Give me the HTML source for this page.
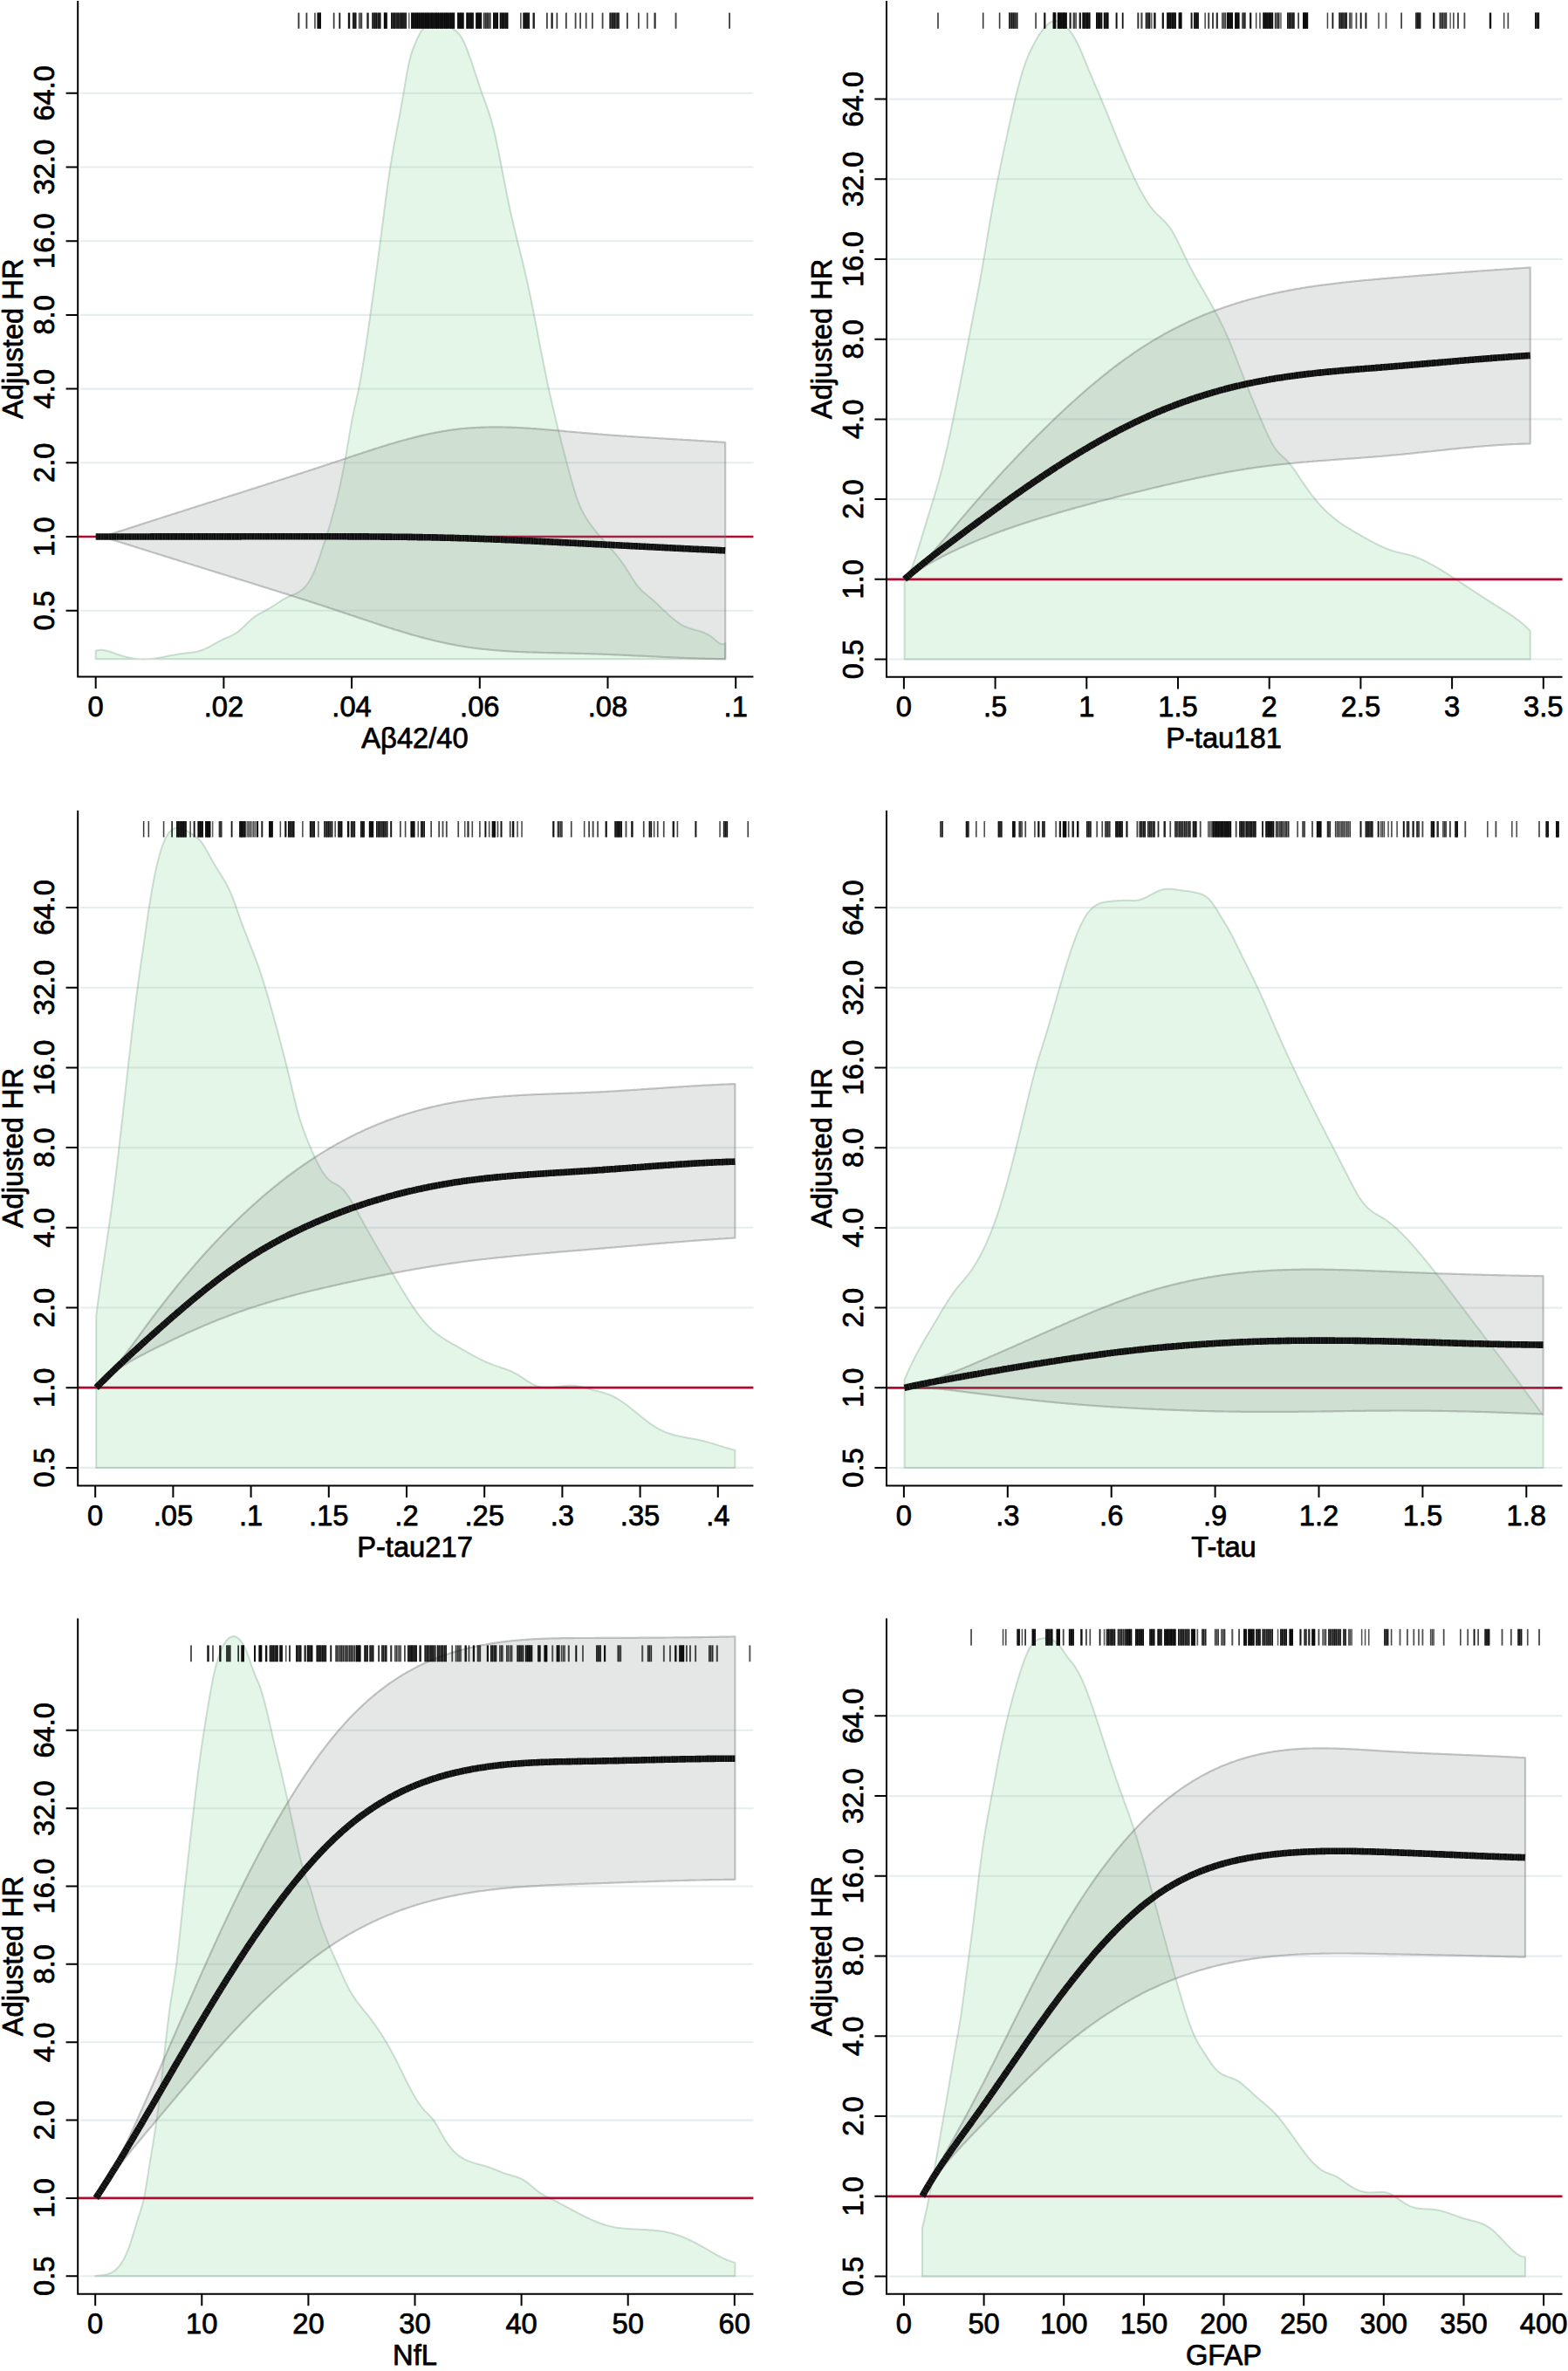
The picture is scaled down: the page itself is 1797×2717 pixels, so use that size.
<!DOCTYPE html>
<html lang="en">
<head>
<meta charset="utf-8">
<title>Adjusted HR spline curves</title>
<style>
html,body{margin:0;padding:0;background:#fff;}
body{width:1797px;height:2717px;overflow:hidden;}
svg{display:block;}
</style>
</head>
<body>
<svg width="1797" height="2717" viewBox="0 0 1797 2717">
<rect width="1797" height="2717" fill="#fff"/>
<g id="panel1">
<path d="M91.7 699.7H863.4M91.7 530.3H863.4M91.7 445.6H863.4M91.7 360.9H863.4M91.7 276.2H863.4M91.7 191.5H863.4M91.7 106.8H863.4" stroke="#e6edef" stroke-width="2.1" fill="none"/>
<path d="M109.7 755.2 L109.7 745.7 L111.2 745.3 L112.7 745 L114.2 744.8 L115.7 744.8 L117.2 744.8 L118.7 745 L120.2 745.2 L121.7 745.6 L123.2 745.9 L124.7 746.4 L126.2 746.8 L127.7 747.3 L129.2 747.9 L130.7 748.4 L132.2 749 L133.7 749.5 L135.2 750 L136.7 750.5 L138.2 751 L139.7 751.5 L141.2 751.9 L142.7 752.3 L144.2 752.7 L145.7 753.1 L147.2 753.4 L148.7 753.7 L150.2 754 L151.7 754.3 L153.2 754.5 L154.7 754.7 L156.2 754.9 L157.7 755 L159.2 755.2 L160.7 755.3 L162.2 755.3 L163.7 755.4 L165.2 755.4 L166.7 755.4 L168.2 755.3 L169.7 755.2 L171.2 755.1 L172.7 755 L174.2 754.8 L175.7 754.7 L177.2 754.5 L178.7 754.3 L180.2 754 L181.7 753.8 L183.2 753.5 L184.7 753.3 L186.2 753 L187.7 752.7 L189.2 752.4 L190.7 752.1 L192.2 751.9 L193.7 751.6 L195.2 751.3 L196.7 751 L198.2 750.7 L199.7 750.4 L201.2 750.1 L202.7 749.9 L204.2 749.6 L205.7 749.4 L207.2 749.1 L208.7 748.9 L210.2 748.7 L211.7 748.6 L213.2 748.4 L214.7 748.2 L216.2 748 L217.7 747.9 L219.2 747.7 L220.7 747.5 L222.2 747.2 L223.7 747 L225.2 746.7 L226.7 746.4 L228.2 746 L229.7 745.5 L231.2 745.1 L232.7 744.5 L234.2 743.9 L235.7 743.2 L237.2 742.5 L238.7 741.8 L240.2 741 L241.7 740.2 L243.2 739.3 L244.7 738.5 L246.2 737.6 L247.7 736.8 L249.2 735.9 L250.7 735.1 L252.2 734.3 L253.7 733.6 L255.2 732.8 L256.7 732.1 L258.2 731.5 L259.7 730.9 L261.2 730.2 L262.7 729.6 L264.2 728.9 L265.7 728.2 L267.2 727.4 L268.7 726.6 L270.2 725.7 L271.7 724.7 L273.2 723.6 L274.7 722.3 L276.2 721 L277.7 719.6 L279.2 718.2 L280.7 716.7 L282.2 715.2 L283.7 713.8 L285.2 712.3 L286.7 710.9 L288.2 709.6 L289.7 708.3 L291.2 707.2 L292.7 706.1 L294.2 705.2 L295.7 704.2 L297.2 703.4 L298.7 702.6 L300.2 701.8 L301.7 701 L303.2 700.2 L304.7 699.4 L306.2 698.6 L307.7 697.7 L309.2 696.8 L310.7 695.9 L312.2 694.9 L313.7 694 L315.2 693 L316.7 692 L318.2 691 L319.7 690 L321.2 689.1 L322.7 688.1 L324.2 687.2 L325.7 686.4 L327.2 685.5 L328.7 684.7 L330.2 684 L331.7 683.3 L333.2 682.7 L334.7 682.1 L336.2 681.5 L337.7 680.8 L339.2 680.1 L340.7 679.3 L342.2 678.5 L343.7 677.5 L345.2 676.5 L346.7 675.3 L348.2 673.9 L349.7 672.3 L351.2 670.5 L352.7 668.5 L354.2 666.3 L355.7 663.8 L357.2 661 L358.7 657.9 L360.2 654.5 L361.7 650.8 L363.2 646.9 L364.7 642.8 L366.2 638.5 L367.7 634 L369.2 629.5 L370.7 624.9 L372.2 620.3 L373.7 615.6 L375.2 610.9 L376.7 606 L378.2 601 L379.7 595.8 L381.2 590.5 L382.7 585 L384.2 579.3 L385.7 573.4 L387.2 567.3 L388.7 560.8 L390.2 554.1 L391.7 547 L393.2 539.5 L394.7 531.6 L396.2 523.2 L397.7 514.3 L399.2 505.3 L400.7 496.3 L402.2 487.8 L403.7 479.8 L405.2 472.5 L406.7 465.6 L408.2 458.8 L409.7 452 L411.2 444.8 L412.7 437 L414.2 428.7 L415.7 419.7 L417.2 410.3 L418.7 400.5 L420.2 390.4 L421.7 380.1 L423.2 369.5 L424.7 358.9 L426.2 348.1 L427.7 337.3 L429.2 326.4 L430.7 315.4 L432.2 304.3 L433.7 293.1 L435.2 281.6 L436.7 270 L438.2 258.3 L439.7 246.6 L441.2 235 L442.7 223.6 L444.2 212.5 L445.7 202 L447.2 192 L448.7 182.6 L450.2 173.9 L451.7 165.6 L453.2 157.5 L454.7 149.6 L456.2 141.7 L457.7 133.7 L459.2 125.4 L460.7 116.9 L462.2 108.2 L463.7 99.3 L465.2 90.4 L466.7 81.9 L468.2 74.3 L469.7 67.8 L471.2 62.3 L472.7 57.6 L474.2 53.6 L475.7 49.9 L477.2 46.5 L478.7 43.2 L480.2 40.2 L481.7 37.5 L483.2 35.2 L484.7 33.4 L486.2 31.9 L487.7 30.8 L489.2 30 L490.7 29.3 L492.2 28.8 L493.7 28.3 L495.2 27.9 L496.7 27.6 L498.2 27.4 L499.7 27.2 L501.2 27.1 L502.7 27 L504.2 27.1 L505.7 27.3 L507.2 27.6 L508.7 27.9 L510.2 28.4 L511.7 29 L513.2 29.7 L514.7 30.5 L516.2 31.4 L517.7 32.3 L519.2 33.2 L520.7 34.2 L522.2 35.2 L523.7 36.5 L525.2 38 L526.7 39.7 L528.2 41.9 L529.7 44.4 L531.2 47.3 L532.7 50.6 L534.2 54.1 L535.7 57.9 L537.2 61.8 L538.7 66 L540.2 70.4 L541.7 74.8 L543.2 79.4 L544.7 84 L546.2 88.6 L547.7 93.1 L549.2 97.7 L550.7 102.1 L552.2 106.4 L553.7 110.6 L555.2 114.6 L556.7 118.7 L558.2 122.8 L559.7 127.1 L561.2 131.7 L562.7 136.6 L564.2 142 L565.7 147.9 L567.2 154.3 L568.7 161 L570.2 168.2 L571.7 175.5 L573.2 183.1 L574.7 190.8 L576.2 198.6 L577.7 206.4 L579.2 214.1 L580.7 221.7 L582.2 229.2 L583.7 236.4 L585.2 243.3 L586.7 249.9 L588.2 256.4 L589.7 262.7 L591.2 268.8 L592.7 274.9 L594.2 280.9 L595.7 286.9 L597.2 293 L598.7 299.1 L600.2 305.3 L601.7 311.6 L603.2 318.2 L604.7 324.9 L606.2 331.9 L607.7 339.1 L609.2 346.5 L610.7 354 L612.2 361.6 L613.7 369.3 L615.2 377.1 L616.7 384.8 L618.2 392.6 L619.7 400.4 L621.2 408 L622.7 415.6 L624.2 423 L625.7 430.4 L627.2 437.6 L628.7 444.6 L630.2 451.5 L631.7 458.2 L633.2 464.8 L634.7 471.3 L636.2 477.6 L637.7 483.9 L639.2 490 L640.7 496 L642.2 502 L643.7 507.9 L645.2 513.7 L646.7 519.4 L648.2 525.2 L649.7 530.8 L651.2 536.5 L652.7 542.1 L654.2 547.7 L655.7 553.1 L657.2 558.3 L658.7 563.3 L660.2 568.1 L661.7 572.5 L663.2 576.5 L664.7 580.1 L666.2 583.5 L667.7 586.5 L669.2 589.3 L670.7 591.8 L672.2 594.2 L673.7 596.5 L675.2 598.7 L676.7 600.8 L678.2 602.9 L679.7 604.9 L681.2 606.8 L682.7 608.7 L684.2 610.5 L685.7 612.3 L687.2 614.1 L688.7 615.8 L690.2 617.5 L691.7 619.2 L693.2 620.9 L694.7 622.5 L696.2 624.2 L697.7 625.9 L699.2 627.6 L700.7 629.3 L702.2 631 L703.7 632.8 L705.2 634.6 L706.7 636.4 L708.2 638.3 L709.7 640.2 L711.2 642.2 L712.7 644.2 L714.2 646.4 L715.7 648.5 L717.2 650.8 L718.7 653.1 L720.2 655.5 L721.7 657.9 L723.2 660.3 L724.7 662.7 L726.2 665 L727.7 667.3 L729.2 669.4 L730.7 671.4 L732.2 673.3 L733.7 674.9 L735.2 676.5 L736.7 677.9 L738.2 679.3 L739.7 680.6 L741.2 681.8 L742.7 683 L744.2 684.2 L745.7 685.4 L747.2 686.7 L748.7 688 L750.2 689.4 L751.7 690.7 L753.2 692.1 L754.7 693.5 L756.2 695 L757.7 696.4 L759.2 697.8 L760.7 699.3 L762.2 700.7 L763.7 702.1 L765.2 703.5 L766.7 704.8 L768.2 706.2 L769.7 707.5 L771.2 708.8 L772.7 710 L774.2 711.2 L775.7 712.3 L777.2 713.4 L778.7 714.4 L780.2 715.4 L781.7 716.3 L783.2 717.1 L784.7 717.8 L786.2 718.4 L787.7 719 L789.2 719.6 L790.7 720.1 L792.2 720.5 L793.7 721 L795.2 721.4 L796.7 721.8 L798.2 722.2 L799.7 722.6 L801.2 723 L802.7 723.5 L804.2 724 L805.7 724.5 L807.2 725.1 L808.7 725.8 L810.2 726.5 L811.7 727.3 L813.2 728.2 L814.7 729.2 L816.2 730.3 L817.7 731.5 L819.2 732.9 L820.7 734.2 L822.2 735.5 L823.7 736.6 L825.2 737.5 L826.7 738.1 L828.2 738.2 L829.7 738 L831.2 737.1 L831.2 755.2Z" fill="rgba(120,210,135,0.2)" stroke="rgba(95,145,110,0.28)" stroke-width="2" stroke-linejoin="round"/>
<path d="M89.2 615H863.4" stroke="#b00a30" stroke-width="2.7" fill="none"/>
<path d="M117.4 615 L119.4 614.4 L121.4 613.7 L123.4 613.1 L125.4 612.5 L127.4 611.8 L129.4 611.2 L131.4 610.6 L133.4 609.9 L135.4 609.3 L137.4 608.6 L139.4 608 L141.4 607.4 L143.4 606.7 L145.4 606.1 L147.4 605.4 L149.4 604.8 L151.4 604.1 L153.4 603.5 L155.4 602.9 L157.4 602.2 L159.4 601.6 L161.4 600.9 L163.4 600.3 L165.4 599.6 L167.4 599 L169.4 598.3 L171.4 597.7 L173.4 597 L175.4 596.4 L177.4 595.8 L179.4 595.1 L181.4 594.5 L183.4 593.8 L185.4 593.2 L187.4 592.5 L189.4 591.9 L191.4 591.3 L193.4 590.6 L195.4 590 L197.4 589.3 L199.4 588.7 L201.4 588.1 L203.4 587.4 L205.4 586.8 L207.4 586.2 L209.4 585.5 L211.4 584.9 L213.4 584.2 L215.4 583.6 L217.4 583 L219.4 582.3 L221.4 581.7 L223.4 581.1 L225.4 580.4 L227.4 579.8 L229.4 579.2 L231.4 578.5 L233.4 577.9 L235.4 577.3 L237.4 576.6 L239.4 576 L241.4 575.4 L243.4 574.7 L245.4 574.1 L247.4 573.5 L249.4 572.8 L251.4 572.2 L253.4 571.6 L255.4 570.9 L257.4 570.3 L259.4 569.7 L261.4 569 L263.4 568.4 L265.4 567.8 L267.4 567.1 L269.4 566.5 L271.4 565.9 L273.4 565.2 L275.4 564.6 L277.4 564 L279.4 563.3 L281.4 562.7 L283.4 562 L285.4 561.4 L287.4 560.8 L289.4 560.1 L291.4 559.5 L293.4 558.9 L295.4 558.2 L297.3 557.6 L299.3 557 L301.3 556.3 L303.3 555.7 L305.3 555 L307.3 554.4 L309.3 553.8 L311.3 553.1 L313.3 552.5 L315.3 551.8 L317.3 551.2 L319.3 550.5 L321.3 549.9 L323.3 549.3 L325.3 548.6 L327.3 548 L329.3 547.3 L331.3 546.7 L333.3 546 L335.3 545.4 L337.3 544.7 L339.3 544.1 L341.3 543.4 L343.3 542.8 L345.3 542.1 L347.3 541.5 L349.3 540.8 L351.3 540.2 L353.3 539.5 L355.3 538.9 L357.3 538.2 L359.3 537.6 L361.3 536.9 L363.3 536.3 L365.3 535.6 L367.3 535 L369.3 534.3 L371.3 533.6 L373.3 533 L375.3 532.3 L377.3 531.7 L379.3 531 L381.3 530.3 L383.3 529.7 L385.3 529 L387.3 528.3 L389.3 527.7 L391.3 527 L393.3 526.3 L395.3 525.7 L397.3 525 L399.3 524.3 L401.3 523.6 L403.3 523 L405.3 522.3 L407.3 521.6 L409.3 521 L411.3 520.3 L413.3 519.7 L415.3 519 L417.3 518.3 L419.3 517.7 L421.3 517 L423.3 516.4 L425.3 515.7 L427.3 515.1 L429.3 514.4 L431.3 513.8 L433.3 513.2 L435.3 512.5 L437.3 511.9 L439.3 511.3 L441.3 510.7 L443.3 510.1 L445.3 509.4 L447.3 508.8 L449.3 508.2 L451.3 507.7 L453.3 507.1 L455.3 506.5 L457.3 505.9 L459.3 505.3 L461.3 504.8 L463.3 504.2 L465.3 503.7 L467.3 503.1 L469.3 502.6 L471.3 502.1 L473.3 501.6 L475.3 501.1 L477.3 500.6 L479.3 500.1 L481.3 499.6 L483.3 499.1 L485.3 498.6 L487.3 498.2 L489.3 497.7 L491.3 497.3 L493.3 496.9 L495.3 496.5 L497.3 496.1 L499.3 495.7 L501.3 495.3 L503.3 494.9 L505.3 494.6 L507.3 494.2 L509.3 493.9 L511.3 493.6 L513.3 493.2 L515.3 492.9 L517.3 492.7 L519.3 492.4 L521.3 492.1 L523.3 491.9 L525.3 491.6 L527.3 491.4 L529.3 491.2 L531.3 491 L533.3 490.8 L535.3 490.6 L537.3 490.5 L539.3 490.3 L541.3 490.2 L543.3 490.1 L545.3 490 L547.3 489.9 L549.3 489.8 L551.3 489.7 L553.3 489.6 L555.3 489.6 L557.3 489.5 L559.3 489.5 L561.3 489.4 L563.3 489.4 L565.3 489.4 L567.3 489.4 L569.3 489.4 L571.3 489.4 L573.3 489.4 L575.3 489.4 L577.3 489.5 L579.3 489.5 L581.3 489.6 L583.3 489.6 L585.3 489.7 L587.3 489.8 L589.3 489.9 L591.3 489.9 L593.3 490 L595.3 490.1 L597.3 490.2 L599.3 490.3 L601.3 490.5 L603.3 490.6 L605.3 490.7 L607.3 490.8 L609.3 491 L611.3 491.1 L613.3 491.2 L615.3 491.4 L617.3 491.5 L619.3 491.7 L621.3 491.8 L623.3 492 L625.3 492.2 L627.3 492.3 L629.3 492.5 L631.3 492.7 L633.3 492.8 L635.3 493 L637.3 493.2 L639.3 493.4 L641.3 493.6 L643.3 493.7 L645.3 493.9 L647.3 494.1 L649.3 494.3 L651.3 494.5 L653.2 494.6 L655.2 494.8 L657.2 495 L659.2 495.2 L661.2 495.4 L663.2 495.5 L665.2 495.7 L667.2 495.9 L669.2 496.1 L671.2 496.2 L673.2 496.4 L675.2 496.6 L677.2 496.7 L679.2 496.9 L681.2 497.1 L683.2 497.2 L685.2 497.4 L687.2 497.5 L689.2 497.7 L691.2 497.9 L693.2 498 L695.2 498.2 L697.2 498.3 L699.2 498.5 L701.2 498.6 L703.2 498.8 L705.2 498.9 L707.2 499 L709.2 499.2 L711.2 499.3 L713.2 499.5 L715.2 499.6 L717.2 499.7 L719.2 499.9 L721.2 500 L723.2 500.1 L725.2 500.3 L727.2 500.4 L729.2 500.5 L731.2 500.7 L733.2 500.8 L735.2 500.9 L737.2 501 L739.2 501.2 L741.2 501.3 L743.2 501.4 L745.2 501.5 L747.2 501.7 L749.2 501.8 L751.2 501.9 L753.2 502 L755.2 502.2 L757.2 502.3 L759.2 502.4 L761.2 502.5 L763.2 502.7 L765.2 502.8 L767.2 502.9 L769.2 503 L771.2 503.1 L773.2 503.3 L775.2 503.4 L777.2 503.5 L779.2 503.6 L781.2 503.7 L783.2 503.9 L785.2 504 L787.2 504.1 L789.2 504.2 L791.2 504.3 L793.2 504.5 L795.2 504.6 L797.2 504.7 L799.2 504.8 L801.2 505 L803.2 505.1 L805.2 505.2 L807.2 505.3 L809.2 505.5 L811.2 505.6 L813.2 505.7 L815.2 505.8 L817.2 506 L819.2 506.1 L821.2 506.2 L823.2 506.4 L825.2 506.5 L827.2 506.6 L829.2 506.8 L831.2 506.9 L831.2 755.2 L829.2 755.2 L827.2 755.1 L825.2 755.1 L823.2 755.1 L821.2 755.1 L819.2 755 L817.2 755 L815.2 754.9 L813.2 754.9 L811.2 754.8 L809.2 754.8 L807.2 754.7 L805.2 754.7 L803.2 754.6 L801.2 754.6 L799.2 754.5 L797.2 754.4 L795.2 754.4 L793.2 754.3 L791.2 754.2 L789.2 754.1 L787.2 754.1 L785.2 754 L783.2 753.9 L781.2 753.8 L779.2 753.8 L777.2 753.7 L775.2 753.6 L773.2 753.5 L771.2 753.4 L769.2 753.3 L767.2 753.2 L765.2 753.2 L763.2 753.1 L761.2 753 L759.2 752.9 L757.2 752.8 L755.2 752.7 L753.2 752.6 L751.2 752.5 L749.2 752.4 L747.2 752.3 L745.2 752.2 L743.2 752.1 L741.2 752 L739.2 751.9 L737.2 751.8 L735.2 751.7 L733.2 751.6 L731.2 751.6 L729.2 751.5 L727.2 751.4 L725.2 751.3 L723.2 751.2 L721.2 751.1 L719.2 751 L717.2 750.9 L715.2 750.8 L713.2 750.7 L711.2 750.6 L709.2 750.5 L707.2 750.4 L705.2 750.4 L703.2 750.3 L701.2 750.2 L699.2 750.1 L697.2 750 L695.2 749.9 L693.2 749.9 L691.2 749.8 L689.2 749.7 L687.2 749.6 L685.2 749.5 L683.2 749.5 L681.2 749.4 L679.2 749.3 L677.2 749.3 L675.2 749.2 L673.2 749.1 L671.2 749.1 L669.2 749 L667.2 749 L665.2 748.9 L663.2 748.9 L661.2 748.8 L659.2 748.8 L657.2 748.7 L655.2 748.7 L653.2 748.6 L651.3 748.6 L649.3 748.5 L647.3 748.5 L645.3 748.5 L643.3 748.4 L641.3 748.4 L639.3 748.3 L637.3 748.3 L635.3 748.2 L633.3 748.2 L631.3 748.2 L629.3 748.1 L627.3 748.1 L625.3 748 L623.3 748 L621.3 747.9 L619.3 747.8 L617.3 747.8 L615.3 747.7 L613.3 747.7 L611.3 747.6 L609.3 747.5 L607.3 747.5 L605.3 747.4 L603.3 747.3 L601.3 747.2 L599.3 747.2 L597.3 747.1 L595.3 747 L593.3 746.9 L591.3 746.8 L589.3 746.7 L587.3 746.6 L585.3 746.4 L583.3 746.3 L581.3 746.2 L579.3 746.1 L577.3 745.9 L575.3 745.8 L573.3 745.6 L571.3 745.5 L569.3 745.3 L567.3 745.2 L565.3 745 L563.3 744.8 L561.3 744.6 L559.3 744.4 L557.3 744.2 L555.3 744 L553.3 743.8 L551.3 743.6 L549.3 743.3 L547.3 743.1 L545.3 742.8 L543.3 742.6 L541.3 742.3 L539.3 742 L537.3 741.8 L535.3 741.5 L533.3 741.2 L531.3 740.8 L529.3 740.5 L527.3 740.2 L525.3 739.8 L523.3 739.5 L521.3 739.1 L519.3 738.7 L517.3 738.4 L515.3 738 L513.3 737.6 L511.3 737.1 L509.3 736.7 L507.3 736.3 L505.3 735.8 L503.3 735.4 L501.3 734.9 L499.3 734.5 L497.3 734 L495.3 733.5 L493.3 733 L491.3 732.5 L489.3 732 L487.3 731.5 L485.3 730.9 L483.3 730.4 L481.3 729.9 L479.3 729.3 L477.3 728.8 L475.3 728.2 L473.3 727.7 L471.3 727.1 L469.3 726.5 L467.3 725.9 L465.3 725.3 L463.3 724.7 L461.3 724.1 L459.3 723.5 L457.3 722.9 L455.3 722.3 L453.3 721.7 L451.3 721.1 L449.3 720.4 L447.3 719.8 L445.3 719.2 L443.3 718.5 L441.3 717.9 L439.3 717.2 L437.3 716.6 L435.3 715.9 L433.3 715.3 L431.3 714.6 L429.3 714 L427.3 713.3 L425.3 712.6 L423.3 712 L421.3 711.3 L419.3 710.6 L417.3 710 L415.3 709.3 L413.3 708.6 L411.3 708 L409.3 707.3 L407.3 706.6 L405.3 705.9 L403.3 705.3 L401.3 704.6 L399.3 703.9 L397.3 703.2 L395.3 702.6 L393.3 701.9 L391.3 701.2 L389.3 700.6 L387.3 699.9 L385.3 699.2 L383.3 698.6 L381.3 697.9 L379.3 697.2 L377.3 696.6 L375.3 695.9 L373.3 695.3 L371.3 694.6 L369.3 694 L367.3 693.3 L365.3 692.7 L363.3 692 L361.3 691.4 L359.3 690.7 L357.3 690.1 L355.3 689.4 L353.3 688.8 L351.3 688.1 L349.3 687.5 L347.3 686.9 L345.3 686.2 L343.3 685.6 L341.3 685 L339.3 684.3 L337.3 683.7 L335.3 683 L333.3 682.4 L331.3 681.8 L329.3 681.1 L327.3 680.5 L325.3 679.9 L323.3 679.3 L321.3 678.6 L319.3 678 L317.3 677.4 L315.3 676.7 L313.3 676.1 L311.3 675.5 L309.3 674.9 L307.3 674.2 L305.3 673.6 L303.3 673 L301.3 672.4 L299.3 671.8 L297.3 671.1 L295.4 670.5 L293.4 669.9 L291.4 669.3 L289.4 668.6 L287.4 668 L285.4 667.4 L283.4 666.8 L281.4 666.2 L279.4 665.5 L277.4 664.9 L275.4 664.3 L273.4 663.7 L271.4 663.1 L269.4 662.4 L267.4 661.8 L265.4 661.2 L263.4 660.6 L261.4 660 L259.4 659.3 L257.4 658.7 L255.4 658.1 L253.4 657.5 L251.4 656.9 L249.4 656.2 L247.4 655.6 L245.4 655 L243.4 654.4 L241.4 653.8 L239.4 653.1 L237.4 652.5 L235.4 651.9 L233.4 651.3 L231.4 650.6 L229.4 650 L227.4 649.4 L225.4 648.8 L223.4 648.2 L221.4 647.5 L219.4 646.9 L217.4 646.3 L215.4 645.7 L213.4 645 L211.4 644.4 L209.4 643.8 L207.4 643.2 L205.4 642.6 L203.4 641.9 L201.4 641.3 L199.4 640.7 L197.4 640.1 L195.4 639.4 L193.4 638.8 L191.4 638.2 L189.4 637.6 L187.4 636.9 L185.4 636.3 L183.4 635.7 L181.4 635.1 L179.4 634.4 L177.4 633.8 L175.4 633.2 L173.4 632.5 L171.4 631.9 L169.4 631.3 L167.4 630.7 L165.4 630 L163.4 629.4 L161.4 628.8 L159.4 628.2 L157.4 627.5 L155.4 626.9 L153.4 626.3 L151.4 625.6 L149.4 625 L147.4 624.4 L145.4 623.8 L143.4 623.1 L141.4 622.5 L139.4 621.9 L137.4 621.2 L135.4 620.6 L133.4 620 L131.4 619.4 L129.4 618.7 L127.4 618.1 L125.4 617.5 L123.4 616.9 L121.4 616.2 L119.4 615.6 L117.4 615Z" fill="rgba(125,135,130,0.2)" stroke="rgba(112,116,114,0.40)" stroke-width="2.2" stroke-linejoin="round"/>
<g fill="#0a0a0a"><rect x="341.4" y="14.6" width="1.9" height="18.2" fill-opacity="0.81"/><rect x="350.5" y="14.6" width="1.8" height="18.2" fill-opacity="0.81"/><rect x="360.2" y="14.6" width="1.5" height="18.2" fill-opacity="0.81"/><rect x="363.6" y="14.6" width="4.3" height="18.2" fill-opacity="0.84"/><rect x="363.6" y="14.6" width="1.4" height="18.2" fill-opacity="0.95"/><rect x="365.3" y="14.6" width="1.4" height="18.2" fill-opacity="0.95"/><rect x="366.5" y="14.6" width="1.4" height="18.2" fill-opacity="0.95"/><rect x="381.8" y="14.6" width="1.7" height="18.2" fill-opacity="0.81"/><rect x="388.4" y="14.6" width="1.8" height="18.2" fill-opacity="0.96"/><rect x="398.8" y="14.6" width="2.4" height="18.2" fill-opacity="0.96"/><rect x="404" y="14.6" width="4.4" height="18.2" fill-opacity="0.63"/><rect x="404" y="14.6" width="1.4" height="18.2" fill-opacity="0.88"/><rect x="405.5" y="14.6" width="1.4" height="18.2" fill-opacity="0.88"/><rect x="407" y="14.6" width="1.4" height="18.2" fill-opacity="0.88"/><rect x="410.9" y="14.6" width="4.3" height="18.2" fill-opacity="0.21"/><rect x="410.9" y="14.6" width="1.4" height="18.2" fill-opacity="0.68"/><rect x="412.6" y="14.6" width="1.4" height="18.2" fill-opacity="0.68"/><rect x="413.8" y="14.6" width="1.4" height="18.2" fill-opacity="0.68"/><rect x="420.3" y="14.6" width="2.4" height="18.2" fill-opacity="0.91"/><rect x="426.4" y="14.6" width="10" height="18.2" fill-opacity="0.73"/><rect x="426.4" y="14.6" width="1.4" height="18.2" fill-opacity="0.93"/><rect x="428.7" y="14.6" width="1.4" height="18.2" fill-opacity="0.93"/><rect x="430.6" y="14.6" width="1.4" height="18.2" fill-opacity="0.93"/><rect x="433.1" y="14.6" width="1.4" height="18.2" fill-opacity="0.93"/><rect x="435" y="14.6" width="1.4" height="18.2" fill-opacity="0.93"/><rect x="439.9" y="14.6" width="3.8" height="18.2" fill-opacity="0.84"/><rect x="439.9" y="14.6" width="1.4" height="18.2" fill-opacity="0.95"/><rect x="440.9" y="14.6" width="1.4" height="18.2" fill-opacity="0.95"/><rect x="442.3" y="14.6" width="1.4" height="18.2" fill-opacity="0.95"/><rect x="448" y="14.6" width="18" height="18.2" fill-opacity="0.73"/><rect x="448" y="14.6" width="1.4" height="18.2" fill-opacity="0.93"/><rect x="450.1" y="14.6" width="1.4" height="18.2" fill-opacity="0.93"/><rect x="451.9" y="14.6" width="1.4" height="18.2" fill-opacity="0.93"/><rect x="454.3" y="14.6" width="1.4" height="18.2" fill-opacity="0.93"/><rect x="456.2" y="14.6" width="1.4" height="18.2" fill-opacity="0.93"/><rect x="458.6" y="14.6" width="1.4" height="18.2" fill-opacity="0.93"/><rect x="460.4" y="14.6" width="1.4" height="18.2" fill-opacity="0.93"/><rect x="462.3" y="14.6" width="1.4" height="18.2" fill-opacity="0.93"/><rect x="464.6" y="14.6" width="1.4" height="18.2" fill-opacity="0.93"/><rect x="467.9" y="14.6" width="1.7" height="18.2" fill-opacity="0.56"/><rect x="471.2" y="14.6" width="49.9" height="18.2" fill-opacity="0.92"/><rect x="471.2" y="14.6" width="1.4" height="18.2" fill-opacity="0.95"/><rect x="473.3" y="14.6" width="1.4" height="18.2" fill-opacity="0.95"/><rect x="475.8" y="14.6" width="1.4" height="18.2" fill-opacity="0.95"/><rect x="477.8" y="14.6" width="1.4" height="18.2" fill-opacity="0.95"/><rect x="479.8" y="14.6" width="1.4" height="18.2" fill-opacity="0.95"/><rect x="482.3" y="14.6" width="1.4" height="18.2" fill-opacity="0.95"/><rect x="484.3" y="14.6" width="1.4" height="18.2" fill-opacity="0.95"/><rect x="486.9" y="14.6" width="1.4" height="18.2" fill-opacity="0.95"/><rect x="488.8" y="14.6" width="1.4" height="18.2" fill-opacity="0.95"/><rect x="490.8" y="14.6" width="1.4" height="18.2" fill-opacity="0.95"/><rect x="493.4" y="14.6" width="1.4" height="18.2" fill-opacity="0.95"/><rect x="495.3" y="14.6" width="1.4" height="18.2" fill-opacity="0.95"/><rect x="497.9" y="14.6" width="1.4" height="18.2" fill-opacity="0.95"/><rect x="499.9" y="14.6" width="1.4" height="18.2" fill-opacity="0.95"/><rect x="501.8" y="14.6" width="1.4" height="18.2" fill-opacity="0.95"/><rect x="504.4" y="14.6" width="1.4" height="18.2" fill-opacity="0.95"/><rect x="506.4" y="14.6" width="1.4" height="18.2" fill-opacity="0.95"/><rect x="508.9" y="14.6" width="1.4" height="18.2" fill-opacity="0.95"/><rect x="510.9" y="14.6" width="1.4" height="18.2" fill-opacity="0.95"/><rect x="512.8" y="14.6" width="1.4" height="18.2" fill-opacity="0.95"/><rect x="515.4" y="14.6" width="1.4" height="18.2" fill-opacity="0.95"/><rect x="517.4" y="14.6" width="1.4" height="18.2" fill-opacity="0.95"/><rect x="519.7" y="14.6" width="1.4" height="18.2" fill-opacity="0.95"/><rect x="524.2" y="14.6" width="7.3" height="18.2" fill-opacity="0.92"/><rect x="524.2" y="14.6" width="1.4" height="18.2" fill-opacity="0.95"/><rect x="526.3" y="14.6" width="1.4" height="18.2" fill-opacity="0.95"/><rect x="528" y="14.6" width="1.4" height="18.2" fill-opacity="0.95"/><rect x="530.1" y="14.6" width="1.4" height="18.2" fill-opacity="0.95"/><rect x="534.4" y="14.6" width="8.3" height="18.2" fill-opacity="0.84"/><rect x="534.4" y="14.6" width="1.4" height="18.2" fill-opacity="0.95"/><rect x="535.9" y="14.6" width="1.4" height="18.2" fill-opacity="0.95"/><rect x="538" y="14.6" width="1.4" height="18.2" fill-opacity="0.95"/><rect x="539.5" y="14.6" width="1.4" height="18.2" fill-opacity="0.95"/><rect x="541.3" y="14.6" width="1.4" height="18.2" fill-opacity="0.95"/><rect x="545.3" y="14.6" width="6.8" height="18.2" fill-opacity="0.92"/><rect x="545.3" y="14.6" width="1.4" height="18.2" fill-opacity="0.95"/><rect x="547.1" y="14.6" width="1.4" height="18.2" fill-opacity="0.95"/><rect x="548.7" y="14.6" width="1.4" height="18.2" fill-opacity="0.95"/><rect x="550.7" y="14.6" width="1.4" height="18.2" fill-opacity="0.95"/><rect x="553.9" y="14.6" width="8.6" height="18.2" fill-opacity="0.42"/><rect x="553.9" y="14.6" width="1.4" height="18.2" fill-opacity="0.78"/><rect x="555.9" y="14.6" width="1.4" height="18.2" fill-opacity="0.78"/><rect x="557.5" y="14.6" width="1.4" height="18.2" fill-opacity="0.78"/><rect x="559.1" y="14.6" width="1.4" height="18.2" fill-opacity="0.78"/><rect x="561.1" y="14.6" width="1.4" height="18.2" fill-opacity="0.78"/><rect x="565" y="14.6" width="6" height="18.2" fill-opacity="0.84"/><rect x="565" y="14.6" width="1.4" height="18.2" fill-opacity="0.95"/><rect x="566.4" y="14.6" width="1.4" height="18.2" fill-opacity="0.95"/><rect x="568.3" y="14.6" width="1.4" height="18.2" fill-opacity="0.95"/><rect x="569.6" y="14.6" width="1.4" height="18.2" fill-opacity="0.95"/><rect x="572.8" y="14.6" width="9.5" height="18.2" fill-opacity="0.84"/><rect x="572.8" y="14.6" width="1.4" height="18.2" fill-opacity="0.95"/><rect x="574.9" y="14.6" width="1.4" height="18.2" fill-opacity="0.95"/><rect x="576.7" y="14.6" width="1.4" height="18.2" fill-opacity="0.95"/><rect x="579.1" y="14.6" width="1.4" height="18.2" fill-opacity="0.95"/><rect x="580.9" y="14.6" width="1.4" height="18.2" fill-opacity="0.95"/><rect x="596.1" y="14.6" width="1.5" height="18.2" fill-opacity="0.76"/><rect x="599.5" y="14.6" width="7.4" height="18.2" fill-opacity="0.84"/><rect x="599.5" y="14.6" width="1.4" height="18.2" fill-opacity="0.95"/><rect x="601.5" y="14.6" width="1.4" height="18.2" fill-opacity="0.95"/><rect x="603.3" y="14.6" width="1.4" height="18.2" fill-opacity="0.95"/><rect x="605.5" y="14.6" width="1.4" height="18.2" fill-opacity="0.95"/><rect x="610.5" y="14.6" width="2.4" height="18.2" fill-opacity="0.91"/><rect x="626" y="14.6" width="1.8" height="18.2" fill-opacity="0.76"/><rect x="631.5" y="14.6" width="2.2" height="18.2" fill-opacity="0.96"/><rect x="637.5" y="14.6" width="1.7" height="18.2" fill-opacity="0.81"/><rect x="647.9" y="14.6" width="1.9" height="18.2" fill-opacity="0.76"/><rect x="658.7" y="14.6" width="1.8" height="18.2" fill-opacity="0.76"/><rect x="664.2" y="14.6" width="1.8" height="18.2" fill-opacity="0.76"/><rect x="670.8" y="14.6" width="1.8" height="18.2" fill-opacity="0.76"/><rect x="678" y="14.6" width="1.8" height="18.2" fill-opacity="0.76"/><rect x="689.7" y="14.6" width="1.8" height="18.2" fill-opacity="0.76"/><rect x="698.5" y="14.6" width="11.2" height="18.2" fill-opacity="0.63"/><rect x="698.5" y="14.6" width="1.4" height="18.2" fill-opacity="0.88"/><rect x="700.7" y="14.6" width="1.4" height="18.2" fill-opacity="0.88"/><rect x="702.4" y="14.6" width="1.4" height="18.2" fill-opacity="0.88"/><rect x="704.1" y="14.6" width="1.4" height="18.2" fill-opacity="0.88"/><rect x="706.5" y="14.6" width="1.4" height="18.2" fill-opacity="0.88"/><rect x="708.3" y="14.6" width="1.4" height="18.2" fill-opacity="0.88"/><rect x="718" y="14.6" width="1.9" height="18.2" fill-opacity="0.76"/><rect x="731" y="14.6" width="1.7" height="18.2" fill-opacity="0.76"/><rect x="741.1" y="14.6" width="1.6" height="18.2" fill-opacity="0.76"/><rect x="749.5" y="14.6" width="2.2" height="18.2" fill-opacity="0.86"/><rect x="773.6" y="14.6" width="1.9" height="18.2" fill-opacity="0.76"/><rect x="835.1" y="14.6" width="1.9" height="18.2" fill-opacity="0.76"/></g>
<path d="M109.7 615 L111.7 615 L113.7 615 L115.7 615 L117.7 615 L119.7 615 L121.7 615 L123.7 615 L125.7 615 L127.7 615 L129.7 615 L131.7 615 L133.7 615 L135.7 615 L137.7 615 L139.7 615 L141.7 615 L143.7 615 L145.7 615 L147.7 615 L149.7 615 L151.7 615 L153.7 615 L155.7 615 L157.7 615 L159.7 615 L161.7 615 L163.7 615 L165.7 615 L167.7 615 L169.7 615 L171.7 615 L173.7 614.9 L175.7 614.9 L177.7 614.9 L179.7 614.9 L181.7 614.9 L183.6 614.9 L185.6 614.9 L187.6 614.9 L189.6 614.9 L191.6 614.9 L193.6 614.9 L195.6 614.9 L197.6 614.9 L199.6 614.9 L201.6 614.9 L203.6 614.9 L205.6 614.9 L207.6 614.9 L209.6 614.9 L211.6 614.9 L213.6 614.9 L215.6 614.9 L217.6 614.9 L219.6 614.9 L221.6 614.9 L223.6 614.9 L225.6 614.9 L227.6 614.9 L229.6 614.9 L231.6 614.9 L233.6 614.9 L235.6 614.9 L237.6 614.9 L239.6 614.9 L241.6 614.9 L243.6 614.9 L245.6 614.9 L247.6 614.9 L249.6 614.9 L251.6 614.9 L253.6 614.9 L255.6 614.9 L257.6 614.9 L259.6 614.9 L261.6 614.9 L263.6 614.9 L265.6 614.9 L267.6 614.9 L269.6 614.9 L271.6 614.9 L273.6 614.9 L275.6 614.9 L277.6 614.8 L279.6 614.8 L281.6 614.8 L283.6 614.8 L285.6 614.8 L287.6 614.8 L289.6 614.8 L291.6 614.8 L293.6 614.8 L295.6 614.8 L297.6 614.8 L299.6 614.8 L301.6 614.8 L303.6 614.8 L305.6 614.8 L307.6 614.8 L309.6 614.8 L311.6 614.8 L313.6 614.8 L315.6 614.8 L317.6 614.8 L319.6 614.8 L321.6 614.8 L323.6 614.8 L325.6 614.8 L327.5 614.8 L329.5 614.8 L331.5 614.8 L333.5 614.8 L335.5 614.8 L337.5 614.8 L339.5 614.8 L341.5 614.8 L343.5 614.8 L345.5 614.8 L347.5 614.8 L349.5 614.8 L351.5 614.8 L353.5 614.8 L355.5 614.8 L357.5 614.8 L359.5 614.8 L361.5 614.8 L363.5 614.8 L365.5 614.8 L367.5 614.8 L369.5 614.8 L371.5 614.8 L373.5 614.8 L375.5 614.8 L377.5 614.8 L379.5 614.8 L381.5 614.8 L383.5 614.8 L385.5 614.8 L387.5 614.8 L389.5 614.8 L391.5 614.8 L393.5 614.8 L395.5 614.8 L397.5 614.8 L399.5 614.9 L401.5 614.9 L403.5 614.9 L405.5 614.9 L407.5 614.9 L409.5 614.9 L411.5 614.9 L413.5 614.9 L415.5 614.9 L417.5 614.9 L419.5 614.9 L421.5 614.9 L423.5 615 L425.5 615 L427.5 615 L429.5 615 L431.5 615 L433.5 615 L435.5 615 L437.5 615.1 L439.5 615.1 L441.5 615.1 L443.5 615.1 L445.5 615.1 L447.5 615.1 L449.5 615.2 L451.5 615.2 L453.5 615.2 L455.5 615.2 L457.5 615.2 L459.5 615.3 L461.5 615.3 L463.5 615.3 L465.5 615.3 L467.5 615.4 L469.5 615.4 L471.4 615.4 L473.4 615.5 L475.4 615.5 L477.4 615.5 L479.4 615.6 L481.4 615.6 L483.4 615.6 L485.4 615.7 L487.4 615.7 L489.4 615.7 L491.4 615.8 L493.4 615.8 L495.4 615.9 L497.4 615.9 L499.4 615.9 L501.4 616 L503.4 616 L505.4 616.1 L507.4 616.1 L509.4 616.2 L511.4 616.2 L513.4 616.3 L515.4 616.3 L517.4 616.4 L519.4 616.4 L521.4 616.5 L523.4 616.5 L525.4 616.6 L527.4 616.7 L529.4 616.7 L531.4 616.8 L533.4 616.8 L535.4 616.9 L537.4 617 L539.4 617 L541.4 617.1 L543.4 617.2 L545.4 617.3 L547.4 617.3 L549.4 617.4 L551.4 617.5 L553.4 617.5 L555.4 617.6 L557.4 617.7 L559.4 617.8 L561.4 617.8 L563.4 617.9 L565.4 618 L567.4 618.1 L569.4 618.2 L571.4 618.2 L573.4 618.3 L575.4 618.4 L577.4 618.5 L579.4 618.6 L581.4 618.7 L583.4 618.8 L585.4 618.8 L587.4 618.9 L589.4 619 L591.4 619.1 L593.4 619.2 L595.4 619.3 L597.4 619.4 L599.4 619.5 L601.4 619.6 L603.4 619.7 L605.4 619.8 L607.4 619.8 L609.4 619.9 L611.4 620 L613.4 620.1 L615.3 620.2 L617.3 620.3 L619.3 620.4 L621.3 620.5 L623.3 620.6 L625.3 620.7 L627.3 620.8 L629.3 620.9 L631.3 621 L633.3 621.1 L635.3 621.2 L637.3 621.3 L639.3 621.4 L641.3 621.5 L643.3 621.6 L645.3 621.7 L647.3 621.8 L649.3 621.9 L651.3 622 L653.3 622.1 L655.3 622.2 L657.3 622.3 L659.3 622.4 L661.3 622.5 L663.3 622.6 L665.3 622.7 L667.3 622.8 L669.3 622.9 L671.3 623 L673.3 623.1 L675.3 623.2 L677.3 623.3 L679.3 623.4 L681.3 623.5 L683.3 623.6 L685.3 623.7 L687.3 623.8 L689.3 623.9 L691.3 624 L693.3 624.1 L695.3 624.2 L697.3 624.3 L699.3 624.4 L701.3 624.5 L703.3 624.6 L705.3 624.7 L707.3 624.8 L709.3 624.9 L711.3 625 L713.3 625.1 L715.3 625.2 L717.3 625.3 L719.3 625.4 L721.3 625.5 L723.3 625.6 L725.3 625.7 L727.3 625.8 L729.3 625.9 L731.3 626 L733.3 626.1 L735.3 626.2 L737.3 626.3 L739.3 626.4 L741.3 626.5 L743.3 626.6 L745.3 626.7 L747.3 626.8 L749.3 626.9 L751.3 627 L753.3 627.1 L755.3 627.2 L757.3 627.3 L759.2 627.4 L761.2 627.5 L763.2 627.6 L765.2 627.7 L767.2 627.8 L769.2 627.9 L771.2 628 L773.2 628.1 L775.2 628.2 L777.2 628.3 L779.2 628.4 L781.2 628.5 L783.2 628.6 L785.2 628.7 L787.2 628.8 L789.2 628.9 L791.2 629 L793.2 629.1 L795.2 629.2 L797.2 629.3 L799.2 629.4 L801.2 629.5 L803.2 629.5 L805.2 629.6 L807.2 629.7 L809.2 629.8 L811.2 629.9 L813.2 630 L815.2 630.1 L817.2 630.2 L819.2 630.3 L821.2 630.4 L823.2 630.5 L825.2 630.6 L827.2 630.7 L829.2 630.8 L831.2 630.9" fill="none" stroke="#0d0d0d" stroke-width="7.6" stroke-linejoin="round"/>
<path d="M109.7 615 L111.7 615 L113.7 615 L115.7 615 L117.7 615 L119.7 615 L121.7 615 L123.7 615 L125.7 615 L127.7 615 L129.7 615 L131.7 615 L133.7 615 L135.7 615 L137.7 615 L139.7 615 L141.7 615 L143.7 615 L145.7 615 L147.7 615 L149.7 615 L151.7 615 L153.7 615 L155.7 615 L157.7 615 L159.7 615 L161.7 615 L163.7 615 L165.7 615 L167.7 615 L169.7 615 L171.7 615 L173.7 614.9 L175.7 614.9 L177.7 614.9 L179.7 614.9 L181.7 614.9 L183.6 614.9 L185.6 614.9 L187.6 614.9 L189.6 614.9 L191.6 614.9 L193.6 614.9 L195.6 614.9 L197.6 614.9 L199.6 614.9 L201.6 614.9 L203.6 614.9 L205.6 614.9 L207.6 614.9 L209.6 614.9 L211.6 614.9 L213.6 614.9 L215.6 614.9 L217.6 614.9 L219.6 614.9 L221.6 614.9 L223.6 614.9 L225.6 614.9 L227.6 614.9 L229.6 614.9 L231.6 614.9 L233.6 614.9 L235.6 614.9 L237.6 614.9 L239.6 614.9 L241.6 614.9 L243.6 614.9 L245.6 614.9 L247.6 614.9 L249.6 614.9 L251.6 614.9 L253.6 614.9 L255.6 614.9 L257.6 614.9 L259.6 614.9 L261.6 614.9 L263.6 614.9 L265.6 614.9 L267.6 614.9 L269.6 614.9 L271.6 614.9 L273.6 614.9 L275.6 614.9 L277.6 614.8 L279.6 614.8 L281.6 614.8 L283.6 614.8 L285.6 614.8 L287.6 614.8 L289.6 614.8 L291.6 614.8 L293.6 614.8 L295.6 614.8 L297.6 614.8 L299.6 614.8 L301.6 614.8 L303.6 614.8 L305.6 614.8 L307.6 614.8 L309.6 614.8 L311.6 614.8 L313.6 614.8 L315.6 614.8 L317.6 614.8 L319.6 614.8 L321.6 614.8 L323.6 614.8 L325.6 614.8 L327.5 614.8 L329.5 614.8 L331.5 614.8 L333.5 614.8 L335.5 614.8 L337.5 614.8 L339.5 614.8 L341.5 614.8 L343.5 614.8 L345.5 614.8 L347.5 614.8 L349.5 614.8 L351.5 614.8 L353.5 614.8 L355.5 614.8 L357.5 614.8 L359.5 614.8 L361.5 614.8 L363.5 614.8 L365.5 614.8 L367.5 614.8 L369.5 614.8 L371.5 614.8 L373.5 614.8 L375.5 614.8 L377.5 614.8 L379.5 614.8 L381.5 614.8 L383.5 614.8 L385.5 614.8 L387.5 614.8 L389.5 614.8 L391.5 614.8 L393.5 614.8 L395.5 614.8 L397.5 614.8 L399.5 614.9 L401.5 614.9 L403.5 614.9 L405.5 614.9 L407.5 614.9 L409.5 614.9 L411.5 614.9 L413.5 614.9 L415.5 614.9 L417.5 614.9 L419.5 614.9 L421.5 614.9 L423.5 615 L425.5 615 L427.5 615 L429.5 615 L431.5 615 L433.5 615 L435.5 615 L437.5 615.1 L439.5 615.1 L441.5 615.1 L443.5 615.1 L445.5 615.1 L447.5 615.1 L449.5 615.2 L451.5 615.2 L453.5 615.2 L455.5 615.2 L457.5 615.2 L459.5 615.3 L461.5 615.3 L463.5 615.3 L465.5 615.3 L467.5 615.4 L469.5 615.4 L471.4 615.4 L473.4 615.5 L475.4 615.5 L477.4 615.5 L479.4 615.6 L481.4 615.6 L483.4 615.6 L485.4 615.7 L487.4 615.7 L489.4 615.7 L491.4 615.8 L493.4 615.8 L495.4 615.9 L497.4 615.9 L499.4 615.9 L501.4 616 L503.4 616 L505.4 616.1 L507.4 616.1 L509.4 616.2 L511.4 616.2 L513.4 616.3 L515.4 616.3 L517.4 616.4 L519.4 616.4 L521.4 616.5 L523.4 616.5 L525.4 616.6 L527.4 616.7 L529.4 616.7 L531.4 616.8 L533.4 616.8 L535.4 616.9 L537.4 617 L539.4 617 L541.4 617.1 L543.4 617.2 L545.4 617.3 L547.4 617.3 L549.4 617.4 L551.4 617.5 L553.4 617.5 L555.4 617.6 L557.4 617.7 L559.4 617.8 L561.4 617.8 L563.4 617.9 L565.4 618 L567.4 618.1 L569.4 618.2 L571.4 618.2 L573.4 618.3 L575.4 618.4 L577.4 618.5 L579.4 618.6 L581.4 618.7 L583.4 618.8 L585.4 618.8 L587.4 618.9 L589.4 619 L591.4 619.1 L593.4 619.2 L595.4 619.3 L597.4 619.4 L599.4 619.5 L601.4 619.6 L603.4 619.7 L605.4 619.8 L607.4 619.8 L609.4 619.9 L611.4 620 L613.4 620.1 L615.3 620.2 L617.3 620.3 L619.3 620.4 L621.3 620.5 L623.3 620.6 L625.3 620.7 L627.3 620.8 L629.3 620.9 L631.3 621 L633.3 621.1 L635.3 621.2 L637.3 621.3 L639.3 621.4 L641.3 621.5 L643.3 621.6 L645.3 621.7 L647.3 621.8 L649.3 621.9 L651.3 622 L653.3 622.1 L655.3 622.2 L657.3 622.3 L659.3 622.4 L661.3 622.5 L663.3 622.6 L665.3 622.7 L667.3 622.8 L669.3 622.9 L671.3 623 L673.3 623.1 L675.3 623.2 L677.3 623.3 L679.3 623.4 L681.3 623.5 L683.3 623.6 L685.3 623.7 L687.3 623.8 L689.3 623.9 L691.3 624 L693.3 624.1 L695.3 624.2 L697.3 624.3 L699.3 624.4 L701.3 624.5 L703.3 624.6 L705.3 624.7 L707.3 624.8 L709.3 624.9 L711.3 625 L713.3 625.1 L715.3 625.2 L717.3 625.3 L719.3 625.4 L721.3 625.5 L723.3 625.6 L725.3 625.7 L727.3 625.8 L729.3 625.9 L731.3 626 L733.3 626.1 L735.3 626.2 L737.3 626.3 L739.3 626.4 L741.3 626.5 L743.3 626.6 L745.3 626.7 L747.3 626.8 L749.3 626.9 L751.3 627 L753.3 627.1 L755.3 627.2 L757.3 627.3 L759.2 627.4 L761.2 627.5 L763.2 627.6 L765.2 627.7 L767.2 627.8 L769.2 627.9 L771.2 628 L773.2 628.1 L775.2 628.2 L777.2 628.3 L779.2 628.4 L781.2 628.5 L783.2 628.6 L785.2 628.7 L787.2 628.8 L789.2 628.9 L791.2 629 L793.2 629.1 L795.2 629.2 L797.2 629.3 L799.2 629.4 L801.2 629.5 L803.2 629.5 L805.2 629.6 L807.2 629.7 L809.2 629.8 L811.2 629.9 L813.2 630 L815.2 630.1 L817.2 630.2 L819.2 630.3 L821.2 630.4 L823.2 630.5 L825.2 630.6 L827.2 630.7 L829.2 630.8 L831.2 630.9" fill="none" stroke="#fff" stroke-opacity="0.13" stroke-width="7.6" stroke-dasharray="0.8 1.7 0.5 2.6 1.1 2.1" stroke-linejoin="round"/>
<path d="M89.2 1V775.5H863.4M75.6 699.7H89.2M75.6 615H89.2M75.6 530.3H89.2M75.6 445.6H89.2M75.6 360.9H89.2M75.6 276.2H89.2M75.6 191.5H89.2M75.6 106.8H89.2M109.7 775.5V789.1M256.4 775.5V789.1M403.1 775.5V789.1M549.8 775.5V789.1M696.5 775.5V789.1M843.2 775.5V789.1" stroke="#000" stroke-width="2" fill="none" stroke-linecap="butt" stroke-linejoin="miter"/>
<g font-family='"Liberation Sans", Arial, Helvetica, sans-serif' font-size="32.7" text-anchor="middle" fill="#000" stroke="#000" stroke-width="0.75" stroke-linejoin="round"><text x="109.7" y="820.9">0</text><text x="256.4" y="820.9">.02</text><text x="403.1" y="820.9">.04</text><text x="549.8" y="820.9">.06</text><text x="696.5" y="820.9">.08</text><text x="843.2" y="820.9">.1</text><text x="475.5" y="856.8">Aβ42/40</text><text transform="translate(62 699.7) rotate(-90)">0.5</text><text transform="translate(62 615) rotate(-90)">1.0</text><text transform="translate(62 530.3) rotate(-90)">2.0</text><text transform="translate(62 445.6) rotate(-90)">4.0</text><text transform="translate(62 360.9) rotate(-90)">8.0</text><text transform="translate(62 276.2) rotate(-90)">16.0</text><text transform="translate(62 191.5) rotate(-90)">32.0</text><text transform="translate(62 106.8) rotate(-90)">64.0</text><text transform="translate(25.8 388.2) rotate(-90)">Adjusted HR</text></g>
</g>
<g id="panel2">
<path d="M1018.5 755.5H1790.5M1018.5 572.1H1790.5M1018.5 480.4H1790.5M1018.5 388.7H1790.5M1018.5 297H1790.5M1018.5 205.3H1790.5M1018.5 113.6H1790.5" stroke="#e6edef" stroke-width="2.1" fill="none"/>
<path d="M1036.6 755.5 L1036.6 667 L1038.1 664.9 L1039.6 662.5 L1041.1 659.6 L1042.6 656.4 L1044.1 652.8 L1045.6 649 L1047.1 644.9 L1048.6 640.5 L1050.1 636 L1051.6 631.3 L1053.1 626.5 L1054.6 621.6 L1056.1 616.6 L1057.6 611.6 L1059.1 606.6 L1060.6 601.6 L1062.1 596.7 L1063.6 591.8 L1065.1 587 L1066.6 582.2 L1068.1 577.3 L1069.6 572.4 L1071.1 567.5 L1072.6 562.4 L1074.1 557.3 L1075.6 552 L1077.1 546.5 L1078.6 540.9 L1080.1 535.1 L1081.6 529 L1083.1 522.8 L1084.6 516.3 L1086.1 509.7 L1087.6 502.9 L1089.1 495.9 L1090.6 488.8 L1092.1 481.6 L1093.6 474.2 L1095.1 466.7 L1096.6 459.2 L1098.1 451.5 L1099.6 443.8 L1101.1 436 L1102.6 428.2 L1104.1 420.4 L1105.6 412.5 L1107.1 404.6 L1108.6 396.7 L1110.1 388.9 L1111.6 381.1 L1113.1 373.3 L1114.6 365.6 L1116.1 357.9 L1117.6 350.2 L1119.1 342.5 L1120.6 334.7 L1122.1 326.8 L1123.6 318.7 L1125.1 310.3 L1126.6 301.7 L1128.1 292.8 L1129.6 283.8 L1131.1 274.6 L1132.6 265.5 L1134.1 256.6 L1135.6 247.8 L1137.1 239.3 L1138.6 231.1 L1140.1 223.1 L1141.6 215.3 L1143.1 207.6 L1144.6 200.2 L1146.1 192.8 L1147.6 185.6 L1149.1 178.4 L1150.6 171.3 L1152.1 164.3 L1153.6 157.4 L1155.1 150.4 L1156.6 143.6 L1158.1 136.8 L1159.6 130.1 L1161.1 123.5 L1162.6 117 L1164.1 110.8 L1165.6 104.7 L1167.1 98.8 L1168.6 93.2 L1170.1 87.8 L1171.6 82.7 L1173.1 78 L1174.6 73.6 L1176.1 69.5 L1177.6 65.7 L1179.1 62.1 L1180.6 58.8 L1182.1 55.7 L1183.6 52.8 L1185.1 49.9 L1186.6 47.2 L1188.1 44.6 L1189.6 42 L1191.1 39.6 L1192.6 37.4 L1194.1 35.3 L1195.6 33.3 L1197.1 31.5 L1198.6 29.8 L1200.1 28.4 L1201.6 27.1 L1203.1 26 L1204.6 25.1 L1206.1 24.5 L1207.6 24.1 L1209.1 23.9 L1210.6 23.9 L1212.1 24.2 L1213.6 24.7 L1215.1 25.4 L1216.6 26.4 L1218.1 27.4 L1219.6 28.7 L1221.1 30 L1222.6 31.5 L1224.1 33.1 L1225.6 34.8 L1227.1 36.7 L1228.6 38.8 L1230.1 41.1 L1231.6 43.5 L1233.1 46.2 L1234.6 49.1 L1236.1 52.3 L1237.6 55.6 L1239.1 59 L1240.6 62.5 L1242.1 66.2 L1243.6 69.8 L1245.1 73.5 L1246.6 77.2 L1248.1 80.8 L1249.6 84.4 L1251.1 87.9 L1252.6 91.5 L1254.1 95 L1255.6 98.5 L1257.1 102 L1258.6 105.5 L1260.1 109 L1261.6 112.6 L1263.1 116.2 L1264.6 119.8 L1266.1 123.4 L1267.6 127.1 L1269.1 130.8 L1270.6 134.5 L1272.1 138.2 L1273.6 141.9 L1275.1 145.6 L1276.6 149.3 L1278.1 153 L1279.6 156.7 L1281.1 160.4 L1282.6 164.1 L1284.1 167.7 L1285.6 171.3 L1287.1 174.9 L1288.6 178.5 L1290.1 182 L1291.6 185.5 L1293.1 188.9 L1294.6 192.3 L1296.1 195.6 L1297.6 198.9 L1299.1 202.1 L1300.6 205.3 L1302.1 208.4 L1303.6 211.4 L1305.1 214.3 L1306.6 217.2 L1308.1 220 L1309.6 222.6 L1311.1 225.2 L1312.6 227.8 L1314.1 230.2 L1315.6 232.5 L1317.1 234.7 L1318.6 236.8 L1320.1 238.7 L1321.6 240.6 L1323.1 242.3 L1324.6 243.9 L1326.1 245.5 L1327.6 246.9 L1329.1 248.3 L1330.6 249.7 L1332.1 251.2 L1333.6 252.6 L1335.1 254.1 L1336.6 255.7 L1338.1 257.5 L1339.6 259.3 L1341.1 261.4 L1342.6 263.6 L1344.1 266.1 L1345.6 268.7 L1347.1 271.5 L1348.6 274.4 L1350.1 277.4 L1351.6 280.4 L1353.1 283.6 L1354.6 286.7 L1356.1 289.9 L1357.6 293.1 L1359.1 296.2 L1360.6 299.2 L1362.1 302.2 L1363.6 305.1 L1365.1 307.9 L1366.6 310.7 L1368.1 313.5 L1369.6 316.2 L1371.1 318.9 L1372.6 321.5 L1374.1 324.2 L1375.6 326.8 L1377.1 329.4 L1378.6 332 L1380.1 334.6 L1381.6 337.2 L1383.1 339.8 L1384.6 342.4 L1386.1 345.1 L1387.6 347.8 L1389.1 350.5 L1390.6 353.2 L1392.1 356 L1393.6 358.8 L1395.2 361.7 L1396.7 364.6 L1398.2 367.6 L1399.7 370.6 L1401.2 373.7 L1402.7 376.9 L1404.2 380.1 L1405.7 383.5 L1407.2 386.9 L1408.7 390.4 L1410.2 394 L1411.7 397.7 L1413.2 401.5 L1414.7 405.3 L1416.2 409.1 L1417.7 413 L1419.2 416.9 L1420.7 420.7 L1422.2 424.6 L1423.7 428.4 L1425.2 432.2 L1426.7 436 L1428.2 439.8 L1429.7 443.5 L1431.2 447.2 L1432.7 450.9 L1434.2 454.6 L1435.7 458.2 L1437.2 461.8 L1438.7 465.4 L1440.2 469 L1441.7 472.6 L1443.2 476.1 L1444.7 479.6 L1446.2 483.1 L1447.7 486.6 L1449.2 490 L1450.7 493.4 L1452.2 496.7 L1453.7 500 L1455.2 503 L1456.7 506 L1458.2 508.7 L1459.7 511.2 L1461.2 513.5 L1462.7 515.5 L1464.2 517.4 L1465.7 519.1 L1467.2 520.6 L1468.7 522 L1470.2 523.4 L1471.7 524.8 L1473.2 526.2 L1474.7 527.7 L1476.2 529.3 L1477.7 531 L1479.2 532.8 L1480.7 534.7 L1482.2 536.8 L1483.7 538.9 L1485.2 541 L1486.7 543.2 L1488.2 545.5 L1489.7 547.7 L1491.2 550 L1492.7 552.2 L1494.2 554.4 L1495.7 556.6 L1497.2 558.7 L1498.7 560.8 L1500.2 562.9 L1501.7 565 L1503.2 567 L1504.7 568.9 L1506.2 570.9 L1507.7 572.7 L1509.2 574.5 L1510.7 576.3 L1512.2 578 L1513.7 579.6 L1515.2 581.2 L1516.7 582.8 L1518.2 584.3 L1519.7 585.7 L1521.2 587.2 L1522.7 588.5 L1524.2 589.9 L1525.7 591.1 L1527.2 592.4 L1528.7 593.6 L1530.2 594.8 L1531.7 596 L1533.2 597.1 L1534.7 598.2 L1536.2 599.3 L1537.7 600.3 L1539.2 601.3 L1540.7 602.3 L1542.2 603.3 L1543.7 604.2 L1545.2 605.2 L1546.7 606.1 L1548.2 607 L1549.7 607.9 L1551.2 608.8 L1552.7 609.7 L1554.2 610.5 L1555.7 611.4 L1557.2 612.2 L1558.7 613.1 L1560.2 614 L1561.7 614.8 L1563.2 615.7 L1564.7 616.5 L1566.2 617.3 L1567.7 618.2 L1569.2 619 L1570.7 619.8 L1572.2 620.6 L1573.7 621.4 L1575.2 622.2 L1576.7 623 L1578.2 623.7 L1579.7 624.5 L1581.2 625.2 L1582.7 625.9 L1584.2 626.6 L1585.7 627.2 L1587.2 627.9 L1588.7 628.5 L1590.2 629.1 L1591.7 629.7 L1593.2 630.2 L1594.7 630.7 L1596.2 631.2 L1597.7 631.6 L1599.2 632.1 L1600.7 632.5 L1602.2 632.8 L1603.7 633.2 L1605.2 633.5 L1606.7 633.9 L1608.2 634.2 L1609.7 634.6 L1611.2 634.9 L1612.7 635.3 L1614.2 635.7 L1615.7 636.1 L1617.2 636.6 L1618.7 637 L1620.2 637.5 L1621.7 638 L1623.2 638.6 L1624.7 639.2 L1626.2 639.8 L1627.7 640.4 L1629.2 641.1 L1630.7 641.8 L1632.2 642.5 L1633.7 643.2 L1635.2 643.9 L1636.7 644.7 L1638.2 645.5 L1639.7 646.3 L1641.2 647.1 L1642.7 647.9 L1644.2 648.8 L1645.7 649.6 L1647.2 650.5 L1648.7 651.4 L1650.2 652.3 L1651.7 653.2 L1653.2 654.1 L1654.7 655.1 L1656.2 656 L1657.7 656.9 L1659.2 657.9 L1660.7 658.9 L1662.2 659.8 L1663.7 660.8 L1665.2 661.8 L1666.7 662.7 L1668.2 663.7 L1669.7 664.7 L1671.2 665.7 L1672.7 666.6 L1674.2 667.6 L1675.7 668.6 L1677.2 669.6 L1678.7 670.6 L1680.2 671.6 L1681.7 672.6 L1683.2 673.5 L1684.7 674.5 L1686.2 675.5 L1687.7 676.5 L1689.2 677.5 L1690.7 678.5 L1692.2 679.5 L1693.7 680.4 L1695.2 681.4 L1696.7 682.4 L1698.2 683.4 L1699.7 684.4 L1701.2 685.3 L1702.7 686.3 L1704.2 687.3 L1705.7 688.2 L1707.2 689.2 L1708.7 690.2 L1710.2 691.1 L1711.7 692.1 L1713.2 693 L1714.7 694 L1716.2 694.9 L1717.7 695.8 L1719.2 696.8 L1720.7 697.7 L1722.2 698.6 L1723.7 699.6 L1725.2 700.5 L1726.7 701.5 L1728.2 702.4 L1729.7 703.4 L1731.2 704.4 L1732.7 705.4 L1734.2 706.4 L1735.7 707.5 L1737.2 708.6 L1738.7 709.7 L1740.2 710.8 L1741.7 712 L1743.2 713.2 L1744.7 714.4 L1746.2 715.7 L1747.7 717.1 L1749.2 718.5 L1750.7 719.9 L1752.2 721.4 L1753.7 722.9 L1753.7 755.5Z" fill="rgba(120,210,135,0.2)" stroke="rgba(95,145,110,0.28)" stroke-width="2" stroke-linejoin="round"/>
<path d="M1016 663.8H1790.5" stroke="#b00a30" stroke-width="2.7" fill="none"/>
<path d="M1037 663.8 L1039 662.3 L1041 660.7 L1043 659 L1045 657.3 L1047 655.5 L1049 653.7 L1051 651.8 L1053 649.9 L1055 647.9 L1057 645.9 L1059 643.8 L1061 641.7 L1063 639.6 L1065 637.4 L1067 635.2 L1069 632.9 L1071 630.6 L1073 628.3 L1075 626 L1077 623.7 L1079 621.3 L1081 619 L1083 616.6 L1085 614.2 L1087 611.8 L1089.1 609.4 L1091.1 607 L1093.1 604.6 L1095.1 602.2 L1097.1 599.9 L1099.1 597.5 L1101.1 595.1 L1103.1 592.8 L1105.1 590.4 L1107.1 588.1 L1109.1 585.7 L1111.1 583.4 L1113.1 581.1 L1115.1 578.8 L1117.1 576.5 L1119.1 574.2 L1121.1 571.9 L1123.1 569.6 L1125.1 567.4 L1127.1 565.1 L1129.1 562.8 L1131.1 560.6 L1133.1 558.4 L1135.1 556.1 L1137.1 553.9 L1139.1 551.7 L1141.1 549.5 L1143.1 547.3 L1145.1 545.1 L1147.1 542.9 L1149.1 540.8 L1151.1 538.6 L1153.1 536.4 L1155.1 534.3 L1157.1 532.2 L1159.1 530 L1161.1 527.9 L1163.1 525.8 L1165.1 523.7 L1167.1 521.6 L1169.1 519.5 L1171.1 517.4 L1173.1 515.3 L1175.1 513.3 L1177.1 511.2 L1179.1 509.2 L1181.1 507.1 L1183.1 505.1 L1185.1 503.1 L1187.1 501.1 L1189.1 499 L1191.2 497 L1193.2 495.1 L1195.2 493.1 L1197.2 491.1 L1199.2 489.1 L1201.2 487.2 L1203.2 485.2 L1205.2 483.3 L1207.2 481.4 L1209.2 479.4 L1211.2 477.5 L1213.2 475.6 L1215.2 473.7 L1217.2 471.9 L1219.2 470 L1221.2 468.1 L1223.2 466.3 L1225.2 464.4 L1227.2 462.6 L1229.2 460.8 L1231.2 459 L1233.2 457.2 L1235.2 455.4 L1237.2 453.6 L1239.2 451.8 L1241.2 450.1 L1243.2 448.3 L1245.2 446.6 L1247.2 444.9 L1249.2 443.2 L1251.2 441.5 L1253.2 439.8 L1255.2 438.1 L1257.2 436.5 L1259.2 434.8 L1261.2 433.2 L1263.2 431.6 L1265.2 429.9 L1267.2 428.3 L1269.2 426.8 L1271.2 425.2 L1273.2 423.6 L1275.2 422.1 L1277.2 420.5 L1279.2 419 L1281.2 417.5 L1283.2 416 L1285.2 414.6 L1287.2 413.1 L1289.2 411.6 L1291.2 410.2 L1293.3 408.8 L1295.3 407.4 L1297.3 406 L1299.3 404.6 L1301.3 403.2 L1303.3 401.9 L1305.3 400.5 L1307.3 399.2 L1309.3 397.9 L1311.3 396.6 L1313.3 395.4 L1315.3 394.1 L1317.3 392.9 L1319.3 391.6 L1321.3 390.4 L1323.3 389.2 L1325.3 388 L1327.3 386.9 L1329.3 385.7 L1331.3 384.6 L1333.3 383.4 L1335.3 382.3 L1337.3 381.2 L1339.3 380.1 L1341.3 379.1 L1343.3 378 L1345.3 376.9 L1347.3 375.9 L1349.3 374.9 L1351.3 373.9 L1353.3 372.9 L1355.3 371.9 L1357.3 371 L1359.3 370 L1361.3 369.1 L1363.3 368.1 L1365.3 367.2 L1367.3 366.3 L1369.3 365.4 L1371.3 364.5 L1373.3 363.7 L1375.3 362.8 L1377.3 362 L1379.3 361.1 L1381.3 360.3 L1383.3 359.5 L1385.3 358.7 L1387.3 357.9 L1389.3 357.2 L1391.3 356.4 L1393.3 355.6 L1395.3 354.9 L1397.4 354.2 L1399.4 353.5 L1401.4 352.7 L1403.4 352 L1405.4 351.4 L1407.4 350.7 L1409.4 350 L1411.4 349.4 L1413.4 348.7 L1415.4 348.1 L1417.4 347.4 L1419.4 346.8 L1421.4 346.2 L1423.4 345.6 L1425.4 345 L1427.4 344.5 L1429.4 343.9 L1431.4 343.3 L1433.4 342.8 L1435.4 342.2 L1437.4 341.7 L1439.4 341.2 L1441.4 340.7 L1443.4 340.1 L1445.4 339.6 L1447.4 339.2 L1449.4 338.7 L1451.4 338.2 L1453.4 337.7 L1455.4 337.3 L1457.4 336.8 L1459.4 336.4 L1461.4 335.9 L1463.4 335.5 L1465.4 335.1 L1467.4 334.7 L1469.4 334.3 L1471.4 333.9 L1473.4 333.5 L1475.4 333.1 L1477.4 332.7 L1479.4 332.3 L1481.4 332 L1483.4 331.6 L1485.4 331.2 L1487.4 330.9 L1489.4 330.6 L1491.4 330.2 L1493.4 329.9 L1495.4 329.6 L1497.4 329.2 L1499.5 328.9 L1501.5 328.6 L1503.5 328.3 L1505.5 328 L1507.5 327.7 L1509.5 327.5 L1511.5 327.2 L1513.5 326.9 L1515.5 326.6 L1517.5 326.4 L1519.5 326.1 L1521.5 325.8 L1523.5 325.6 L1525.5 325.3 L1527.5 325.1 L1529.5 324.8 L1531.5 324.6 L1533.5 324.4 L1535.5 324.1 L1537.5 323.9 L1539.5 323.7 L1541.5 323.5 L1543.5 323.2 L1545.5 323 L1547.5 322.8 L1549.5 322.6 L1551.5 322.4 L1553.5 322.2 L1555.5 322 L1557.5 321.8 L1559.5 321.6 L1561.5 321.4 L1563.5 321.2 L1565.5 321 L1567.5 320.9 L1569.5 320.7 L1571.5 320.5 L1573.5 320.3 L1575.5 320.1 L1577.5 319.9 L1579.5 319.8 L1581.5 319.6 L1583.5 319.4 L1585.5 319.2 L1587.5 319.1 L1589.5 318.9 L1591.5 318.7 L1593.5 318.6 L1595.5 318.4 L1597.5 318.2 L1599.5 318 L1601.6 317.9 L1603.6 317.7 L1605.6 317.5 L1607.6 317.4 L1609.6 317.2 L1611.6 317 L1613.6 316.9 L1615.6 316.7 L1617.6 316.5 L1619.6 316.4 L1621.6 316.2 L1623.6 316.1 L1625.6 315.9 L1627.6 315.7 L1629.6 315.6 L1631.6 315.4 L1633.6 315.3 L1635.6 315.1 L1637.6 314.9 L1639.6 314.8 L1641.6 314.6 L1643.6 314.5 L1645.6 314.3 L1647.6 314.1 L1649.6 314 L1651.6 313.8 L1653.6 313.7 L1655.6 313.5 L1657.6 313.4 L1659.6 313.2 L1661.6 313.1 L1663.6 312.9 L1665.6 312.8 L1667.6 312.6 L1669.6 312.5 L1671.6 312.3 L1673.6 312.2 L1675.6 312 L1677.6 311.9 L1679.6 311.7 L1681.6 311.6 L1683.6 311.4 L1685.6 311.3 L1687.6 311.1 L1689.6 311 L1691.6 310.8 L1693.6 310.7 L1695.6 310.5 L1697.6 310.4 L1699.6 310.2 L1701.6 310.1 L1703.7 310 L1705.7 309.8 L1707.7 309.7 L1709.7 309.5 L1711.7 309.4 L1713.7 309.2 L1715.7 309.1 L1717.7 309 L1719.7 308.8 L1721.7 308.7 L1723.7 308.5 L1725.7 308.4 L1727.7 308.3 L1729.7 308.1 L1731.7 308 L1733.7 307.9 L1735.7 307.7 L1737.7 307.6 L1739.7 307.4 L1741.7 307.3 L1743.7 307.2 L1745.7 307 L1747.7 306.9 L1749.7 306.8 L1751.7 306.6 L1753.7 306.5 L1753.7 508.5 L1751.7 508.5 L1749.7 508.6 L1747.7 508.6 L1745.7 508.7 L1743.7 508.7 L1741.7 508.8 L1739.7 508.9 L1737.7 509 L1735.7 509 L1733.7 509.1 L1731.7 509.2 L1729.7 509.3 L1727.7 509.4 L1725.7 509.5 L1723.7 509.6 L1721.7 509.8 L1719.7 509.9 L1717.7 510 L1715.7 510.1 L1713.7 510.3 L1711.7 510.4 L1709.7 510.6 L1707.7 510.7 L1705.7 510.9 L1703.7 511 L1701.6 511.2 L1699.6 511.3 L1697.6 511.5 L1695.6 511.7 L1693.6 511.8 L1691.6 512 L1689.6 512.2 L1687.6 512.4 L1685.6 512.6 L1683.6 512.8 L1681.6 512.9 L1679.6 513.1 L1677.6 513.3 L1675.6 513.5 L1673.6 513.7 L1671.6 513.9 L1669.6 514.1 L1667.6 514.3 L1665.6 514.5 L1663.6 514.7 L1661.6 514.9 L1659.6 515.1 L1657.6 515.3 L1655.6 515.6 L1653.6 515.8 L1651.6 516 L1649.6 516.2 L1647.6 516.4 L1645.6 516.6 L1643.6 516.8 L1641.6 517 L1639.6 517.3 L1637.6 517.5 L1635.6 517.7 L1633.6 517.9 L1631.6 518.1 L1629.6 518.3 L1627.6 518.5 L1625.6 518.7 L1623.6 518.9 L1621.6 519.2 L1619.6 519.4 L1617.6 519.6 L1615.6 519.8 L1613.6 520 L1611.6 520.2 L1609.6 520.4 L1607.6 520.6 L1605.6 520.8 L1603.6 521 L1601.6 521.2 L1599.5 521.4 L1597.5 521.5 L1595.5 521.7 L1593.5 521.9 L1591.5 522.1 L1589.5 522.3 L1587.5 522.4 L1585.5 522.6 L1583.5 522.8 L1581.5 523 L1579.5 523.1 L1577.5 523.3 L1575.5 523.4 L1573.5 523.6 L1571.5 523.8 L1569.5 523.9 L1567.5 524.1 L1565.5 524.2 L1563.5 524.4 L1561.5 524.5 L1559.5 524.7 L1557.5 524.8 L1555.5 525 L1553.5 525.1 L1551.5 525.3 L1549.5 525.4 L1547.5 525.6 L1545.5 525.7 L1543.5 525.8 L1541.5 526 L1539.5 526.1 L1537.5 526.3 L1535.5 526.4 L1533.5 526.6 L1531.5 526.7 L1529.5 526.9 L1527.5 527 L1525.5 527.2 L1523.5 527.3 L1521.5 527.5 L1519.5 527.6 L1517.5 527.8 L1515.5 527.9 L1513.5 528.1 L1511.5 528.2 L1509.5 528.4 L1507.5 528.5 L1505.5 528.7 L1503.5 528.9 L1501.5 529 L1499.5 529.2 L1497.4 529.4 L1495.4 529.5 L1493.4 529.7 L1491.4 529.9 L1489.4 530.1 L1487.4 530.2 L1485.4 530.4 L1483.4 530.6 L1481.4 530.8 L1479.4 531 L1477.4 531.2 L1475.4 531.4 L1473.4 531.6 L1471.4 531.8 L1469.4 532 L1467.4 532.2 L1465.4 532.5 L1463.4 532.7 L1461.4 532.9 L1459.4 533.1 L1457.4 533.4 L1455.4 533.6 L1453.4 533.9 L1451.4 534.1 L1449.4 534.4 L1447.4 534.6 L1445.4 534.9 L1443.4 535.2 L1441.4 535.4 L1439.4 535.7 L1437.4 536 L1435.4 536.3 L1433.4 536.6 L1431.4 536.9 L1429.4 537.2 L1427.4 537.5 L1425.4 537.8 L1423.4 538.2 L1421.4 538.5 L1419.4 538.8 L1417.4 539.1 L1415.4 539.5 L1413.4 539.8 L1411.4 540.2 L1409.4 540.5 L1407.4 540.9 L1405.4 541.2 L1403.4 541.6 L1401.4 542 L1399.4 542.3 L1397.4 542.7 L1395.3 543.1 L1393.3 543.5 L1391.3 543.9 L1389.3 544.3 L1387.3 544.7 L1385.3 545.1 L1383.3 545.5 L1381.3 545.9 L1379.3 546.3 L1377.3 546.7 L1375.3 547.1 L1373.3 547.5 L1371.3 547.9 L1369.3 548.4 L1367.3 548.8 L1365.3 549.2 L1363.3 549.7 L1361.3 550.1 L1359.3 550.5 L1357.3 551 L1355.3 551.4 L1353.3 551.9 L1351.3 552.3 L1349.3 552.8 L1347.3 553.2 L1345.3 553.7 L1343.3 554.1 L1341.3 554.6 L1339.3 555 L1337.3 555.5 L1335.3 556 L1333.3 556.4 L1331.3 556.9 L1329.3 557.4 L1327.3 557.9 L1325.3 558.3 L1323.3 558.8 L1321.3 559.3 L1319.3 559.8 L1317.3 560.3 L1315.3 560.7 L1313.3 561.2 L1311.3 561.7 L1309.3 562.2 L1307.3 562.7 L1305.3 563.2 L1303.3 563.7 L1301.3 564.1 L1299.3 564.6 L1297.3 565.1 L1295.3 565.6 L1293.3 566.1 L1291.2 566.6 L1289.2 567.1 L1287.2 567.6 L1285.2 568.1 L1283.2 568.6 L1281.2 569.1 L1279.2 569.6 L1277.2 570.1 L1275.2 570.7 L1273.2 571.2 L1271.2 571.7 L1269.2 572.2 L1267.2 572.7 L1265.2 573.2 L1263.2 573.7 L1261.2 574.3 L1259.2 574.8 L1257.2 575.3 L1255.2 575.9 L1253.2 576.4 L1251.2 576.9 L1249.2 577.5 L1247.2 578 L1245.2 578.5 L1243.2 579.1 L1241.2 579.6 L1239.2 580.2 L1237.2 580.7 L1235.2 581.3 L1233.2 581.8 L1231.2 582.4 L1229.2 582.9 L1227.2 583.5 L1225.2 584.1 L1223.2 584.6 L1221.2 585.2 L1219.2 585.8 L1217.2 586.4 L1215.2 586.9 L1213.2 587.5 L1211.2 588.1 L1209.2 588.7 L1207.2 589.3 L1205.2 589.9 L1203.2 590.5 L1201.2 591.1 L1199.2 591.7 L1197.2 592.3 L1195.2 592.9 L1193.2 593.5 L1191.2 594.1 L1189.1 594.8 L1187.1 595.4 L1185.1 596 L1183.1 596.6 L1181.1 597.3 L1179.1 597.9 L1177.1 598.6 L1175.1 599.2 L1173.1 599.9 L1171.1 600.5 L1169.1 601.2 L1167.1 601.9 L1165.1 602.5 L1163.1 603.2 L1161.1 603.9 L1159.1 604.6 L1157.1 605.3 L1155.1 606 L1153.1 606.7 L1151.1 607.4 L1149.1 608.1 L1147.1 608.8 L1145.1 609.6 L1143.1 610.3 L1141.1 611.1 L1139.1 611.8 L1137.1 612.6 L1135.1 613.3 L1133.1 614.1 L1131.1 614.9 L1129.1 615.7 L1127.1 616.5 L1125.1 617.3 L1123.1 618.1 L1121.1 618.9 L1119.1 619.8 L1117.1 620.6 L1115.1 621.4 L1113.1 622.3 L1111.1 623.2 L1109.1 624 L1107.1 624.9 L1105.1 625.8 L1103.1 626.7 L1101.1 627.6 L1099.1 628.5 L1097.1 629.5 L1095.1 630.4 L1093.1 631.4 L1091.1 632.3 L1089.1 633.3 L1087 634.3 L1085 635.3 L1083 636.3 L1081 637.3 L1079 638.3 L1077 639.4 L1075 640.4 L1073 641.5 L1071 642.6 L1069 643.7 L1067 644.8 L1065 646 L1063 647.1 L1061 648.3 L1059 649.5 L1057 650.7 L1055 651.9 L1053 653.2 L1051 654.4 L1049 655.7 L1047 657 L1045 658.3 L1043 659.7 L1041 661 L1039 662.4 L1037 663.8Z" fill="rgba(125,135,130,0.2)" stroke="rgba(112,116,114,0.40)" stroke-width="2.2" stroke-linejoin="round"/>
<g fill="#0a0a0a"><rect x="1074.2" y="14.5" width="1.6" height="18.3" fill-opacity="0.81"/><rect x="1125.9" y="14.5" width="1.6" height="18.3" fill-opacity="0.81"/><rect x="1144.8" y="14.5" width="1.6" height="18.3" fill-opacity="0.81"/><rect x="1156.1" y="14.5" width="10.3" height="18.3" fill-opacity="0.63"/><rect x="1156.1" y="14.5" width="1.4" height="18.3" fill-opacity="0.88"/><rect x="1158.6" y="14.5" width="1.4" height="18.3" fill-opacity="0.88"/><rect x="1160.5" y="14.5" width="1.4" height="18.3" fill-opacity="0.88"/><rect x="1162.5" y="14.5" width="1.4" height="18.3" fill-opacity="0.88"/><rect x="1165" y="14.5" width="1.4" height="18.3" fill-opacity="0.88"/><rect x="1186.3" y="14.5" width="1.6" height="18.3" fill-opacity="0.81"/><rect x="1196.2" y="14.5" width="2.2" height="18.3" fill-opacity="0.96"/><rect x="1206.7" y="14.5" width="3.5" height="18.3" fill-opacity="0.84"/><rect x="1206.7" y="14.5" width="1.4" height="18.3" fill-opacity="0.95"/><rect x="1207.5" y="14.5" width="1.4" height="18.3" fill-opacity="0.95"/><rect x="1208.8" y="14.5" width="1.4" height="18.3" fill-opacity="0.95"/><rect x="1211.9" y="14.5" width="10.8" height="18.3" fill-opacity="0.92"/><rect x="1211.9" y="14.5" width="1.4" height="18.3" fill-opacity="0.95"/><rect x="1213.8" y="14.5" width="1.4" height="18.3" fill-opacity="0.95"/><rect x="1215.4" y="14.5" width="1.4" height="18.3" fill-opacity="0.95"/><rect x="1217.7" y="14.5" width="1.4" height="18.3" fill-opacity="0.95"/><rect x="1219.3" y="14.5" width="1.4" height="18.3" fill-opacity="0.95"/><rect x="1221.3" y="14.5" width="1.4" height="18.3" fill-opacity="0.95"/><rect x="1225.5" y="14.5" width="2.2" height="18.3" fill-opacity="0.91"/><rect x="1229.6" y="14.5" width="4.3" height="18.3" fill-opacity="0.21"/><rect x="1229.6" y="14.5" width="1.4" height="18.3" fill-opacity="0.68"/><rect x="1230.9" y="14.5" width="1.4" height="18.3" fill-opacity="0.68"/><rect x="1232.5" y="14.5" width="1.4" height="18.3" fill-opacity="0.68"/><rect x="1236.7" y="14.5" width="2.2" height="18.3" fill-opacity="0.96"/><rect x="1240.5" y="14.5" width="8.9" height="18.3" fill-opacity="0.84"/><rect x="1240.5" y="14.5" width="1.4" height="18.3" fill-opacity="0.95"/><rect x="1242.1" y="14.5" width="1.4" height="18.3" fill-opacity="0.95"/><rect x="1244.4" y="14.5" width="1.4" height="18.3" fill-opacity="0.95"/><rect x="1246" y="14.5" width="1.4" height="18.3" fill-opacity="0.95"/><rect x="1248" y="14.5" width="1.4" height="18.3" fill-opacity="0.95"/><rect x="1256" y="14.5" width="7.2" height="18.3" fill-opacity="0.84"/><rect x="1256" y="14.5" width="1.4" height="18.3" fill-opacity="0.95"/><rect x="1257.9" y="14.5" width="1.4" height="18.3" fill-opacity="0.95"/><rect x="1259.6" y="14.5" width="1.4" height="18.3" fill-opacity="0.95"/><rect x="1261.8" y="14.5" width="1.4" height="18.3" fill-opacity="0.95"/><rect x="1264.9" y="14.5" width="5.5" height="18.3" fill-opacity="0.84"/><rect x="1264.9" y="14.5" width="1.4" height="18.3" fill-opacity="0.95"/><rect x="1267.2" y="14.5" width="1.4" height="18.3" fill-opacity="0.95"/><rect x="1269" y="14.5" width="1.4" height="18.3" fill-opacity="0.95"/><rect x="1278.6" y="14.5" width="2" height="18.3" fill-opacity="0.97"/><rect x="1285.8" y="14.5" width="1.8" height="18.3" fill-opacity="0.96"/><rect x="1303.4" y="14.5" width="1.9" height="18.3" fill-opacity="0.86"/><rect x="1307.3" y="14.5" width="2.2" height="18.3" fill-opacity="0.76"/><rect x="1312.8" y="14.5" width="5.5" height="18.3" fill-opacity="0.63"/><rect x="1312.8" y="14.5" width="1.4" height="18.3" fill-opacity="0.88"/><rect x="1315.1" y="14.5" width="1.4" height="18.3" fill-opacity="0.88"/><rect x="1316.9" y="14.5" width="1.4" height="18.3" fill-opacity="0.88"/><rect x="1319.1" y="14.5" width="1.5" height="18.3" fill-opacity="0.66"/><rect x="1322.2" y="14.5" width="2.4" height="18.3" fill-opacity="0.97"/><rect x="1331.7" y="14.5" width="2.2" height="18.3" fill-opacity="0.97"/><rect x="1337.2" y="14.5" width="10.7" height="18.3" fill-opacity="0.84"/><rect x="1337.2" y="14.5" width="1.4" height="18.3" fill-opacity="0.95"/><rect x="1339.1" y="14.5" width="1.4" height="18.3" fill-opacity="0.95"/><rect x="1340.7" y="14.5" width="1.4" height="18.3" fill-opacity="0.95"/><rect x="1342.9" y="14.5" width="1.4" height="18.3" fill-opacity="0.95"/><rect x="1344.5" y="14.5" width="1.4" height="18.3" fill-opacity="0.95"/><rect x="1346.5" y="14.5" width="1.4" height="18.3" fill-opacity="0.95"/><rect x="1350.7" y="14.5" width="3.7" height="18.3" fill-opacity="0.84"/><rect x="1350.7" y="14.5" width="1.4" height="18.3" fill-opacity="0.95"/><rect x="1352.1" y="14.5" width="1.4" height="18.3" fill-opacity="0.95"/><rect x="1353" y="14.5" width="1.4" height="18.3" fill-opacity="0.95"/><rect x="1364.6" y="14.5" width="2" height="18.3" fill-opacity="0.96"/><rect x="1368.2" y="14.5" width="5.5" height="18.3" fill-opacity="0.84"/><rect x="1368.2" y="14.5" width="1.4" height="18.3" fill-opacity="0.95"/><rect x="1370.4" y="14.5" width="1.4" height="18.3" fill-opacity="0.95"/><rect x="1372.3" y="14.5" width="1.4" height="18.3" fill-opacity="0.95"/><rect x="1380.4" y="14.5" width="1.5" height="18.3" fill-opacity="0.76"/><rect x="1384.3" y="14.5" width="1.9" height="18.3" fill-opacity="0.81"/><rect x="1389.1" y="14.5" width="1.8" height="18.3" fill-opacity="0.86"/><rect x="1393.7" y="14.5" width="2.2" height="18.3" fill-opacity="0.86"/><rect x="1400.1" y="14.5" width="5.1" height="18.3" fill-opacity="0.32"/><rect x="1400.1" y="14.5" width="1.4" height="18.3" fill-opacity="0.73"/><rect x="1402.1" y="14.5" width="1.4" height="18.3" fill-opacity="0.73"/><rect x="1403.8" y="14.5" width="1.4" height="18.3" fill-opacity="0.73"/><rect x="1406.1" y="14.5" width="6.9" height="18.3" fill-opacity="0.92"/><rect x="1406.1" y="14.5" width="1.4" height="18.3" fill-opacity="0.95"/><rect x="1407.7" y="14.5" width="1.4" height="18.3" fill-opacity="0.95"/><rect x="1409.9" y="14.5" width="1.4" height="18.3" fill-opacity="0.95"/><rect x="1411.6" y="14.5" width="1.4" height="18.3" fill-opacity="0.95"/><rect x="1415.2" y="14.5" width="5.2" height="18.3" fill-opacity="0.92"/><rect x="1415.2" y="14.5" width="1.4" height="18.3" fill-opacity="0.95"/><rect x="1417.1" y="14.5" width="1.4" height="18.3" fill-opacity="0.95"/><rect x="1419" y="14.5" width="1.4" height="18.3" fill-opacity="0.95"/><rect x="1423.3" y="14.5" width="4.3" height="18.3" fill-opacity="0.42"/><rect x="1423.3" y="14.5" width="1.4" height="18.3" fill-opacity="0.78"/><rect x="1425" y="14.5" width="1.4" height="18.3" fill-opacity="0.78"/><rect x="1426.2" y="14.5" width="1.4" height="18.3" fill-opacity="0.78"/><rect x="1432.1" y="14.5" width="2.2" height="18.3" fill-opacity="0.96"/><rect x="1438.9" y="14.5" width="1.5" height="18.3" fill-opacity="0.76"/><rect x="1443.2" y="14.5" width="1.5" height="18.3" fill-opacity="0.76"/><rect x="1447.4" y="14.5" width="11.7" height="18.3" fill-opacity="0.88"/><rect x="1447.4" y="14.5" width="1.4" height="18.3" fill-opacity="0.95"/><rect x="1449.5" y="14.5" width="1.4" height="18.3" fill-opacity="0.95"/><rect x="1451.3" y="14.5" width="1.4" height="18.3" fill-opacity="0.95"/><rect x="1453.7" y="14.5" width="1.4" height="18.3" fill-opacity="0.95"/><rect x="1455.5" y="14.5" width="1.4" height="18.3" fill-opacity="0.95"/><rect x="1457.7" y="14.5" width="1.4" height="18.3" fill-opacity="0.95"/><rect x="1460.9" y="14.5" width="5.5" height="18.3" fill-opacity="0.42"/><rect x="1460.9" y="14.5" width="1.4" height="18.3" fill-opacity="0.78"/><rect x="1463.2" y="14.5" width="1.4" height="18.3" fill-opacity="0.78"/><rect x="1465" y="14.5" width="1.4" height="18.3" fill-opacity="0.78"/><rect x="1467.2" y="14.5" width="1.5" height="18.3" fill-opacity="0.66"/><rect x="1475" y="14.5" width="8.6" height="18.3" fill-opacity="0.63"/><rect x="1475" y="14.5" width="1.4" height="18.3" fill-opacity="0.88"/><rect x="1476.9" y="14.5" width="1.4" height="18.3" fill-opacity="0.88"/><rect x="1478.5" y="14.5" width="1.4" height="18.3" fill-opacity="0.88"/><rect x="1480.6" y="14.5" width="1.4" height="18.3" fill-opacity="0.88"/><rect x="1482.2" y="14.5" width="1.4" height="18.3" fill-opacity="0.88"/><rect x="1487.2" y="14.5" width="1.8" height="18.3" fill-opacity="0.76"/><rect x="1493.1" y="14.5" width="6" height="18.3" fill-opacity="0.92"/><rect x="1493.1" y="14.5" width="1.4" height="18.3" fill-opacity="0.95"/><rect x="1494.6" y="14.5" width="1.4" height="18.3" fill-opacity="0.95"/><rect x="1495.9" y="14.5" width="1.4" height="18.3" fill-opacity="0.95"/><rect x="1497.7" y="14.5" width="1.4" height="18.3" fill-opacity="0.95"/><rect x="1520.7" y="14.5" width="1.5" height="18.3" fill-opacity="0.76"/><rect x="1526.5" y="14.5" width="1.8" height="18.3" fill-opacity="0.97"/><rect x="1534.4" y="14.5" width="9.5" height="18.3" fill-opacity="0.63"/><rect x="1534.4" y="14.5" width="1.4" height="18.3" fill-opacity="0.88"/><rect x="1536.5" y="14.5" width="1.4" height="18.3" fill-opacity="0.88"/><rect x="1538.3" y="14.5" width="1.4" height="18.3" fill-opacity="0.88"/><rect x="1540.7" y="14.5" width="1.4" height="18.3" fill-opacity="0.88"/><rect x="1542.5" y="14.5" width="1.4" height="18.3" fill-opacity="0.88"/><rect x="1545.9" y="14.5" width="4" height="18.3" fill-opacity="0.11"/><rect x="1545.9" y="14.5" width="1.4" height="18.3" fill-opacity="0.63"/><rect x="1547" y="14.5" width="1.4" height="18.3" fill-opacity="0.63"/><rect x="1548.5" y="14.5" width="1.4" height="18.3" fill-opacity="0.63"/><rect x="1553.5" y="14.5" width="1.8" height="18.3" fill-opacity="0.76"/><rect x="1558.7" y="14.5" width="1.9" height="18.3" fill-opacity="0.96"/><rect x="1564.4" y="14.5" width="2" height="18.3" fill-opacity="0.91"/><rect x="1579.3" y="14.5" width="1.5" height="18.3" fill-opacity="0.76"/><rect x="1587.7" y="14.5" width="1.6" height="18.3" fill-opacity="0.76"/><rect x="1605.2" y="14.5" width="1.8" height="18.3" fill-opacity="0.76"/><rect x="1622.2" y="14.5" width="6.1" height="18.3" fill-opacity="0.63"/><rect x="1622.2" y="14.5" width="1.4" height="18.3" fill-opacity="0.88"/><rect x="1624" y="14.5" width="1.4" height="18.3" fill-opacity="0.88"/><rect x="1625.3" y="14.5" width="1.4" height="18.3" fill-opacity="0.88"/><rect x="1626.9" y="14.5" width="1.4" height="18.3" fill-opacity="0.88"/><rect x="1642.2" y="14.5" width="2.2" height="18.3" fill-opacity="0.97"/><rect x="1649.6" y="14.5" width="8.6" height="18.3" fill-opacity="0.42"/><rect x="1649.6" y="14.5" width="1.4" height="18.3" fill-opacity="0.78"/><rect x="1651.5" y="14.5" width="1.4" height="18.3" fill-opacity="0.78"/><rect x="1653.1" y="14.5" width="1.4" height="18.3" fill-opacity="0.78"/><rect x="1655.2" y="14.5" width="1.4" height="18.3" fill-opacity="0.78"/><rect x="1656.8" y="14.5" width="1.4" height="18.3" fill-opacity="0.78"/><rect x="1661.4" y="14.5" width="1.5" height="18.3" fill-opacity="0.66"/><rect x="1665" y="14.5" width="1.7" height="18.3" fill-opacity="0.71"/><rect x="1670.1" y="14.5" width="1.8" height="18.3" fill-opacity="0.81"/><rect x="1677.5" y="14.5" width="1.8" height="18.3" fill-opacity="0.76"/><rect x="1706.8" y="14.5" width="2.4" height="18.3" fill-opacity="0.96"/><rect x="1722.9" y="14.5" width="1.5" height="18.3" fill-opacity="0.76"/><rect x="1727.5" y="14.5" width="1.7" height="18.3" fill-opacity="0.76"/><rect x="1759" y="14.5" width="5.1" height="18.3" fill-opacity="0.73"/><rect x="1759" y="14.5" width="1.4" height="18.3" fill-opacity="0.93"/><rect x="1761.1" y="14.5" width="1.4" height="18.3" fill-opacity="0.93"/><rect x="1762.7" y="14.5" width="1.4" height="18.3" fill-opacity="0.93"/></g>
<path d="M1036.6 663.8 L1038.6 662 L1040.6 660.3 L1042.6 658.6 L1044.6 656.9 L1046.6 655.2 L1048.6 653.5 L1050.6 651.8 L1052.6 650.2 L1054.6 648.5 L1056.6 646.9 L1058.6 645.3 L1060.6 643.7 L1062.6 642.1 L1064.6 640.5 L1066.6 639 L1068.6 637.4 L1070.6 635.8 L1072.6 634.3 L1074.6 632.8 L1076.5 631.2 L1078.5 629.7 L1080.5 628.2 L1082.5 626.7 L1084.5 625.2 L1086.5 623.7 L1088.5 622.2 L1090.5 620.7 L1092.5 619.2 L1094.5 617.7 L1096.5 616.2 L1098.5 614.7 L1100.5 613.2 L1102.5 611.7 L1104.5 610.3 L1106.5 608.8 L1108.5 607.3 L1110.5 605.8 L1112.5 604.3 L1114.5 602.8 L1116.5 601.4 L1118.5 599.9 L1120.5 598.4 L1122.5 596.9 L1124.5 595.5 L1126.5 594 L1128.5 592.5 L1130.5 591.1 L1132.5 589.6 L1134.5 588.1 L1136.5 586.7 L1138.5 585.2 L1140.5 583.8 L1142.5 582.3 L1144.5 580.9 L1146.5 579.4 L1148.5 578 L1150.5 576.6 L1152.5 575.1 L1154.5 573.7 L1156.4 572.3 L1158.4 570.8 L1160.4 569.4 L1162.4 568 L1164.4 566.6 L1166.4 565.2 L1168.4 563.8 L1170.4 562.4 L1172.4 561 L1174.4 559.6 L1176.4 558.2 L1178.4 556.8 L1180.4 555.5 L1182.4 554.1 L1184.4 552.7 L1186.4 551.4 L1188.4 550 L1190.4 548.7 L1192.4 547.3 L1194.4 546 L1196.4 544.6 L1198.4 543.3 L1200.4 542 L1202.4 540.7 L1204.4 539.3 L1206.4 538 L1208.4 536.7 L1210.4 535.4 L1212.4 534.1 L1214.4 532.9 L1216.4 531.6 L1218.4 530.3 L1220.4 529 L1222.4 527.8 L1224.4 526.5 L1226.4 525.3 L1228.4 524 L1230.4 522.8 L1232.4 521.6 L1234.4 520.4 L1236.3 519.1 L1238.3 517.9 L1240.3 516.7 L1242.3 515.5 L1244.3 514.4 L1246.3 513.2 L1248.3 512 L1250.3 510.8 L1252.3 509.7 L1254.3 508.5 L1256.3 507.4 L1258.3 506.2 L1260.3 505.1 L1262.3 504 L1264.3 502.9 L1266.3 501.8 L1268.3 500.7 L1270.3 499.6 L1272.3 498.5 L1274.3 497.4 L1276.3 496.4 L1278.3 495.3 L1280.3 494.2 L1282.3 493.2 L1284.3 492.2 L1286.3 491.1 L1288.3 490.1 L1290.3 489.1 L1292.3 488.1 L1294.3 487.1 L1296.3 486.1 L1298.3 485.2 L1300.3 484.2 L1302.3 483.2 L1304.3 482.3 L1306.3 481.3 L1308.3 480.4 L1310.3 479.5 L1312.3 478.6 L1314.3 477.7 L1316.2 476.8 L1318.2 475.9 L1320.2 475 L1322.2 474.1 L1324.2 473.3 L1326.2 472.4 L1328.2 471.6 L1330.2 470.8 L1332.2 469.9 L1334.2 469.1 L1336.2 468.3 L1338.2 467.5 L1340.2 466.7 L1342.2 466 L1344.2 465.2 L1346.2 464.4 L1348.2 463.7 L1350.2 462.9 L1352.2 462.2 L1354.2 461.4 L1356.2 460.7 L1358.2 460 L1360.2 459.3 L1362.2 458.6 L1364.2 457.9 L1366.2 457.2 L1368.2 456.6 L1370.2 455.9 L1372.2 455.2 L1374.2 454.6 L1376.2 454 L1378.2 453.3 L1380.2 452.7 L1382.2 452.1 L1384.2 451.5 L1386.2 450.9 L1388.2 450.3 L1390.2 449.7 L1392.2 449.1 L1394.2 448.6 L1396.1 448 L1398.1 447.4 L1400.1 446.9 L1402.1 446.4 L1404.1 445.8 L1406.1 445.3 L1408.1 444.8 L1410.1 444.3 L1412.1 443.8 L1414.1 443.3 L1416.1 442.8 L1418.1 442.3 L1420.1 441.9 L1422.1 441.4 L1424.1 440.9 L1426.1 440.5 L1428.1 440 L1430.1 439.6 L1432.1 439.2 L1434.1 438.8 L1436.1 438.4 L1438.1 437.9 L1440.1 437.6 L1442.1 437.2 L1444.1 436.8 L1446.1 436.4 L1448.1 436 L1450.1 435.7 L1452.1 435.3 L1454.1 435 L1456.1 434.6 L1458.1 434.3 L1460.1 433.9 L1462.1 433.6 L1464.1 433.3 L1466.1 433 L1468.1 432.7 L1470.1 432.4 L1472.1 432.1 L1474.1 431.8 L1476 431.5 L1478 431.2 L1480 430.9 L1482 430.7 L1484 430.4 L1486 430.1 L1488 429.9 L1490 429.6 L1492 429.4 L1494 429.1 L1496 428.9 L1498 428.6 L1500 428.4 L1502 428.2 L1504 428 L1506 427.7 L1508 427.5 L1510 427.3 L1512 427.1 L1514 426.9 L1516 426.7 L1518 426.5 L1520 426.3 L1522 426.1 L1524 425.9 L1526 425.7 L1528 425.5 L1530 425.4 L1532 425.2 L1534 425 L1536 424.8 L1538 424.6 L1540 424.5 L1542 424.3 L1544 424.1 L1546 424 L1548 423.8 L1550 423.6 L1552 423.5 L1554 423.3 L1555.9 423.1 L1557.9 423 L1559.9 422.8 L1561.9 422.7 L1563.9 422.5 L1565.9 422.3 L1567.9 422.2 L1569.9 422 L1571.9 421.9 L1573.9 421.7 L1575.9 421.6 L1577.9 421.4 L1579.9 421.2 L1581.9 421.1 L1583.9 420.9 L1585.9 420.8 L1587.9 420.6 L1589.9 420.5 L1591.9 420.3 L1593.9 420.1 L1595.9 420 L1597.9 419.8 L1599.9 419.6 L1601.9 419.5 L1603.9 419.3 L1605.9 419.2 L1607.9 419 L1609.9 418.8 L1611.9 418.6 L1613.9 418.5 L1615.9 418.3 L1617.9 418.1 L1619.9 418 L1621.9 417.8 L1623.9 417.6 L1625.9 417.5 L1627.9 417.3 L1629.9 417.1 L1631.9 416.9 L1633.9 416.8 L1635.8 416.6 L1637.8 416.4 L1639.8 416.3 L1641.8 416.1 L1643.8 415.9 L1645.8 415.7 L1647.8 415.6 L1649.8 415.4 L1651.8 415.2 L1653.8 415 L1655.8 414.9 L1657.8 414.7 L1659.8 414.5 L1661.8 414.4 L1663.8 414.2 L1665.8 414 L1667.8 413.8 L1669.8 413.7 L1671.8 413.5 L1673.8 413.3 L1675.8 413.2 L1677.8 413 L1679.8 412.8 L1681.8 412.7 L1683.8 412.5 L1685.8 412.3 L1687.8 412.2 L1689.8 412 L1691.8 411.8 L1693.8 411.7 L1695.8 411.5 L1697.8 411.4 L1699.8 411.2 L1701.8 411 L1703.8 410.9 L1705.8 410.7 L1707.8 410.6 L1709.8 410.4 L1711.8 410.3 L1713.8 410.1 L1715.7 410 L1717.7 409.8 L1719.7 409.7 L1721.7 409.5 L1723.7 409.4 L1725.7 409.2 L1727.7 409.1 L1729.7 408.9 L1731.7 408.8 L1733.7 408.7 L1735.7 408.5 L1737.7 408.4 L1739.7 408.3 L1741.7 408.1 L1743.7 408 L1745.7 407.9 L1747.7 407.8 L1749.7 407.6 L1751.7 407.5 L1753.7 407.4" fill="none" stroke="#0d0d0d" stroke-width="7.6" stroke-linejoin="round"/>
<path d="M1036.6 663.8 L1038.6 662 L1040.6 660.3 L1042.6 658.6 L1044.6 656.9 L1046.6 655.2 L1048.6 653.5 L1050.6 651.8 L1052.6 650.2 L1054.6 648.5 L1056.6 646.9 L1058.6 645.3 L1060.6 643.7 L1062.6 642.1 L1064.6 640.5 L1066.6 639 L1068.6 637.4 L1070.6 635.8 L1072.6 634.3 L1074.6 632.8 L1076.5 631.2 L1078.5 629.7 L1080.5 628.2 L1082.5 626.7 L1084.5 625.2 L1086.5 623.7 L1088.5 622.2 L1090.5 620.7 L1092.5 619.2 L1094.5 617.7 L1096.5 616.2 L1098.5 614.7 L1100.5 613.2 L1102.5 611.7 L1104.5 610.3 L1106.5 608.8 L1108.5 607.3 L1110.5 605.8 L1112.5 604.3 L1114.5 602.8 L1116.5 601.4 L1118.5 599.9 L1120.5 598.4 L1122.5 596.9 L1124.5 595.5 L1126.5 594 L1128.5 592.5 L1130.5 591.1 L1132.5 589.6 L1134.5 588.1 L1136.5 586.7 L1138.5 585.2 L1140.5 583.8 L1142.5 582.3 L1144.5 580.9 L1146.5 579.4 L1148.5 578 L1150.5 576.6 L1152.5 575.1 L1154.5 573.7 L1156.4 572.3 L1158.4 570.8 L1160.4 569.4 L1162.4 568 L1164.4 566.6 L1166.4 565.2 L1168.4 563.8 L1170.4 562.4 L1172.4 561 L1174.4 559.6 L1176.4 558.2 L1178.4 556.8 L1180.4 555.5 L1182.4 554.1 L1184.4 552.7 L1186.4 551.4 L1188.4 550 L1190.4 548.7 L1192.4 547.3 L1194.4 546 L1196.4 544.6 L1198.4 543.3 L1200.4 542 L1202.4 540.7 L1204.4 539.3 L1206.4 538 L1208.4 536.7 L1210.4 535.4 L1212.4 534.1 L1214.4 532.9 L1216.4 531.6 L1218.4 530.3 L1220.4 529 L1222.4 527.8 L1224.4 526.5 L1226.4 525.3 L1228.4 524 L1230.4 522.8 L1232.4 521.6 L1234.4 520.4 L1236.3 519.1 L1238.3 517.9 L1240.3 516.7 L1242.3 515.5 L1244.3 514.4 L1246.3 513.2 L1248.3 512 L1250.3 510.8 L1252.3 509.7 L1254.3 508.5 L1256.3 507.4 L1258.3 506.2 L1260.3 505.1 L1262.3 504 L1264.3 502.9 L1266.3 501.8 L1268.3 500.7 L1270.3 499.6 L1272.3 498.5 L1274.3 497.4 L1276.3 496.4 L1278.3 495.3 L1280.3 494.2 L1282.3 493.2 L1284.3 492.2 L1286.3 491.1 L1288.3 490.1 L1290.3 489.1 L1292.3 488.1 L1294.3 487.1 L1296.3 486.1 L1298.3 485.2 L1300.3 484.2 L1302.3 483.2 L1304.3 482.3 L1306.3 481.3 L1308.3 480.4 L1310.3 479.5 L1312.3 478.6 L1314.3 477.7 L1316.2 476.8 L1318.2 475.9 L1320.2 475 L1322.2 474.1 L1324.2 473.3 L1326.2 472.4 L1328.2 471.6 L1330.2 470.8 L1332.2 469.9 L1334.2 469.1 L1336.2 468.3 L1338.2 467.5 L1340.2 466.7 L1342.2 466 L1344.2 465.2 L1346.2 464.4 L1348.2 463.7 L1350.2 462.9 L1352.2 462.2 L1354.2 461.4 L1356.2 460.7 L1358.2 460 L1360.2 459.3 L1362.2 458.6 L1364.2 457.9 L1366.2 457.2 L1368.2 456.6 L1370.2 455.9 L1372.2 455.2 L1374.2 454.6 L1376.2 454 L1378.2 453.3 L1380.2 452.7 L1382.2 452.1 L1384.2 451.5 L1386.2 450.9 L1388.2 450.3 L1390.2 449.7 L1392.2 449.1 L1394.2 448.6 L1396.1 448 L1398.1 447.4 L1400.1 446.9 L1402.1 446.4 L1404.1 445.8 L1406.1 445.3 L1408.1 444.8 L1410.1 444.3 L1412.1 443.8 L1414.1 443.3 L1416.1 442.8 L1418.1 442.3 L1420.1 441.9 L1422.1 441.4 L1424.1 440.9 L1426.1 440.5 L1428.1 440 L1430.1 439.6 L1432.1 439.2 L1434.1 438.8 L1436.1 438.4 L1438.1 437.9 L1440.1 437.6 L1442.1 437.2 L1444.1 436.8 L1446.1 436.4 L1448.1 436 L1450.1 435.7 L1452.1 435.3 L1454.1 435 L1456.1 434.6 L1458.1 434.3 L1460.1 433.9 L1462.1 433.6 L1464.1 433.3 L1466.1 433 L1468.1 432.7 L1470.1 432.4 L1472.1 432.1 L1474.1 431.8 L1476 431.5 L1478 431.2 L1480 430.9 L1482 430.7 L1484 430.4 L1486 430.1 L1488 429.9 L1490 429.6 L1492 429.4 L1494 429.1 L1496 428.9 L1498 428.6 L1500 428.4 L1502 428.2 L1504 428 L1506 427.7 L1508 427.5 L1510 427.3 L1512 427.1 L1514 426.9 L1516 426.7 L1518 426.5 L1520 426.3 L1522 426.1 L1524 425.9 L1526 425.7 L1528 425.5 L1530 425.4 L1532 425.2 L1534 425 L1536 424.8 L1538 424.6 L1540 424.5 L1542 424.3 L1544 424.1 L1546 424 L1548 423.8 L1550 423.6 L1552 423.5 L1554 423.3 L1555.9 423.1 L1557.9 423 L1559.9 422.8 L1561.9 422.7 L1563.9 422.5 L1565.9 422.3 L1567.9 422.2 L1569.9 422 L1571.9 421.9 L1573.9 421.7 L1575.9 421.6 L1577.9 421.4 L1579.9 421.2 L1581.9 421.1 L1583.9 420.9 L1585.9 420.8 L1587.9 420.6 L1589.9 420.5 L1591.9 420.3 L1593.9 420.1 L1595.9 420 L1597.9 419.8 L1599.9 419.6 L1601.9 419.5 L1603.9 419.3 L1605.9 419.2 L1607.9 419 L1609.9 418.8 L1611.9 418.6 L1613.9 418.5 L1615.9 418.3 L1617.9 418.1 L1619.9 418 L1621.9 417.8 L1623.9 417.6 L1625.9 417.5 L1627.9 417.3 L1629.9 417.1 L1631.9 416.9 L1633.9 416.8 L1635.8 416.6 L1637.8 416.4 L1639.8 416.3 L1641.8 416.1 L1643.8 415.9 L1645.8 415.7 L1647.8 415.6 L1649.8 415.4 L1651.8 415.2 L1653.8 415 L1655.8 414.9 L1657.8 414.7 L1659.8 414.5 L1661.8 414.4 L1663.8 414.2 L1665.8 414 L1667.8 413.8 L1669.8 413.7 L1671.8 413.5 L1673.8 413.3 L1675.8 413.2 L1677.8 413 L1679.8 412.8 L1681.8 412.7 L1683.8 412.5 L1685.8 412.3 L1687.8 412.2 L1689.8 412 L1691.8 411.8 L1693.8 411.7 L1695.8 411.5 L1697.8 411.4 L1699.8 411.2 L1701.8 411 L1703.8 410.9 L1705.8 410.7 L1707.8 410.6 L1709.8 410.4 L1711.8 410.3 L1713.8 410.1 L1715.7 410 L1717.7 409.8 L1719.7 409.7 L1721.7 409.5 L1723.7 409.4 L1725.7 409.2 L1727.7 409.1 L1729.7 408.9 L1731.7 408.8 L1733.7 408.7 L1735.7 408.5 L1737.7 408.4 L1739.7 408.3 L1741.7 408.1 L1743.7 408 L1745.7 407.9 L1747.7 407.8 L1749.7 407.6 L1751.7 407.5 L1753.7 407.4" fill="none" stroke="#fff" stroke-opacity="0.13" stroke-width="7.6" stroke-dasharray="0.8 1.7 0.5 2.6 1.1 2.1" stroke-linejoin="round"/>
<path d="M1016 1V775.8H1790.5M1002.4 755.5H1016M1002.4 663.8H1016M1002.4 572.1H1016M1002.4 480.4H1016M1002.4 388.7H1016M1002.4 297H1016M1002.4 205.3H1016M1002.4 113.6H1016M1035.9 775.8V789.4M1140.6 775.8V789.4M1245.3 775.8V789.4M1350 775.8V789.4M1454.7 775.8V789.4M1559.4 775.8V789.4M1664.1 775.8V789.4M1768.8 775.8V789.4" stroke="#000" stroke-width="2" fill="none" stroke-linecap="butt" stroke-linejoin="miter"/>
<g font-family='"Liberation Sans", Arial, Helvetica, sans-serif' font-size="32.7" text-anchor="middle" fill="#000" stroke="#000" stroke-width="0.75" stroke-linejoin="round"><text x="1035.9" y="821.2">0</text><text x="1140.6" y="821.2">.5</text><text x="1245.3" y="821.2">1</text><text x="1350" y="821.2">1.5</text><text x="1454.7" y="821.2">2</text><text x="1559.4" y="821.2">2.5</text><text x="1664.1" y="821.2">3</text><text x="1768.8" y="821.2">3.5</text><text x="1402.5" y="857.1">P-tau181</text><text transform="translate(988.8 755.5) rotate(-90)">0.5</text><text transform="translate(988.8 663.8) rotate(-90)">1.0</text><text transform="translate(988.8 572.1) rotate(-90)">2.0</text><text transform="translate(988.8 480.4) rotate(-90)">4.0</text><text transform="translate(988.8 388.7) rotate(-90)">8.0</text><text transform="translate(988.8 297) rotate(-90)">16.0</text><text transform="translate(988.8 205.3) rotate(-90)">32.0</text><text transform="translate(988.8 113.6) rotate(-90)">64.0</text><text transform="translate(952.6 388.4) rotate(-90)">Adjusted HR</text></g>
</g>
<g id="panel3">
<path d="M91.7 1681.9H863.4M91.7 1498.5H863.4M91.7 1406.8H863.4M91.7 1315.1H863.4M91.7 1223.4H863.4M91.7 1131.7H863.4M91.7 1040H863.4" stroke="#e6edef" stroke-width="2.1" fill="none"/>
<path d="M110.2 1682 L110.2 1508.3 L111.7 1496.6 L113.2 1485.4 L114.7 1474.5 L116.2 1464.1 L117.7 1453.8 L119.2 1443.7 L120.7 1433.7 L122.2 1423.7 L123.7 1413.5 L125.2 1403.2 L126.7 1392.6 L128.2 1381.7 L129.7 1370.3 L131.2 1358.5 L132.7 1346.4 L134.2 1333.9 L135.7 1321.2 L137.2 1308.2 L138.7 1295.1 L140.2 1281.8 L141.7 1268.4 L143.2 1254.9 L144.7 1241.4 L146.2 1227.9 L147.7 1214.5 L149.2 1201.2 L150.7 1188.1 L152.2 1175.3 L153.7 1162.7 L155.2 1150.6 L156.7 1138.9 L158.2 1127.7 L159.7 1116.9 L161.2 1106.4 L162.7 1096 L164.2 1085.6 L165.7 1075.1 L167.2 1064.6 L168.7 1054.1 L170.2 1043.9 L171.7 1034.1 L173.2 1024.9 L174.7 1016.3 L176.2 1008.2 L177.7 1000.7 L179.2 993.9 L180.7 987.5 L182.2 981.7 L183.7 976.5 L185.2 971.8 L186.7 967.5 L188.2 963.8 L189.7 960.6 L191.2 957.9 L192.7 955.5 L194.2 953.6 L195.7 952 L197.2 950.8 L198.7 949.8 L200.2 949.2 L201.7 948.8 L203.2 948.7 L204.7 948.7 L206.2 948.9 L207.7 949.2 L209.2 949.7 L210.7 950.3 L212.2 951 L213.7 951.8 L215.2 952.7 L216.7 953.6 L218.2 954.6 L219.7 955.5 L221.2 956.5 L222.7 957.5 L224.2 958.6 L225.7 959.7 L227.2 960.9 L228.7 962.4 L230.2 964.1 L231.7 966.1 L233.2 968.4 L234.7 970.8 L236.2 973.4 L237.7 976.1 L239.2 978.8 L240.7 981.6 L242.2 984.2 L243.7 986.9 L245.2 989.4 L246.7 991.9 L248.2 994.4 L249.7 996.8 L251.2 999.3 L252.7 1001.6 L254.2 1004 L255.7 1006.5 L257.2 1009 L258.7 1011.6 L260.2 1014.3 L261.7 1017.3 L263.2 1020.5 L264.7 1023.9 L266.2 1027.7 L267.7 1031.6 L269.2 1035.7 L270.7 1039.9 L272.2 1044.1 L273.7 1048.4 L275.2 1052.6 L276.7 1056.8 L278.2 1060.8 L279.7 1064.8 L281.2 1068.7 L282.7 1072.5 L284.2 1076.3 L285.7 1080.1 L287.2 1084 L288.7 1087.8 L290.2 1091.7 L291.7 1095.6 L293.2 1099.7 L294.8 1103.8 L296.3 1108 L297.8 1112.4 L299.3 1116.8 L300.8 1121.5 L302.3 1126.3 L303.8 1131.2 L305.3 1136.2 L306.8 1141.3 L308.3 1146.4 L309.8 1151.7 L311.3 1157 L312.8 1162.3 L314.3 1167.7 L315.8 1173.2 L317.3 1178.7 L318.8 1184.3 L320.3 1189.9 L321.8 1195.6 L323.3 1201.4 L324.8 1207.2 L326.3 1213.1 L327.8 1219.1 L329.3 1225.2 L330.8 1231.3 L332.3 1237.5 L333.8 1243.8 L335.3 1250.1 L336.8 1256.4 L338.3 1262.5 L339.8 1268.5 L341.3 1274.2 L342.8 1279.5 L344.3 1284.5 L345.8 1289.1 L347.3 1293.4 L348.8 1297.5 L350.3 1301.4 L351.8 1305.2 L353.3 1308.9 L354.8 1312.5 L356.3 1316.1 L357.8 1319.6 L359.3 1323 L360.8 1326.2 L362.3 1329.4 L363.8 1332.4 L365.3 1335.3 L366.8 1338.1 L368.3 1340.7 L369.8 1343.1 L371.3 1345.3 L372.8 1347.4 L374.3 1349.2 L375.8 1350.8 L377.3 1352.2 L378.8 1353.4 L380.3 1354.4 L381.8 1355.3 L383.3 1356.1 L384.8 1356.9 L386.3 1357.8 L387.8 1358.6 L389.3 1359.7 L390.8 1360.9 L392.3 1362.2 L393.8 1363.8 L395.3 1365.6 L396.8 1367.5 L398.3 1369.6 L399.8 1371.8 L401.3 1374.2 L402.8 1376.6 L404.3 1379.1 L405.8 1381.7 L407.3 1384.4 L408.8 1387.1 L410.3 1389.9 L411.8 1392.7 L413.3 1395.5 L414.8 1398.2 L416.3 1401 L417.8 1403.7 L419.3 1406.4 L420.8 1409.1 L422.3 1411.8 L423.8 1414.4 L425.3 1417.1 L426.8 1419.7 L428.3 1422.3 L429.8 1424.9 L431.3 1427.5 L432.8 1430 L434.3 1432.6 L435.8 1435.2 L437.3 1437.7 L438.8 1440.3 L440.3 1442.9 L441.8 1445.4 L443.3 1448 L444.8 1450.5 L446.3 1453.1 L447.8 1455.7 L449.3 1458.2 L450.8 1460.8 L452.3 1463.4 L453.8 1465.9 L455.3 1468.5 L456.8 1471 L458.3 1473.5 L459.8 1476 L461.3 1478.5 L462.8 1481 L464.3 1483.4 L465.8 1485.8 L467.3 1488.2 L468.8 1490.6 L470.3 1492.9 L471.8 1495.2 L473.3 1497.4 L474.8 1499.6 L476.3 1501.7 L477.8 1503.8 L479.3 1505.9 L480.8 1507.9 L482.3 1509.8 L483.8 1511.7 L485.3 1513.5 L486.8 1515.3 L488.3 1517 L489.8 1518.6 L491.3 1520.2 L492.8 1521.7 L494.3 1523.1 L495.8 1524.4 L497.3 1525.7 L498.8 1527 L500.3 1528.2 L501.8 1529.3 L503.3 1530.4 L504.8 1531.5 L506.3 1532.5 L507.8 1533.5 L509.3 1534.5 L510.8 1535.4 L512.3 1536.3 L513.8 1537.2 L515.3 1538.1 L516.8 1538.9 L518.3 1539.8 L519.8 1540.6 L521.3 1541.5 L522.8 1542.3 L524.3 1543.1 L525.8 1544 L527.3 1544.8 L528.8 1545.7 L530.3 1546.5 L531.8 1547.4 L533.3 1548.2 L534.8 1549.1 L536.3 1549.9 L537.8 1550.8 L539.3 1551.6 L540.8 1552.4 L542.3 1553.3 L543.8 1554.1 L545.3 1554.9 L546.8 1555.7 L548.3 1556.4 L549.8 1557.2 L551.3 1558 L552.8 1558.7 L554.3 1559.4 L555.8 1560.1 L557.3 1560.8 L558.8 1561.5 L560.3 1562.1 L561.8 1562.7 L563.3 1563.3 L564.8 1563.9 L566.3 1564.4 L567.8 1564.9 L569.3 1565.4 L570.8 1565.9 L572.3 1566.5 L573.8 1567 L575.3 1567.5 L576.8 1568 L578.3 1568.5 L579.8 1569 L581.3 1569.6 L582.8 1570.2 L584.3 1570.8 L585.8 1571.4 L587.3 1572.1 L588.8 1572.8 L590.3 1573.6 L591.8 1574.4 L593.3 1575.2 L594.8 1576.1 L596.3 1577.1 L597.8 1578.1 L599.3 1579.1 L600.8 1580.1 L602.3 1581.1 L603.8 1582.1 L605.3 1583.1 L606.8 1584 L608.3 1584.9 L609.8 1585.8 L611.3 1586.6 L612.8 1587.3 L614.3 1587.9 L615.8 1588.5 L617.3 1588.9 L618.8 1589.3 L620.3 1589.6 L621.8 1589.8 L623.3 1590 L624.8 1590.1 L626.3 1590.2 L627.8 1590.2 L629.3 1590.1 L630.8 1590.1 L632.3 1589.9 L633.8 1589.8 L635.3 1589.6 L636.8 1589.5 L638.3 1589.3 L639.8 1589.1 L641.3 1588.9 L642.8 1588.7 L644.3 1588.5 L645.8 1588.3 L647.3 1588.1 L648.8 1588 L650.3 1587.8 L651.8 1587.8 L653.3 1587.7 L654.8 1587.7 L656.3 1587.8 L657.8 1587.9 L659.3 1588 L660.9 1588.2 L662.4 1588.4 L663.9 1588.7 L665.4 1589 L666.9 1589.3 L668.4 1589.7 L669.9 1590.1 L671.4 1590.5 L672.9 1590.9 L674.4 1591.3 L675.9 1591.7 L677.4 1592.1 L678.9 1592.6 L680.4 1593 L681.9 1593.4 L683.4 1593.7 L684.9 1594.1 L686.4 1594.5 L687.9 1594.9 L689.4 1595.3 L690.9 1595.7 L692.4 1596.2 L693.9 1596.7 L695.4 1597.2 L696.9 1597.7 L698.4 1598.3 L699.9 1598.9 L701.4 1599.5 L702.9 1600.2 L704.4 1601 L705.9 1601.8 L707.4 1602.7 L708.9 1603.6 L710.4 1604.5 L711.9 1605.5 L713.4 1606.5 L714.9 1607.6 L716.4 1608.7 L717.9 1609.8 L719.4 1610.9 L720.9 1612.1 L722.4 1613.3 L723.9 1614.5 L725.4 1615.7 L726.9 1616.9 L728.4 1618.1 L729.9 1619.3 L731.4 1620.5 L732.9 1621.8 L734.4 1623 L735.9 1624.2 L737.4 1625.4 L738.9 1626.6 L740.4 1627.7 L741.9 1628.9 L743.4 1630 L744.9 1631.1 L746.4 1632.1 L747.9 1633.2 L749.4 1634.2 L750.9 1635.1 L752.4 1636 L753.9 1636.9 L755.4 1637.7 L756.9 1638.5 L758.4 1639.2 L759.9 1639.9 L761.4 1640.6 L762.9 1641.2 L764.4 1641.8 L765.9 1642.3 L767.4 1642.8 L768.9 1643.3 L770.4 1643.7 L771.9 1644.2 L773.4 1644.6 L774.9 1644.9 L776.4 1645.3 L777.9 1645.6 L779.4 1646 L780.9 1646.3 L782.4 1646.6 L783.9 1646.9 L785.4 1647.1 L786.9 1647.4 L788.4 1647.7 L789.9 1647.9 L791.4 1648.2 L792.9 1648.5 L794.4 1648.7 L795.9 1649 L797.4 1649.3 L798.9 1649.6 L800.4 1649.9 L801.9 1650.2 L803.4 1650.6 L804.9 1650.9 L806.4 1651.3 L807.9 1651.7 L809.4 1652.1 L810.9 1652.5 L812.4 1652.9 L813.9 1653.4 L815.4 1653.8 L816.9 1654.2 L818.4 1654.7 L819.9 1655.2 L821.4 1655.6 L822.9 1656.1 L824.4 1656.6 L825.9 1657 L827.4 1657.5 L828.9 1657.9 L830.4 1658.4 L831.9 1658.9 L833.4 1659.3 L834.9 1659.7 L836.4 1660.2 L837.9 1660.6 L839.4 1661 L840.9 1661.4 L842.4 1661.8 L842.4 1682Z" fill="rgba(120,210,135,0.2)" stroke="rgba(95,145,110,0.28)" stroke-width="2" stroke-linejoin="round"/>
<path d="M89.2 1590.2H863.4" stroke="#b00a30" stroke-width="2.7" fill="none"/>
<path d="M110.5 1590.2 L112.5 1588.3 L114.5 1586.4 L116.5 1584.4 L118.5 1582.3 L120.5 1580.2 L122.5 1578 L124.5 1575.7 L126.5 1573.4 L128.5 1571.1 L130.5 1568.7 L132.5 1566.2 L134.5 1563.7 L136.5 1561.2 L138.5 1558.7 L140.5 1556.1 L142.5 1553.5 L144.5 1550.8 L146.5 1548.2 L148.5 1545.5 L150.5 1542.8 L152.5 1540.1 L154.5 1537.4 L156.5 1534.6 L158.5 1531.9 L160.5 1529.1 L162.5 1526.4 L164.5 1523.7 L166.5 1520.9 L168.5 1518.2 L170.5 1515.5 L172.5 1512.8 L174.5 1510.1 L176.5 1507.5 L178.5 1504.8 L180.5 1502.2 L182.5 1499.6 L184.5 1497 L186.5 1494.4 L188.5 1491.8 L190.5 1489.3 L192.5 1486.7 L194.5 1484.2 L196.5 1481.7 L198.5 1479.2 L200.5 1476.7 L202.5 1474.2 L204.5 1471.8 L206.5 1469.4 L208.5 1466.9 L210.5 1464.5 L212.5 1462.1 L214.5 1459.8 L216.5 1457.4 L218.5 1455.1 L220.5 1452.7 L222.5 1450.4 L224.5 1448.1 L226.5 1445.8 L228.5 1443.5 L230.5 1441.3 L232.5 1439 L234.5 1436.8 L236.5 1434.6 L238.5 1432.4 L240.5 1430.2 L242.5 1428.1 L244.5 1425.9 L246.5 1423.8 L248.5 1421.7 L250.5 1419.5 L252.5 1417.5 L254.5 1415.4 L256.5 1413.3 L258.5 1411.3 L260.5 1409.2 L262.5 1407.2 L264.5 1405.2 L266.5 1403.2 L268.5 1401.3 L270.5 1399.3 L272.5 1397.4 L274.5 1395.4 L276.5 1393.5 L278.5 1391.6 L280.5 1389.7 L282.5 1387.9 L284.5 1386 L286.5 1384.2 L288.5 1382.4 L290.5 1380.6 L292.5 1378.8 L294.5 1377 L296.5 1375.2 L298.5 1373.5 L300.5 1371.7 L302.5 1370 L304.5 1368.3 L306.5 1366.6 L308.5 1365 L310.5 1363.3 L312.5 1361.7 L314.5 1360 L316.5 1358.4 L318.5 1356.8 L320.5 1355.2 L322.5 1353.6 L324.5 1352.1 L326.5 1350.5 L328.5 1349 L330.5 1347.5 L332.5 1346 L334.5 1344.5 L336.5 1343 L338.5 1341.6 L340.5 1340.1 L342.5 1338.7 L344.5 1337.3 L346.5 1335.9 L348.5 1334.5 L350.5 1333.1 L352.5 1331.8 L354.5 1330.4 L356.5 1329.1 L358.5 1327.8 L360.5 1326.5 L362.5 1325.2 L364.5 1323.9 L366.5 1322.6 L368.5 1321.4 L370.5 1320.1 L372.5 1318.9 L374.5 1317.7 L376.5 1316.5 L378.5 1315.3 L380.5 1314.2 L382.5 1313 L384.5 1311.9 L386.5 1310.8 L388.5 1309.7 L390.5 1308.6 L392.5 1307.5 L394.5 1306.4 L396.5 1305.4 L398.5 1304.3 L400.5 1303.3 L402.5 1302.3 L404.5 1301.3 L406.5 1300.3 L408.5 1299.3 L410.5 1298.3 L412.5 1297.4 L414.5 1296.4 L416.5 1295.5 L418.5 1294.6 L420.5 1293.7 L422.5 1292.8 L424.5 1291.9 L426.5 1291.1 L428.5 1290.2 L430.5 1289.4 L432.5 1288.6 L434.5 1287.8 L436.5 1287 L438.5 1286.2 L440.5 1285.4 L442.5 1284.6 L444.5 1283.9 L446.5 1283.1 L448.5 1282.4 L450.5 1281.7 L452.5 1281 L454.5 1280.3 L456.5 1279.6 L458.5 1278.9 L460.5 1278.3 L462.5 1277.6 L464.5 1277 L466.5 1276.3 L468.5 1275.7 L470.5 1275.1 L472.5 1274.5 L474.5 1273.9 L476.4 1273.3 L478.4 1272.8 L480.4 1272.2 L482.4 1271.7 L484.4 1271.1 L486.4 1270.6 L488.4 1270.1 L490.4 1269.6 L492.4 1269.1 L494.4 1268.6 L496.4 1268.2 L498.4 1267.7 L500.4 1267.2 L502.4 1266.8 L504.4 1266.4 L506.4 1265.9 L508.4 1265.5 L510.4 1265.1 L512.4 1264.7 L514.4 1264.3 L516.4 1264 L518.4 1263.6 L520.4 1263.2 L522.4 1262.9 L524.4 1262.5 L526.4 1262.2 L528.4 1261.9 L530.4 1261.6 L532.4 1261.3 L534.4 1261 L536.4 1260.7 L538.4 1260.4 L540.4 1260.1 L542.4 1259.9 L544.4 1259.6 L546.4 1259.3 L548.4 1259.1 L550.4 1258.9 L552.4 1258.6 L554.4 1258.4 L556.4 1258.2 L558.4 1258 L560.4 1257.8 L562.4 1257.6 L564.4 1257.4 L566.4 1257.2 L568.4 1257 L570.4 1256.8 L572.4 1256.7 L574.4 1256.5 L576.4 1256.4 L578.4 1256.2 L580.4 1256.1 L582.4 1255.9 L584.4 1255.8 L586.4 1255.6 L588.4 1255.5 L590.4 1255.4 L592.4 1255.3 L594.4 1255.1 L596.4 1255 L598.4 1254.9 L600.4 1254.8 L602.4 1254.7 L604.4 1254.6 L606.4 1254.5 L608.4 1254.4 L610.4 1254.3 L612.4 1254.2 L614.4 1254.1 L616.4 1254 L618.4 1254 L620.4 1253.9 L622.4 1253.8 L624.4 1253.7 L626.4 1253.6 L628.4 1253.6 L630.4 1253.5 L632.4 1253.4 L634.4 1253.4 L636.4 1253.3 L638.4 1253.2 L640.4 1253.1 L642.4 1253.1 L644.4 1253 L646.4 1252.9 L648.4 1252.9 L650.4 1252.8 L652.4 1252.7 L654.4 1252.6 L656.4 1252.6 L658.4 1252.5 L660.4 1252.4 L662.4 1252.3 L664.4 1252.3 L666.4 1252.2 L668.4 1252.1 L670.4 1252 L672.4 1251.9 L674.4 1251.9 L676.4 1251.8 L678.4 1251.7 L680.4 1251.6 L682.4 1251.5 L684.4 1251.4 L686.4 1251.3 L688.4 1251.2 L690.4 1251.1 L692.4 1251 L694.4 1250.9 L696.4 1250.8 L698.4 1250.6 L700.4 1250.5 L702.4 1250.4 L704.4 1250.3 L706.4 1250.2 L708.4 1250.1 L710.4 1249.9 L712.4 1249.8 L714.4 1249.7 L716.4 1249.6 L718.4 1249.4 L720.4 1249.3 L722.4 1249.2 L724.4 1249 L726.4 1248.9 L728.4 1248.8 L730.4 1248.7 L732.4 1248.5 L734.4 1248.4 L736.4 1248.2 L738.4 1248.1 L740.4 1248 L742.4 1247.8 L744.4 1247.7 L746.4 1247.6 L748.4 1247.4 L750.4 1247.3 L752.4 1247.2 L754.4 1247 L756.4 1246.9 L758.4 1246.8 L760.4 1246.6 L762.4 1246.5 L764.4 1246.3 L766.4 1246.2 L768.4 1246.1 L770.4 1245.9 L772.4 1245.8 L774.4 1245.7 L776.4 1245.5 L778.4 1245.4 L780.4 1245.3 L782.4 1245.2 L784.4 1245 L786.4 1244.9 L788.4 1244.8 L790.4 1244.7 L792.4 1244.5 L794.4 1244.4 L796.4 1244.3 L798.4 1244.2 L800.4 1244.1 L802.4 1243.9 L804.4 1243.8 L806.4 1243.7 L808.4 1243.6 L810.4 1243.5 L812.4 1243.4 L814.4 1243.3 L816.4 1243.2 L818.4 1243.1 L820.4 1243 L822.4 1242.9 L824.4 1242.8 L826.4 1242.7 L828.4 1242.6 L830.4 1242.5 L832.4 1242.5 L834.4 1242.4 L836.4 1242.3 L838.4 1242.2 L840.4 1242.2 L842.4 1242.1 L842.4 1418.6 L840.4 1418.7 L838.4 1418.8 L836.4 1419 L834.4 1419.1 L832.4 1419.2 L830.4 1419.3 L828.4 1419.5 L826.4 1419.6 L824.4 1419.7 L822.4 1419.9 L820.4 1420 L818.4 1420.1 L816.4 1420.3 L814.4 1420.4 L812.4 1420.6 L810.4 1420.7 L808.4 1420.8 L806.4 1421 L804.4 1421.1 L802.4 1421.3 L800.4 1421.4 L798.4 1421.6 L796.4 1421.7 L794.4 1421.9 L792.4 1422 L790.4 1422.2 L788.4 1422.3 L786.4 1422.5 L784.4 1422.6 L782.4 1422.8 L780.4 1423 L778.4 1423.1 L776.4 1423.3 L774.4 1423.4 L772.4 1423.6 L770.4 1423.8 L768.4 1423.9 L766.4 1424.1 L764.4 1424.2 L762.4 1424.4 L760.4 1424.6 L758.4 1424.7 L756.4 1424.9 L754.4 1425.1 L752.4 1425.2 L750.4 1425.4 L748.4 1425.6 L746.4 1425.7 L744.4 1425.9 L742.4 1426.1 L740.4 1426.3 L738.4 1426.4 L736.4 1426.6 L734.4 1426.8 L732.4 1426.9 L730.4 1427.1 L728.4 1427.3 L726.4 1427.5 L724.4 1427.6 L722.4 1427.8 L720.4 1428 L718.4 1428.1 L716.4 1428.3 L714.4 1428.5 L712.4 1428.7 L710.4 1428.8 L708.4 1429 L706.4 1429.2 L704.4 1429.4 L702.4 1429.5 L700.4 1429.7 L698.4 1429.9 L696.4 1430 L694.4 1430.2 L692.4 1430.4 L690.4 1430.6 L688.4 1430.7 L686.4 1430.9 L684.4 1431.1 L682.4 1431.2 L680.4 1431.4 L678.4 1431.6 L676.4 1431.7 L674.4 1431.9 L672.4 1432.1 L670.4 1432.3 L668.4 1432.4 L666.4 1432.6 L664.4 1432.8 L662.4 1432.9 L660.4 1433.1 L658.4 1433.2 L656.4 1433.4 L654.4 1433.6 L652.4 1433.7 L650.4 1433.9 L648.4 1434.1 L646.4 1434.2 L644.4 1434.4 L642.4 1434.6 L640.4 1434.7 L638.4 1434.9 L636.4 1435.1 L634.4 1435.3 L632.4 1435.4 L630.4 1435.6 L628.4 1435.8 L626.4 1435.9 L624.4 1436.1 L622.4 1436.3 L620.4 1436.5 L618.4 1436.6 L616.4 1436.8 L614.4 1437 L612.4 1437.2 L610.4 1437.3 L608.4 1437.5 L606.4 1437.7 L604.4 1437.9 L602.4 1438.1 L600.4 1438.3 L598.4 1438.4 L596.4 1438.6 L594.4 1438.8 L592.4 1439 L590.4 1439.2 L588.4 1439.4 L586.4 1439.6 L584.4 1439.8 L582.4 1440 L580.4 1440.2 L578.4 1440.4 L576.4 1440.6 L574.4 1440.8 L572.4 1441 L570.4 1441.2 L568.4 1441.4 L566.4 1441.7 L564.4 1441.9 L562.4 1442.1 L560.4 1442.3 L558.4 1442.5 L556.4 1442.8 L554.4 1443 L552.4 1443.2 L550.4 1443.5 L548.4 1443.7 L546.4 1444 L544.4 1444.2 L542.4 1444.4 L540.4 1444.7 L538.4 1444.9 L536.4 1445.2 L534.4 1445.5 L532.4 1445.7 L530.4 1446 L528.4 1446.2 L526.4 1446.5 L524.4 1446.8 L522.4 1447.1 L520.4 1447.3 L518.4 1447.6 L516.4 1447.9 L514.4 1448.2 L512.4 1448.5 L510.4 1448.8 L508.4 1449.1 L506.4 1449.4 L504.4 1449.7 L502.4 1450 L500.4 1450.3 L498.4 1450.6 L496.4 1450.9 L494.4 1451.2 L492.4 1451.6 L490.4 1451.9 L488.4 1452.2 L486.4 1452.6 L484.4 1452.9 L482.4 1453.2 L480.4 1453.6 L478.4 1453.9 L476.4 1454.2 L474.5 1454.6 L472.5 1454.9 L470.5 1455.3 L468.5 1455.7 L466.5 1456 L464.5 1456.4 L462.5 1456.7 L460.5 1457.1 L458.5 1457.5 L456.5 1457.8 L454.5 1458.2 L452.5 1458.6 L450.5 1459 L448.5 1459.3 L446.5 1459.7 L444.5 1460.1 L442.5 1460.5 L440.5 1460.9 L438.5 1461.3 L436.5 1461.7 L434.5 1462.1 L432.5 1462.5 L430.5 1462.9 L428.5 1463.3 L426.5 1463.7 L424.5 1464.1 L422.5 1464.5 L420.5 1464.9 L418.5 1465.3 L416.5 1465.8 L414.5 1466.2 L412.5 1466.6 L410.5 1467 L408.5 1467.5 L406.5 1467.9 L404.5 1468.3 L402.5 1468.8 L400.5 1469.2 L398.5 1469.6 L396.5 1470.1 L394.5 1470.5 L392.5 1470.9 L390.5 1471.4 L388.5 1471.8 L386.5 1472.3 L384.5 1472.7 L382.5 1473.2 L380.5 1473.6 L378.5 1474.1 L376.5 1474.6 L374.5 1475 L372.5 1475.5 L370.5 1475.9 L368.5 1476.4 L366.5 1476.9 L364.5 1477.4 L362.5 1477.8 L360.5 1478.3 L358.5 1478.8 L356.5 1479.3 L354.5 1479.8 L352.5 1480.3 L350.5 1480.8 L348.5 1481.3 L346.5 1481.8 L344.5 1482.3 L342.5 1482.8 L340.5 1483.3 L338.5 1483.8 L336.5 1484.4 L334.5 1484.9 L332.5 1485.4 L330.5 1486 L328.5 1486.5 L326.5 1487.1 L324.5 1487.6 L322.5 1488.2 L320.5 1488.7 L318.5 1489.3 L316.5 1489.9 L314.5 1490.5 L312.5 1491 L310.5 1491.6 L308.5 1492.2 L306.5 1492.8 L304.5 1493.4 L302.5 1494 L300.5 1494.7 L298.5 1495.3 L296.5 1495.9 L294.5 1496.5 L292.5 1497.2 L290.5 1497.8 L288.5 1498.5 L286.5 1499.1 L284.5 1499.8 L282.5 1500.5 L280.5 1501.2 L278.5 1501.9 L276.5 1502.6 L274.5 1503.3 L272.5 1504 L270.5 1504.7 L268.5 1505.4 L266.5 1506.1 L264.5 1506.9 L262.5 1507.6 L260.5 1508.4 L258.5 1509.2 L256.5 1509.9 L254.5 1510.7 L252.5 1511.5 L250.5 1512.3 L248.5 1513.1 L246.5 1513.9 L244.5 1514.7 L242.5 1515.5 L240.5 1516.3 L238.5 1517.2 L236.5 1518 L234.5 1518.8 L232.5 1519.7 L230.5 1520.6 L228.5 1521.4 L226.5 1522.3 L224.5 1523.2 L222.5 1524 L220.5 1524.9 L218.5 1525.8 L216.5 1526.7 L214.5 1527.6 L212.5 1528.5 L210.5 1529.5 L208.5 1530.4 L206.5 1531.3 L204.5 1532.2 L202.5 1533.2 L200.5 1534.1 L198.5 1535.1 L196.5 1536 L194.5 1537 L192.5 1537.9 L190.5 1538.9 L188.5 1539.9 L186.5 1540.9 L184.5 1541.8 L182.5 1542.8 L180.5 1543.8 L178.5 1544.8 L176.5 1545.8 L174.5 1546.8 L172.5 1547.8 L170.5 1548.8 L168.5 1549.8 L166.5 1550.9 L164.5 1551.9 L162.5 1552.9 L160.5 1554 L158.5 1555 L156.5 1556.1 L154.5 1557.2 L152.5 1558.3 L150.5 1559.5 L148.5 1560.6 L146.5 1561.8 L144.5 1563.1 L142.5 1564.3 L140.5 1565.6 L138.5 1566.9 L136.5 1568.3 L134.5 1569.7 L132.5 1571.1 L130.5 1572.6 L128.5 1574.1 L126.5 1575.7 L124.5 1577.3 L122.5 1579 L120.5 1580.7 L118.5 1582.5 L116.5 1584.3 L114.5 1586.2 L112.5 1588.2 L110.5 1590.2Z" fill="rgba(125,135,130,0.2)" stroke="rgba(112,116,114,0.40)" stroke-width="2.2" stroke-linejoin="round"/>
<g fill="#0a0a0a"><rect x="163.9" y="941" width="1.5" height="18.4" fill-opacity="0.81"/><rect x="169.6" y="941" width="1.5" height="18.4" fill-opacity="0.81"/><rect x="186.8" y="941" width="1.6" height="18.4" fill-opacity="0.76"/><rect x="196.3" y="941" width="1.7" height="18.4" fill-opacity="0.86"/><rect x="202.2" y="941" width="11.5" height="18.4" fill-opacity="0.84"/><rect x="202.2" y="941" width="1.4" height="18.4" fill-opacity="0.95"/><rect x="204.1" y="941" width="1.4" height="18.4" fill-opacity="0.95"/><rect x="206.5" y="941" width="1.4" height="18.4" fill-opacity="0.95"/><rect x="208.3" y="941" width="1.4" height="18.4" fill-opacity="0.95"/><rect x="210" y="941" width="1.4" height="18.4" fill-opacity="0.95"/><rect x="212.3" y="941" width="1.4" height="18.4" fill-opacity="0.95"/><rect x="217.4" y="941" width="1.5" height="18.4" fill-opacity="0.76"/><rect x="221.7" y="941" width="1.9" height="18.4" fill-opacity="0.96"/><rect x="226.6" y="941" width="6.4" height="18.4" fill-opacity="0.84"/><rect x="226.6" y="941" width="1.4" height="18.4" fill-opacity="0.95"/><rect x="228.3" y="941" width="1.4" height="18.4" fill-opacity="0.95"/><rect x="229.7" y="941" width="1.4" height="18.4" fill-opacity="0.95"/><rect x="231.6" y="941" width="1.4" height="18.4" fill-opacity="0.95"/><rect x="235.2" y="941" width="6.1" height="18.4" fill-opacity="0.92"/><rect x="235.2" y="941" width="1.4" height="18.4" fill-opacity="0.95"/><rect x="237" y="941" width="1.4" height="18.4" fill-opacity="0.95"/><rect x="238.3" y="941" width="1.4" height="18.4" fill-opacity="0.95"/><rect x="239.9" y="941" width="1.4" height="18.4" fill-opacity="0.95"/><rect x="242.9" y="941" width="1.5" height="18.4" fill-opacity="0.66"/><rect x="250.7" y="941" width="3.8" height="18.4" fill-opacity="0.32"/><rect x="250.7" y="941" width="1.4" height="18.4" fill-opacity="0.73"/><rect x="252" y="941" width="1.4" height="18.4" fill-opacity="0.73"/><rect x="253.1" y="941" width="1.4" height="18.4" fill-opacity="0.73"/><rect x="264.7" y="941" width="1.8" height="18.4" fill-opacity="0.96"/><rect x="274.3" y="941" width="6.6" height="18.4" fill-opacity="0.84"/><rect x="274.3" y="941" width="1.4" height="18.4" fill-opacity="0.95"/><rect x="276" y="941" width="1.4" height="18.4" fill-opacity="0.95"/><rect x="277.5" y="941" width="1.4" height="18.4" fill-opacity="0.95"/><rect x="279.5" y="941" width="1.4" height="18.4" fill-opacity="0.95"/><rect x="280.9" y="941" width="12" height="18.4" fill-opacity="0.21"/><rect x="280.9" y="941" width="1.4" height="18.4" fill-opacity="0.68"/><rect x="283.3" y="941" width="1.4" height="18.4" fill-opacity="0.68"/><rect x="285.1" y="941" width="1.4" height="18.4" fill-opacity="0.68"/><rect x="287" y="941" width="1.4" height="18.4" fill-opacity="0.68"/><rect x="289.5" y="941" width="1.4" height="18.4" fill-opacity="0.68"/><rect x="291.5" y="941" width="1.4" height="18.4" fill-opacity="0.68"/><rect x="293.7" y="941" width="2.4" height="18.4" fill-opacity="0.96"/><rect x="299.3" y="941" width="2" height="18.4" fill-opacity="0.91"/><rect x="308.1" y="941" width="4.6" height="18.4" fill-opacity="0.92"/><rect x="308.1" y="941" width="1.4" height="18.4" fill-opacity="0.95"/><rect x="309.5" y="941" width="1.4" height="18.4" fill-opacity="0.95"/><rect x="311.3" y="941" width="1.4" height="18.4" fill-opacity="0.95"/><rect x="320.6" y="941" width="1.5" height="18.4" fill-opacity="0.76"/><rect x="326.2" y="941" width="2.2" height="18.4" fill-opacity="0.96"/><rect x="330" y="941" width="7.4" height="18.4" fill-opacity="0.73"/><rect x="330" y="941" width="1.4" height="18.4" fill-opacity="0.93"/><rect x="331.9" y="941" width="1.4" height="18.4" fill-opacity="0.93"/><rect x="334.2" y="941" width="1.4" height="18.4" fill-opacity="0.93"/><rect x="336" y="941" width="1.4" height="18.4" fill-opacity="0.93"/><rect x="346.1" y="941" width="1.5" height="18.4" fill-opacity="0.76"/><rect x="354.9" y="941" width="6.1" height="18.4" fill-opacity="0.63"/><rect x="354.9" y="941" width="1.4" height="18.4" fill-opacity="0.88"/><rect x="356.2" y="941" width="1.4" height="18.4" fill-opacity="0.88"/><rect x="358.2" y="941" width="1.4" height="18.4" fill-opacity="0.88"/><rect x="359.6" y="941" width="1.4" height="18.4" fill-opacity="0.88"/><rect x="364.1" y="941" width="1.5" height="18.4" fill-opacity="0.76"/><rect x="371.3" y="941" width="10" height="18.4" fill-opacity="0.63"/><rect x="371.3" y="941" width="1.4" height="18.4" fill-opacity="0.88"/><rect x="373.7" y="941" width="1.4" height="18.4" fill-opacity="0.88"/><rect x="375.6" y="941" width="1.4" height="18.4" fill-opacity="0.88"/><rect x="377.5" y="941" width="1.4" height="18.4" fill-opacity="0.88"/><rect x="379.9" y="941" width="1.4" height="18.4" fill-opacity="0.88"/><rect x="383.4" y="941" width="1.5" height="18.4" fill-opacity="0.76"/><rect x="387.3" y="941" width="5" height="18.4" fill-opacity="0.73"/><rect x="387.3" y="941" width="1.4" height="18.4" fill-opacity="0.93"/><rect x="389.2" y="941" width="1.4" height="18.4" fill-opacity="0.93"/><rect x="390.9" y="941" width="1.4" height="18.4" fill-opacity="0.93"/><rect x="397.9" y="941" width="2.4" height="18.4" fill-opacity="0.96"/><rect x="401.9" y="941" width="5.2" height="18.4" fill-opacity="0.63"/><rect x="401.9" y="941" width="1.4" height="18.4" fill-opacity="0.88"/><rect x="403.8" y="941" width="1.4" height="18.4" fill-opacity="0.88"/><rect x="405.7" y="941" width="1.4" height="18.4" fill-opacity="0.88"/><rect x="413" y="941" width="4.8" height="18.4" fill-opacity="0.73"/><rect x="413" y="941" width="1.4" height="18.4" fill-opacity="0.93"/><rect x="414.9" y="941" width="1.4" height="18.4" fill-opacity="0.93"/><rect x="416.4" y="941" width="1.4" height="18.4" fill-opacity="0.93"/><rect x="422.9" y="941" width="5.2" height="18.4" fill-opacity="0.92"/><rect x="422.9" y="941" width="1.4" height="18.4" fill-opacity="0.95"/><rect x="424.7" y="941" width="1.4" height="18.4" fill-opacity="0.95"/><rect x="426.7" y="941" width="1.4" height="18.4" fill-opacity="0.95"/><rect x="431" y="941" width="13.4" height="18.4" fill-opacity="0.63"/><rect x="431" y="941" width="1.4" height="18.4" fill-opacity="0.88"/><rect x="433.1" y="941" width="1.4" height="18.4" fill-opacity="0.88"/><rect x="434.9" y="941" width="1.4" height="18.4" fill-opacity="0.88"/><rect x="437.2" y="941" width="1.4" height="18.4" fill-opacity="0.88"/><rect x="439" y="941" width="1.4" height="18.4" fill-opacity="0.88"/><rect x="440.8" y="941" width="1.4" height="18.4" fill-opacity="0.88"/><rect x="443" y="941" width="1.4" height="18.4" fill-opacity="0.88"/><rect x="447.2" y="941" width="2" height="18.4" fill-opacity="0.96"/><rect x="458" y="941" width="1.7" height="18.4" fill-opacity="0.76"/><rect x="463.8" y="941" width="1.6" height="18.4" fill-opacity="0.76"/><rect x="470.6" y="941" width="4.8" height="18.4" fill-opacity="0.84"/><rect x="470.6" y="941" width="1.4" height="18.4" fill-opacity="0.95"/><rect x="472.2" y="941" width="1.4" height="18.4" fill-opacity="0.95"/><rect x="474" y="941" width="1.4" height="18.4" fill-opacity="0.95"/><rect x="478.5" y="941" width="1.5" height="18.4" fill-opacity="0.71"/><rect x="482" y="941" width="5" height="18.4" fill-opacity="0.63"/><rect x="482" y="941" width="1.4" height="18.4" fill-opacity="0.88"/><rect x="483.6" y="941" width="1.4" height="18.4" fill-opacity="0.88"/><rect x="485.6" y="941" width="1.4" height="18.4" fill-opacity="0.88"/><rect x="493.3" y="941" width="1.7" height="18.4" fill-opacity="0.76"/><rect x="502.3" y="941" width="1.8" height="18.4" fill-opacity="0.76"/><rect x="506.6" y="941" width="1.8" height="18.4" fill-opacity="0.76"/><rect x="510.9" y="941" width="1.8" height="18.4" fill-opacity="0.76"/><rect x="524.4" y="941" width="1.7" height="18.4" fill-opacity="0.76"/><rect x="532" y="941" width="1.5" height="18.4" fill-opacity="0.71"/><rect x="535.4" y="941" width="2.2" height="18.4" fill-opacity="0.86"/><rect x="540.5" y="941" width="1.6" height="18.4" fill-opacity="0.76"/><rect x="549.1" y="941" width="1.6" height="18.4" fill-opacity="0.76"/><rect x="555.4" y="941" width="2" height="18.4" fill-opacity="0.96"/><rect x="559.9" y="941" width="1.5" height="18.4" fill-opacity="0.76"/><rect x="563.8" y="941" width="4.1" height="18.4" fill-opacity="0.84"/><rect x="563.8" y="941" width="1.4" height="18.4" fill-opacity="0.95"/><rect x="565.4" y="941" width="1.4" height="18.4" fill-opacity="0.95"/><rect x="566.5" y="941" width="1.4" height="18.4" fill-opacity="0.95"/><rect x="569.5" y="941" width="1.8" height="18.4" fill-opacity="0.71"/><rect x="573.5" y="941" width="2" height="18.4" fill-opacity="0.96"/><rect x="583.8" y="941" width="1.8" height="18.4" fill-opacity="0.76"/><rect x="586.9" y="941" width="2.4" height="18.4" fill-opacity="0.96"/><rect x="592.3" y="941" width="1.5" height="18.4" fill-opacity="0.76"/><rect x="597.3" y="941" width="1.5" height="18.4" fill-opacity="0.76"/><rect x="633.2" y="941" width="2.2" height="18.4" fill-opacity="0.96"/><rect x="638.7" y="941" width="6" height="18.4" fill-opacity="0.32"/><rect x="638.7" y="941" width="1.4" height="18.4" fill-opacity="0.73"/><rect x="640" y="941" width="1.4" height="18.4" fill-opacity="0.73"/><rect x="641.9" y="941" width="1.4" height="18.4" fill-opacity="0.73"/><rect x="643.3" y="941" width="1.4" height="18.4" fill-opacity="0.73"/><rect x="653.9" y="941" width="1.7" height="18.4" fill-opacity="0.76"/><rect x="668.9" y="941" width="1.5" height="18.4" fill-opacity="0.76"/><rect x="674.2" y="941" width="1.8" height="18.4" fill-opacity="0.76"/><rect x="678.7" y="941" width="1.9" height="18.4" fill-opacity="0.76"/><rect x="684.2" y="941" width="1.7" height="18.4" fill-opacity="0.76"/><rect x="693.6" y="941" width="2.2" height="18.4" fill-opacity="0.97"/><rect x="704.4" y="941" width="8.6" height="18.4" fill-opacity="0.73"/><rect x="704.4" y="941" width="1.4" height="18.4" fill-opacity="0.93"/><rect x="706.4" y="941" width="1.4" height="18.4" fill-opacity="0.93"/><rect x="708" y="941" width="1.4" height="18.4" fill-opacity="0.93"/><rect x="709.6" y="941" width="1.4" height="18.4" fill-opacity="0.93"/><rect x="711.6" y="941" width="1.4" height="18.4" fill-opacity="0.93"/><rect x="716.6" y="941" width="1.8" height="18.4" fill-opacity="0.76"/><rect x="723.2" y="941" width="2.4" height="18.4" fill-opacity="0.97"/><rect x="736.9" y="941" width="1.7" height="18.4" fill-opacity="0.76"/><rect x="743.7" y="941" width="3.4" height="18.4" fill-opacity="0.63"/><rect x="743.7" y="941" width="1.4" height="18.4" fill-opacity="0.88"/><rect x="745.7" y="941" width="1.4" height="18.4" fill-opacity="0.88"/><rect x="748.9" y="941" width="1.5" height="18.4" fill-opacity="0.76"/><rect x="752.9" y="941" width="1.7" height="18.4" fill-opacity="0.76"/><rect x="759.9" y="941" width="1.7" height="18.4" fill-opacity="0.76"/><rect x="770.6" y="941" width="2.4" height="18.4" fill-opacity="0.91"/><rect x="775.6" y="941" width="1.6" height="18.4" fill-opacity="0.76"/><rect x="796.4" y="941" width="2" height="18.4" fill-opacity="0.96"/><rect x="824.3" y="941" width="1.5" height="18.4" fill-opacity="0.76"/><rect x="828.9" y="941" width="5.2" height="18.4" fill-opacity="0.63"/><rect x="828.9" y="941" width="1.4" height="18.4" fill-opacity="0.88"/><rect x="830.9" y="941" width="1.4" height="18.4" fill-opacity="0.88"/><rect x="832.7" y="941" width="1.4" height="18.4" fill-opacity="0.88"/><rect x="856.4" y="941" width="1.7" height="18.4" fill-opacity="0.76"/></g>
<path d="M110.2 1590.2 L112.2 1588.2 L114.2 1586.1 L116.2 1584.1 L118.2 1582.2 L120.2 1580.2 L122.2 1578.2 L124.2 1576.2 L126.2 1574.3 L128.2 1572.4 L130.2 1570.4 L132.2 1568.5 L134.2 1566.6 L136.2 1564.7 L138.2 1562.8 L140.2 1561 L142.2 1559.1 L144.2 1557.2 L146.2 1555.4 L148.2 1553.5 L150.2 1551.7 L152.2 1549.8 L154.2 1548 L156.2 1546.2 L158.2 1544.4 L160.2 1542.6 L162.2 1540.7 L164.2 1538.9 L166.2 1537.1 L168.2 1535.3 L170.2 1533.5 L172.2 1531.7 L174.2 1529.9 L176.2 1528.1 L178.2 1526.4 L180.2 1524.6 L182.2 1522.8 L184.2 1521 L186.2 1519.2 L188.2 1517.5 L190.2 1515.7 L192.2 1513.9 L194.2 1512.2 L196.2 1510.4 L198.2 1508.7 L200.2 1507 L202.2 1505.2 L204.2 1503.5 L206.2 1501.8 L208.2 1500.1 L210.2 1498.4 L212.2 1496.7 L214.2 1495 L216.2 1493.3 L218.2 1491.6 L220.2 1489.9 L222.2 1488.3 L224.2 1486.6 L226.2 1485 L228.2 1483.3 L230.2 1481.7 L232.2 1480.1 L234.2 1478.5 L236.2 1476.9 L238.2 1475.3 L240.2 1473.7 L242.2 1472.2 L244.2 1470.6 L246.2 1469.1 L248.2 1467.5 L250.2 1466 L252.2 1464.5 L254.2 1463 L256.2 1461.5 L258.2 1460 L260.2 1458.6 L262.2 1457.1 L264.2 1455.7 L266.2 1454.3 L268.2 1452.9 L270.2 1451.5 L272.2 1450.1 L274.2 1448.7 L276.2 1447.4 L278.2 1446 L280.2 1444.7 L282.2 1443.4 L284.2 1442.1 L286.2 1440.8 L288.2 1439.5 L290.2 1438.3 L292.2 1437 L294.3 1435.8 L296.3 1434.5 L298.3 1433.3 L300.3 1432.1 L302.3 1430.9 L304.3 1429.8 L306.3 1428.6 L308.3 1427.5 L310.3 1426.3 L312.3 1425.2 L314.3 1424.1 L316.3 1423 L318.3 1421.9 L320.3 1420.8 L322.3 1419.7 L324.3 1418.6 L326.3 1417.6 L328.3 1416.6 L330.3 1415.5 L332.3 1414.5 L334.3 1413.5 L336.3 1412.5 L338.3 1411.5 L340.3 1410.5 L342.3 1409.6 L344.3 1408.6 L346.3 1407.7 L348.3 1406.7 L350.3 1405.8 L352.3 1404.9 L354.3 1404 L356.3 1403.1 L358.3 1402.2 L360.3 1401.3 L362.3 1400.4 L364.3 1399.6 L366.3 1398.7 L368.3 1397.9 L370.3 1397 L372.3 1396.2 L374.3 1395.4 L376.3 1394.6 L378.3 1393.8 L380.3 1393 L382.3 1392.2 L384.3 1391.4 L386.3 1390.6 L388.3 1389.9 L390.3 1389.1 L392.3 1388.4 L394.3 1387.6 L396.3 1386.9 L398.3 1386.2 L400.3 1385.4 L402.3 1384.7 L404.3 1384 L406.3 1383.3 L408.3 1382.6 L410.3 1382 L412.3 1381.3 L414.3 1380.6 L416.3 1380 L418.3 1379.3 L420.3 1378.7 L422.3 1378 L424.3 1377.4 L426.3 1376.8 L428.3 1376.2 L430.3 1375.6 L432.3 1375 L434.3 1374.4 L436.3 1373.8 L438.3 1373.2 L440.3 1372.6 L442.3 1372.1 L444.3 1371.5 L446.3 1370.9 L448.3 1370.4 L450.3 1369.9 L452.3 1369.3 L454.3 1368.8 L456.3 1368.3 L458.3 1367.8 L460.3 1367.3 L462.3 1366.8 L464.3 1366.3 L466.3 1365.8 L468.3 1365.3 L470.3 1364.8 L472.3 1364.4 L474.3 1363.9 L476.3 1363.5 L478.3 1363 L480.3 1362.6 L482.3 1362.2 L484.3 1361.7 L486.3 1361.3 L488.3 1360.9 L490.3 1360.5 L492.3 1360.1 L494.3 1359.7 L496.3 1359.3 L498.3 1358.9 L500.3 1358.5 L502.3 1358.2 L504.3 1357.8 L506.3 1357.5 L508.3 1357.1 L510.3 1356.8 L512.3 1356.4 L514.3 1356.1 L516.3 1355.8 L518.3 1355.4 L520.3 1355.1 L522.3 1354.8 L524.3 1354.5 L526.3 1354.2 L528.3 1353.9 L530.3 1353.6 L532.3 1353.3 L534.3 1353.1 L536.3 1352.8 L538.3 1352.5 L540.3 1352.3 L542.3 1352 L544.3 1351.8 L546.3 1351.5 L548.3 1351.3 L550.3 1351 L552.3 1350.8 L554.3 1350.6 L556.3 1350.3 L558.3 1350.1 L560.3 1349.9 L562.3 1349.7 L564.3 1349.5 L566.3 1349.3 L568.3 1349.1 L570.3 1348.9 L572.3 1348.7 L574.3 1348.5 L576.3 1348.3 L578.3 1348.2 L580.3 1348 L582.3 1347.8 L584.3 1347.6 L586.3 1347.5 L588.3 1347.3 L590.3 1347.1 L592.3 1347 L594.3 1346.8 L596.3 1346.7 L598.3 1346.5 L600.3 1346.4 L602.3 1346.2 L604.3 1346.1 L606.3 1345.9 L608.3 1345.8 L610.3 1345.7 L612.3 1345.5 L614.3 1345.4 L616.3 1345.2 L618.3 1345.1 L620.3 1345 L622.3 1344.9 L624.3 1344.7 L626.3 1344.6 L628.3 1344.5 L630.3 1344.3 L632.3 1344.2 L634.3 1344.1 L636.3 1344 L638.3 1343.8 L640.3 1343.7 L642.3 1343.6 L644.3 1343.5 L646.3 1343.4 L648.3 1343.2 L650.3 1343.1 L652.3 1343 L654.3 1342.9 L656.3 1342.8 L658.3 1342.6 L660.4 1342.5 L662.4 1342.4 L664.4 1342.3 L666.4 1342.1 L668.4 1342 L670.4 1341.9 L672.4 1341.8 L674.4 1341.6 L676.4 1341.5 L678.4 1341.4 L680.4 1341.2 L682.4 1341.1 L684.4 1341 L686.4 1340.8 L688.4 1340.7 L690.4 1340.6 L692.4 1340.4 L694.4 1340.3 L696.4 1340.1 L698.4 1340 L700.4 1339.8 L702.4 1339.7 L704.4 1339.6 L706.4 1339.4 L708.4 1339.3 L710.4 1339.1 L712.4 1339 L714.4 1338.8 L716.4 1338.7 L718.4 1338.5 L720.4 1338.4 L722.4 1338.2 L724.4 1338.1 L726.4 1337.9 L728.4 1337.8 L730.4 1337.7 L732.4 1337.5 L734.4 1337.4 L736.4 1337.2 L738.4 1337.1 L740.4 1336.9 L742.4 1336.8 L744.4 1336.6 L746.4 1336.5 L748.4 1336.3 L750.4 1336.2 L752.4 1336 L754.4 1335.9 L756.4 1335.8 L758.4 1335.6 L760.4 1335.5 L762.4 1335.3 L764.4 1335.2 L766.4 1335.1 L768.4 1334.9 L770.4 1334.8 L772.4 1334.7 L774.4 1334.5 L776.4 1334.4 L778.4 1334.3 L780.4 1334.1 L782.4 1334 L784.4 1333.9 L786.4 1333.7 L788.4 1333.6 L790.4 1333.5 L792.4 1333.4 L794.4 1333.3 L796.4 1333.1 L798.4 1333 L800.4 1332.9 L802.4 1332.8 L804.4 1332.7 L806.4 1332.6 L808.4 1332.5 L810.4 1332.4 L812.4 1332.3 L814.4 1332.2 L816.4 1332.1 L818.4 1332 L820.4 1331.9 L822.4 1331.8 L824.4 1331.7 L826.4 1331.7 L828.4 1331.6 L830.4 1331.5 L832.4 1331.4 L834.4 1331.4 L836.4 1331.3 L838.4 1331.2 L840.4 1331.2 L842.4 1331.1" fill="none" stroke="#0d0d0d" stroke-width="7.6" stroke-linejoin="round"/>
<path d="M110.2 1590.2 L112.2 1588.2 L114.2 1586.1 L116.2 1584.1 L118.2 1582.2 L120.2 1580.2 L122.2 1578.2 L124.2 1576.2 L126.2 1574.3 L128.2 1572.4 L130.2 1570.4 L132.2 1568.5 L134.2 1566.6 L136.2 1564.7 L138.2 1562.8 L140.2 1561 L142.2 1559.1 L144.2 1557.2 L146.2 1555.4 L148.2 1553.5 L150.2 1551.7 L152.2 1549.8 L154.2 1548 L156.2 1546.2 L158.2 1544.4 L160.2 1542.6 L162.2 1540.7 L164.2 1538.9 L166.2 1537.1 L168.2 1535.3 L170.2 1533.5 L172.2 1531.7 L174.2 1529.9 L176.2 1528.1 L178.2 1526.4 L180.2 1524.6 L182.2 1522.8 L184.2 1521 L186.2 1519.2 L188.2 1517.5 L190.2 1515.7 L192.2 1513.9 L194.2 1512.2 L196.2 1510.4 L198.2 1508.7 L200.2 1507 L202.2 1505.2 L204.2 1503.5 L206.2 1501.8 L208.2 1500.1 L210.2 1498.4 L212.2 1496.7 L214.2 1495 L216.2 1493.3 L218.2 1491.6 L220.2 1489.9 L222.2 1488.3 L224.2 1486.6 L226.2 1485 L228.2 1483.3 L230.2 1481.7 L232.2 1480.1 L234.2 1478.5 L236.2 1476.9 L238.2 1475.3 L240.2 1473.7 L242.2 1472.2 L244.2 1470.6 L246.2 1469.1 L248.2 1467.5 L250.2 1466 L252.2 1464.5 L254.2 1463 L256.2 1461.5 L258.2 1460 L260.2 1458.6 L262.2 1457.1 L264.2 1455.7 L266.2 1454.3 L268.2 1452.9 L270.2 1451.5 L272.2 1450.1 L274.2 1448.7 L276.2 1447.4 L278.2 1446 L280.2 1444.7 L282.2 1443.4 L284.2 1442.1 L286.2 1440.8 L288.2 1439.5 L290.2 1438.3 L292.2 1437 L294.3 1435.8 L296.3 1434.5 L298.3 1433.3 L300.3 1432.1 L302.3 1430.9 L304.3 1429.8 L306.3 1428.6 L308.3 1427.5 L310.3 1426.3 L312.3 1425.2 L314.3 1424.1 L316.3 1423 L318.3 1421.9 L320.3 1420.8 L322.3 1419.7 L324.3 1418.6 L326.3 1417.6 L328.3 1416.6 L330.3 1415.5 L332.3 1414.5 L334.3 1413.5 L336.3 1412.5 L338.3 1411.5 L340.3 1410.5 L342.3 1409.6 L344.3 1408.6 L346.3 1407.7 L348.3 1406.7 L350.3 1405.8 L352.3 1404.9 L354.3 1404 L356.3 1403.1 L358.3 1402.2 L360.3 1401.3 L362.3 1400.4 L364.3 1399.6 L366.3 1398.7 L368.3 1397.9 L370.3 1397 L372.3 1396.2 L374.3 1395.4 L376.3 1394.6 L378.3 1393.8 L380.3 1393 L382.3 1392.2 L384.3 1391.4 L386.3 1390.6 L388.3 1389.9 L390.3 1389.1 L392.3 1388.4 L394.3 1387.6 L396.3 1386.9 L398.3 1386.2 L400.3 1385.4 L402.3 1384.7 L404.3 1384 L406.3 1383.3 L408.3 1382.6 L410.3 1382 L412.3 1381.3 L414.3 1380.6 L416.3 1380 L418.3 1379.3 L420.3 1378.7 L422.3 1378 L424.3 1377.4 L426.3 1376.8 L428.3 1376.2 L430.3 1375.6 L432.3 1375 L434.3 1374.4 L436.3 1373.8 L438.3 1373.2 L440.3 1372.6 L442.3 1372.1 L444.3 1371.5 L446.3 1370.9 L448.3 1370.4 L450.3 1369.9 L452.3 1369.3 L454.3 1368.8 L456.3 1368.3 L458.3 1367.8 L460.3 1367.3 L462.3 1366.8 L464.3 1366.3 L466.3 1365.8 L468.3 1365.3 L470.3 1364.8 L472.3 1364.4 L474.3 1363.9 L476.3 1363.5 L478.3 1363 L480.3 1362.6 L482.3 1362.2 L484.3 1361.7 L486.3 1361.3 L488.3 1360.9 L490.3 1360.5 L492.3 1360.1 L494.3 1359.7 L496.3 1359.3 L498.3 1358.9 L500.3 1358.5 L502.3 1358.2 L504.3 1357.8 L506.3 1357.5 L508.3 1357.1 L510.3 1356.8 L512.3 1356.4 L514.3 1356.1 L516.3 1355.8 L518.3 1355.4 L520.3 1355.1 L522.3 1354.8 L524.3 1354.5 L526.3 1354.2 L528.3 1353.9 L530.3 1353.6 L532.3 1353.3 L534.3 1353.1 L536.3 1352.8 L538.3 1352.5 L540.3 1352.3 L542.3 1352 L544.3 1351.8 L546.3 1351.5 L548.3 1351.3 L550.3 1351 L552.3 1350.8 L554.3 1350.6 L556.3 1350.3 L558.3 1350.1 L560.3 1349.9 L562.3 1349.7 L564.3 1349.5 L566.3 1349.3 L568.3 1349.1 L570.3 1348.9 L572.3 1348.7 L574.3 1348.5 L576.3 1348.3 L578.3 1348.2 L580.3 1348 L582.3 1347.8 L584.3 1347.6 L586.3 1347.5 L588.3 1347.3 L590.3 1347.1 L592.3 1347 L594.3 1346.8 L596.3 1346.7 L598.3 1346.5 L600.3 1346.4 L602.3 1346.2 L604.3 1346.1 L606.3 1345.9 L608.3 1345.8 L610.3 1345.7 L612.3 1345.5 L614.3 1345.4 L616.3 1345.2 L618.3 1345.1 L620.3 1345 L622.3 1344.9 L624.3 1344.7 L626.3 1344.6 L628.3 1344.5 L630.3 1344.3 L632.3 1344.2 L634.3 1344.1 L636.3 1344 L638.3 1343.8 L640.3 1343.7 L642.3 1343.6 L644.3 1343.5 L646.3 1343.4 L648.3 1343.2 L650.3 1343.1 L652.3 1343 L654.3 1342.9 L656.3 1342.8 L658.3 1342.6 L660.4 1342.5 L662.4 1342.4 L664.4 1342.3 L666.4 1342.1 L668.4 1342 L670.4 1341.9 L672.4 1341.8 L674.4 1341.6 L676.4 1341.5 L678.4 1341.4 L680.4 1341.2 L682.4 1341.1 L684.4 1341 L686.4 1340.8 L688.4 1340.7 L690.4 1340.6 L692.4 1340.4 L694.4 1340.3 L696.4 1340.1 L698.4 1340 L700.4 1339.8 L702.4 1339.7 L704.4 1339.6 L706.4 1339.4 L708.4 1339.3 L710.4 1339.1 L712.4 1339 L714.4 1338.8 L716.4 1338.7 L718.4 1338.5 L720.4 1338.4 L722.4 1338.2 L724.4 1338.1 L726.4 1337.9 L728.4 1337.8 L730.4 1337.7 L732.4 1337.5 L734.4 1337.4 L736.4 1337.2 L738.4 1337.1 L740.4 1336.9 L742.4 1336.8 L744.4 1336.6 L746.4 1336.5 L748.4 1336.3 L750.4 1336.2 L752.4 1336 L754.4 1335.9 L756.4 1335.8 L758.4 1335.6 L760.4 1335.5 L762.4 1335.3 L764.4 1335.2 L766.4 1335.1 L768.4 1334.9 L770.4 1334.8 L772.4 1334.7 L774.4 1334.5 L776.4 1334.4 L778.4 1334.3 L780.4 1334.1 L782.4 1334 L784.4 1333.9 L786.4 1333.7 L788.4 1333.6 L790.4 1333.5 L792.4 1333.4 L794.4 1333.3 L796.4 1333.1 L798.4 1333 L800.4 1332.9 L802.4 1332.8 L804.4 1332.7 L806.4 1332.6 L808.4 1332.5 L810.4 1332.4 L812.4 1332.3 L814.4 1332.2 L816.4 1332.1 L818.4 1332 L820.4 1331.9 L822.4 1331.8 L824.4 1331.7 L826.4 1331.7 L828.4 1331.6 L830.4 1331.5 L832.4 1331.4 L834.4 1331.4 L836.4 1331.3 L838.4 1331.2 L840.4 1331.2 L842.4 1331.1" fill="none" stroke="#fff" stroke-opacity="0.13" stroke-width="7.6" stroke-dasharray="0.8 1.7 0.5 2.6 1.1 2.1" stroke-linejoin="round"/>
<path d="M89.2 928.7V1702.5H863.4M75.6 1681.9H89.2M75.6 1590.2H89.2M75.6 1498.5H89.2M75.6 1406.8H89.2M75.6 1315.1H89.2M75.6 1223.4H89.2M75.6 1131.7H89.2M75.6 1040H89.2M109.2 1702.5V1716.1M198.4 1702.5V1716.1M287.6 1702.5V1716.1M376.8 1702.5V1716.1M466 1702.5V1716.1M555.2 1702.5V1716.1M644.4 1702.5V1716.1M733.6 1702.5V1716.1M822.8 1702.5V1716.1" stroke="#000" stroke-width="2" fill="none" stroke-linecap="butt" stroke-linejoin="miter"/>
<g font-family='"Liberation Sans", Arial, Helvetica, sans-serif' font-size="32.7" text-anchor="middle" fill="#000" stroke="#000" stroke-width="0.75" stroke-linejoin="round"><text x="109.2" y="1747.9">0</text><text x="198.4" y="1747.9">.05</text><text x="287.6" y="1747.9">.1</text><text x="376.8" y="1747.9">.15</text><text x="466" y="1747.9">.2</text><text x="555.2" y="1747.9">.25</text><text x="644.4" y="1747.9">.3</text><text x="733.6" y="1747.9">.35</text><text x="822.8" y="1747.9">.4</text><text x="475.5" y="1783.8">P-tau217</text><text transform="translate(62 1681.9) rotate(-90)">0.5</text><text transform="translate(62 1590.2) rotate(-90)">1.0</text><text transform="translate(62 1498.5) rotate(-90)">2.0</text><text transform="translate(62 1406.8) rotate(-90)">4.0</text><text transform="translate(62 1315.1) rotate(-90)">8.0</text><text transform="translate(62 1223.4) rotate(-90)">16.0</text><text transform="translate(62 1131.7) rotate(-90)">32.0</text><text transform="translate(62 1040) rotate(-90)">64.0</text><text transform="translate(25.8 1315.6) rotate(-90)">Adjusted HR</text></g>
</g>
<g id="panel4">
<path d="M1018.5 1682H1790.5M1018.5 1498.6H1790.5M1018.5 1406.9H1790.5M1018.5 1315.2H1790.5M1018.5 1223.5H1790.5M1018.5 1131.8H1790.5M1018.5 1040.1H1790.5" stroke="#e6edef" stroke-width="2.1" fill="none"/>
<path d="M1036.6 1682 L1036.6 1581 L1038.1 1577.4 L1039.6 1574 L1041.1 1570.6 L1042.6 1567.4 L1044.1 1564.2 L1045.6 1561.1 L1047.1 1558 L1048.6 1555.1 L1050.1 1552.2 L1051.6 1549.4 L1053.1 1546.6 L1054.6 1543.9 L1056.1 1541.2 L1057.6 1538.6 L1059.1 1536 L1060.6 1533.4 L1062.1 1530.9 L1063.6 1528.4 L1065.1 1525.9 L1066.6 1523.4 L1068.1 1520.9 L1069.6 1518.4 L1071.1 1515.9 L1072.6 1513.4 L1074.1 1510.9 L1075.6 1508.4 L1077.1 1505.9 L1078.6 1503.3 L1080.1 1500.8 L1081.6 1498.4 L1083.1 1495.9 L1084.6 1493.5 L1086.1 1491.1 L1087.6 1488.8 L1089.1 1486.5 L1090.6 1484.3 L1092.1 1482.1 L1093.6 1480.1 L1095.1 1478.1 L1096.6 1476.2 L1098.1 1474.3 L1099.6 1472.5 L1101.1 1470.8 L1102.6 1469 L1104.1 1467.3 L1105.6 1465.5 L1107.1 1463.7 L1108.6 1461.9 L1110.1 1459.9 L1111.6 1457.9 L1113.1 1455.8 L1114.6 1453.7 L1116.1 1451.4 L1117.6 1449 L1119.1 1446.5 L1120.6 1444 L1122.1 1441.3 L1123.6 1438.5 L1125.1 1435.6 L1126.6 1432.6 L1128.1 1429.5 L1129.6 1426.3 L1131.1 1423 L1132.6 1419.5 L1134.1 1415.9 L1135.6 1412.2 L1137.1 1408.4 L1138.6 1404.4 L1140.1 1400.4 L1141.6 1396.1 L1143.1 1391.8 L1144.6 1387.3 L1146.1 1382.6 L1147.6 1377.8 L1149.1 1372.9 L1150.6 1367.8 L1152.1 1362.6 L1153.6 1357.2 L1155.1 1351.7 L1156.6 1346.1 L1158.1 1340.4 L1159.6 1334.7 L1161.1 1328.8 L1162.6 1322.8 L1164.1 1316.8 L1165.6 1310.7 L1167.1 1304.6 L1168.6 1298.4 L1170.1 1292.2 L1171.6 1286 L1173.1 1279.7 L1174.6 1273.5 L1176.1 1267.2 L1177.6 1261 L1179.1 1254.8 L1180.6 1248.7 L1182.1 1242.7 L1183.6 1236.8 L1185.1 1231.1 L1186.6 1225.5 L1188.1 1220.2 L1189.6 1215.1 L1191.1 1210.1 L1192.6 1205.3 L1194.1 1200.5 L1195.6 1195.7 L1197.1 1190.9 L1198.6 1186.1 L1200.1 1181.1 L1201.6 1176.1 L1203.1 1171 L1204.6 1165.8 L1206.1 1160.6 L1207.6 1155.4 L1209.1 1150.1 L1210.6 1144.8 L1212.1 1139.5 L1213.6 1134.3 L1215.1 1129.1 L1216.6 1123.9 L1218.1 1118.8 L1219.6 1113.8 L1221.1 1108.8 L1222.6 1103.9 L1224.1 1099.1 L1225.6 1094.5 L1227.1 1089.9 L1228.6 1085.5 L1230.1 1081.3 L1231.6 1077.1 L1233.1 1073.2 L1234.6 1069.4 L1236.1 1065.8 L1237.6 1062.4 L1239.1 1059.1 L1240.6 1056.1 L1242.1 1053.3 L1243.6 1050.7 L1245.1 1048.3 L1246.6 1046.2 L1248.1 1044.3 L1249.6 1042.6 L1251.1 1041.1 L1252.6 1039.8 L1254.1 1038.6 L1255.6 1037.6 L1257.1 1036.7 L1258.6 1036 L1260.1 1035.4 L1261.6 1034.8 L1263.1 1034.4 L1264.6 1034 L1266.1 1033.7 L1267.6 1033.5 L1269.1 1033.3 L1270.6 1033.1 L1272.1 1032.9 L1273.6 1032.8 L1275.1 1032.6 L1276.6 1032.5 L1278.1 1032.3 L1279.6 1032.2 L1281.1 1032.1 L1282.6 1032 L1284.1 1031.9 L1285.6 1031.9 L1287.1 1031.8 L1288.6 1031.8 L1290.1 1031.7 L1291.6 1031.7 L1293.1 1031.8 L1294.6 1031.8 L1296.1 1031.9 L1297.6 1031.9 L1299.1 1031.9 L1300.6 1031.9 L1302.1 1031.8 L1303.6 1031.6 L1305.1 1031.3 L1306.6 1030.9 L1308.1 1030.5 L1309.6 1029.9 L1311.1 1029.3 L1312.6 1028.6 L1314.1 1027.8 L1315.6 1027.1 L1317.1 1026.3 L1318.6 1025.5 L1320.1 1024.6 L1321.6 1023.8 L1323.1 1023.1 L1324.6 1022.3 L1326.1 1021.6 L1327.6 1021 L1329.1 1020.4 L1330.6 1019.9 L1332.1 1019.4 L1333.6 1019.1 L1335.1 1018.9 L1336.6 1018.7 L1338.1 1018.7 L1339.6 1018.6 L1341.1 1018.7 L1342.6 1018.8 L1344.1 1018.9 L1345.6 1019.1 L1347.1 1019.3 L1348.6 1019.5 L1350.1 1019.7 L1351.6 1020 L1353.1 1020.2 L1354.6 1020.4 L1356.1 1020.5 L1357.6 1020.7 L1359.1 1020.9 L1360.6 1021.1 L1362.1 1021.3 L1363.6 1021.6 L1365.1 1021.8 L1366.6 1022.1 L1368.1 1022.3 L1369.6 1022.7 L1371.1 1023 L1372.6 1023.4 L1374.1 1023.8 L1375.6 1024.3 L1377.1 1024.8 L1378.6 1025.4 L1380.1 1026.2 L1381.6 1027 L1383.1 1028.1 L1384.6 1029.3 L1386.1 1030.8 L1387.6 1032.6 L1389.1 1034.5 L1390.6 1036.5 L1392.1 1038.7 L1393.6 1041 L1395.1 1043.4 L1396.6 1045.9 L1398.1 1048.4 L1399.6 1050.9 L1401.1 1053.5 L1402.6 1055.9 L1404.1 1058.4 L1405.6 1060.8 L1407.1 1063.3 L1408.6 1065.9 L1410.1 1068.6 L1411.6 1071.4 L1413.1 1074.3 L1414.6 1077.3 L1416.1 1080.4 L1417.6 1083.5 L1419.1 1086.6 L1420.6 1089.7 L1422.1 1092.8 L1423.6 1095.9 L1425.1 1098.9 L1426.6 1101.9 L1428.1 1104.9 L1429.6 1107.9 L1431.1 1110.9 L1432.6 1113.9 L1434.1 1116.9 L1435.6 1120 L1437.1 1123 L1438.6 1126.1 L1440.1 1129.2 L1441.6 1132.4 L1443.1 1135.7 L1444.6 1138.9 L1446.1 1142.3 L1447.6 1145.6 L1449.1 1149 L1450.6 1152.5 L1452.1 1155.9 L1453.6 1159.4 L1455.1 1162.8 L1456.6 1166.3 L1458.1 1169.8 L1459.6 1173.3 L1461.1 1176.8 L1462.6 1180.2 L1464.1 1183.6 L1465.6 1187 L1467.1 1190.4 L1468.6 1193.8 L1470.1 1197.2 L1471.6 1200.5 L1473.1 1203.8 L1474.6 1207.1 L1476.1 1210.4 L1477.6 1213.7 L1479.1 1216.9 L1480.6 1220.1 L1482.1 1223.3 L1483.6 1226.5 L1485.1 1229.7 L1486.6 1232.8 L1488.1 1236 L1489.6 1239.1 L1491.1 1242.2 L1492.6 1245.3 L1494.1 1248.4 L1495.6 1251.5 L1497.1 1254.5 L1498.6 1257.5 L1500.1 1260.6 L1501.6 1263.6 L1503.1 1266.6 L1504.6 1269.6 L1506.1 1272.6 L1507.6 1275.6 L1509.1 1278.5 L1510.6 1281.5 L1512.1 1284.5 L1513.6 1287.4 L1515.1 1290.3 L1516.6 1293.3 L1518.1 1296.2 L1519.6 1299.1 L1521.1 1302.1 L1522.6 1305 L1524.1 1307.9 L1525.6 1310.8 L1527.1 1313.7 L1528.6 1316.6 L1530.1 1319.5 L1531.6 1322.5 L1533.1 1325.4 L1534.6 1328.3 L1536.1 1331.2 L1537.6 1334.1 L1539.1 1337 L1540.6 1340 L1542.1 1342.9 L1543.6 1345.8 L1545.1 1348.7 L1546.6 1351.7 L1548.1 1354.6 L1549.6 1357.5 L1551.1 1360.3 L1552.6 1363.1 L1554.1 1365.8 L1555.6 1368.4 L1557.1 1370.9 L1558.6 1373.2 L1560.1 1375.4 L1561.6 1377.5 L1563.1 1379.3 L1564.6 1381.1 L1566.1 1382.7 L1567.6 1384.2 L1569.1 1385.5 L1570.6 1386.8 L1572.1 1387.9 L1573.6 1389 L1575.1 1390 L1576.6 1390.9 L1578.1 1391.8 L1579.6 1392.7 L1581.1 1393.6 L1582.6 1394.4 L1584.1 1395.3 L1585.6 1396.3 L1587.1 1397.2 L1588.6 1398.2 L1590.1 1399.3 L1591.6 1400.4 L1593.1 1401.6 L1594.6 1402.8 L1596.1 1404 L1597.6 1405.3 L1599.1 1406.6 L1600.6 1407.9 L1602.1 1409.3 L1603.6 1410.7 L1605.1 1412.1 L1606.6 1413.6 L1608.1 1415.1 L1609.6 1416.7 L1611.1 1418.2 L1612.6 1419.8 L1614.1 1421.4 L1615.6 1423 L1617.1 1424.7 L1618.6 1426.4 L1620.1 1428.1 L1621.6 1429.8 L1623.1 1431.5 L1624.6 1433.3 L1626.1 1435 L1627.6 1436.8 L1629.1 1438.6 L1630.6 1440.4 L1632.1 1442.2 L1633.6 1444 L1635.1 1445.9 L1636.6 1447.7 L1638.1 1449.6 L1639.6 1451.4 L1641.1 1453.3 L1642.6 1455.2 L1644.1 1457.1 L1645.6 1459 L1647.1 1460.9 L1648.6 1462.8 L1650.1 1464.7 L1651.6 1466.6 L1653.1 1468.5 L1654.6 1470.5 L1656.1 1472.4 L1657.6 1474.4 L1659.1 1476.3 L1660.6 1478.3 L1662.1 1480.2 L1663.6 1482.2 L1665.1 1484.2 L1666.6 1486.1 L1668.1 1488.1 L1669.6 1490.1 L1671.1 1492.1 L1672.6 1494 L1674.1 1496 L1675.6 1498 L1677.1 1500 L1678.6 1501.9 L1680.1 1503.9 L1681.6 1505.9 L1683.1 1507.9 L1684.6 1509.9 L1686.1 1511.8 L1687.6 1513.8 L1689.1 1515.8 L1690.6 1517.8 L1692.1 1519.8 L1693.6 1521.7 L1695.1 1523.7 L1696.6 1525.7 L1698.1 1527.7 L1699.6 1529.7 L1701.1 1531.6 L1702.6 1533.6 L1704.1 1535.6 L1705.6 1537.6 L1707.1 1539.6 L1708.6 1541.5 L1710.1 1543.5 L1711.6 1545.5 L1713.1 1547.5 L1714.6 1549.5 L1716.1 1551.5 L1717.6 1553.5 L1719.1 1555.5 L1720.6 1557.4 L1722.1 1559.4 L1723.6 1561.4 L1725.1 1563.4 L1726.6 1565.4 L1728.1 1567.4 L1729.6 1569.4 L1731.1 1571.4 L1732.6 1573.4 L1734.1 1575.4 L1735.6 1577.4 L1737.1 1579.4 L1738.6 1581.4 L1740.1 1583.4 L1741.6 1585.4 L1743.1 1587.4 L1744.6 1589.5 L1746.1 1591.5 L1747.6 1593.5 L1749.1 1595.5 L1750.6 1597.5 L1752.1 1599.6 L1753.6 1601.6 L1755.1 1603.6 L1756.6 1605.7 L1758.1 1607.7 L1759.6 1609.7 L1761.1 1611.8 L1762.6 1613.8 L1764.1 1615.8 L1765.6 1617.9 L1767.1 1619.9 L1768.6 1622 L1768.6 1682Z" fill="rgba(120,210,135,0.2)" stroke="rgba(95,145,110,0.28)" stroke-width="2" stroke-linejoin="round"/>
<path d="M1016 1590.3H1790.5" stroke="#b00a30" stroke-width="2.7" fill="none"/>
<path d="M1037 1590.3 L1039 1589.9 L1041 1589.5 L1043 1589.1 L1045 1588.6 L1047 1588.2 L1049 1587.7 L1051 1587.1 L1053 1586.6 L1055 1586 L1057 1585.4 L1059 1584.8 L1061 1584.2 L1063 1583.5 L1065 1582.9 L1067 1582.2 L1069 1581.5 L1071 1580.8 L1073 1580.1 L1075 1579.3 L1077 1578.6 L1079 1577.8 L1081 1577.1 L1083 1576.3 L1085 1575.5 L1087 1574.7 L1089 1573.9 L1091 1573.1 L1093 1572.3 L1095 1571.5 L1097 1570.7 L1099 1569.8 L1101 1569 L1103 1568.2 L1105 1567.4 L1107 1566.5 L1109 1565.7 L1111 1564.9 L1113 1564 L1115 1563.2 L1117 1562.3 L1119 1561.5 L1121 1560.6 L1123 1559.8 L1125 1558.9 L1127 1558.1 L1128.9 1557.2 L1130.9 1556.4 L1132.9 1555.5 L1134.9 1554.6 L1136.9 1553.8 L1138.9 1552.9 L1140.9 1552 L1142.9 1551.2 L1144.9 1550.3 L1146.9 1549.4 L1148.9 1548.5 L1150.9 1547.7 L1152.9 1546.8 L1154.9 1545.9 L1156.9 1545 L1158.9 1544.2 L1160.9 1543.3 L1162.9 1542.4 L1164.9 1541.5 L1166.9 1540.6 L1168.9 1539.7 L1170.9 1538.9 L1172.9 1538 L1174.9 1537.1 L1176.9 1536.2 L1178.9 1535.3 L1180.9 1534.4 L1182.9 1533.5 L1184.9 1532.7 L1186.9 1531.8 L1188.9 1530.9 L1190.9 1530 L1192.9 1529.1 L1194.9 1528.2 L1196.9 1527.3 L1198.9 1526.4 L1200.9 1525.6 L1202.9 1524.7 L1204.9 1523.8 L1206.9 1522.9 L1208.9 1522 L1210.9 1521.1 L1212.9 1520.3 L1214.9 1519.4 L1216.9 1518.5 L1218.9 1517.6 L1220.9 1516.7 L1222.9 1515.9 L1224.9 1515 L1226.9 1514.1 L1228.9 1513.3 L1230.9 1512.4 L1232.9 1511.5 L1234.9 1510.7 L1236.9 1509.8 L1238.9 1509 L1240.9 1508.1 L1242.9 1507.3 L1244.9 1506.4 L1246.9 1505.6 L1248.9 1504.8 L1250.9 1503.9 L1252.9 1503.1 L1254.9 1502.3 L1256.9 1501.5 L1258.9 1500.7 L1260.9 1499.9 L1262.9 1499.1 L1264.9 1498.3 L1266.9 1497.5 L1268.9 1496.7 L1270.9 1495.9 L1272.9 1495.1 L1274.9 1494.4 L1276.9 1493.6 L1278.9 1492.8 L1280.9 1492.1 L1282.9 1491.3 L1284.9 1490.6 L1286.9 1489.9 L1288.9 1489.1 L1290.9 1488.4 L1292.9 1487.7 L1294.9 1487 L1296.9 1486.3 L1298.9 1485.6 L1300.9 1484.9 L1302.9 1484.3 L1304.9 1483.6 L1306.9 1482.9 L1308.9 1482.3 L1310.9 1481.6 L1312.8 1481 L1314.8 1480.4 L1316.8 1479.8 L1318.8 1479.2 L1320.8 1478.6 L1322.8 1478 L1324.8 1477.4 L1326.8 1476.8 L1328.8 1476.3 L1330.8 1475.7 L1332.8 1475.1 L1334.8 1474.6 L1336.8 1474.1 L1338.8 1473.6 L1340.8 1473 L1342.8 1472.5 L1344.8 1472 L1346.8 1471.5 L1348.8 1471.1 L1350.8 1470.6 L1352.8 1470.1 L1354.8 1469.7 L1356.8 1469.2 L1358.8 1468.8 L1360.8 1468.3 L1362.8 1467.9 L1364.8 1467.5 L1366.8 1467.1 L1368.8 1466.7 L1370.8 1466.3 L1372.8 1465.9 L1374.8 1465.5 L1376.8 1465.1 L1378.8 1464.8 L1380.8 1464.4 L1382.8 1464.1 L1384.8 1463.7 L1386.8 1463.4 L1388.8 1463.1 L1390.8 1462.7 L1392.8 1462.4 L1394.8 1462.1 L1396.8 1461.8 L1398.8 1461.5 L1400.8 1461.2 L1402.8 1460.9 L1404.8 1460.7 L1406.8 1460.4 L1408.8 1460.1 L1410.8 1459.9 L1412.8 1459.6 L1414.8 1459.4 L1416.8 1459.2 L1418.8 1458.9 L1420.8 1458.7 L1422.8 1458.5 L1424.8 1458.3 L1426.8 1458.1 L1428.8 1457.9 L1430.8 1457.7 L1432.8 1457.5 L1434.8 1457.4 L1436.8 1457.2 L1438.8 1457 L1440.8 1456.9 L1442.8 1456.7 L1444.8 1456.6 L1446.8 1456.4 L1448.8 1456.3 L1450.8 1456.2 L1452.8 1456 L1454.8 1455.9 L1456.8 1455.8 L1458.8 1455.7 L1460.8 1455.6 L1462.8 1455.5 L1464.8 1455.4 L1466.8 1455.4 L1468.8 1455.3 L1470.8 1455.2 L1472.8 1455.1 L1474.8 1455.1 L1476.8 1455 L1478.8 1455 L1480.8 1454.9 L1482.8 1454.9 L1484.8 1454.8 L1486.8 1454.8 L1488.8 1454.8 L1490.8 1454.7 L1492.8 1454.7 L1494.7 1454.7 L1496.7 1454.7 L1498.7 1454.7 L1500.7 1454.7 L1502.7 1454.7 L1504.7 1454.7 L1506.7 1454.7 L1508.7 1454.7 L1510.7 1454.7 L1512.7 1454.7 L1514.7 1454.7 L1516.7 1454.7 L1518.7 1454.8 L1520.7 1454.8 L1522.7 1454.8 L1524.7 1454.9 L1526.7 1454.9 L1528.7 1454.9 L1530.7 1455 L1532.7 1455 L1534.7 1455.1 L1536.7 1455.1 L1538.7 1455.2 L1540.7 1455.2 L1542.7 1455.3 L1544.7 1455.3 L1546.7 1455.4 L1548.7 1455.5 L1550.7 1455.5 L1552.7 1455.6 L1554.7 1455.6 L1556.7 1455.7 L1558.7 1455.8 L1560.7 1455.9 L1562.7 1455.9 L1564.7 1456 L1566.7 1456.1 L1568.7 1456.2 L1570.7 1456.2 L1572.7 1456.3 L1574.7 1456.4 L1576.7 1456.5 L1578.7 1456.5 L1580.7 1456.6 L1582.7 1456.7 L1584.7 1456.8 L1586.7 1456.9 L1588.7 1456.9 L1590.7 1457 L1592.7 1457.1 L1594.7 1457.2 L1596.7 1457.3 L1598.7 1457.4 L1600.7 1457.4 L1602.7 1457.5 L1604.7 1457.6 L1606.7 1457.7 L1608.7 1457.8 L1610.7 1457.8 L1612.7 1457.9 L1614.7 1458 L1616.7 1458.1 L1618.7 1458.2 L1620.7 1458.2 L1622.7 1458.3 L1624.7 1458.4 L1626.7 1458.5 L1628.7 1458.5 L1630.7 1458.6 L1632.7 1458.7 L1634.7 1458.8 L1636.7 1458.8 L1638.7 1458.9 L1640.7 1459 L1642.7 1459 L1644.7 1459.1 L1646.7 1459.2 L1648.7 1459.3 L1650.7 1459.3 L1652.7 1459.4 L1654.7 1459.5 L1656.7 1459.5 L1658.7 1459.6 L1660.7 1459.7 L1662.7 1459.7 L1664.7 1459.8 L1666.7 1459.8 L1668.7 1459.9 L1670.7 1460 L1672.7 1460 L1674.7 1460.1 L1676.7 1460.2 L1678.6 1460.2 L1680.6 1460.3 L1682.6 1460.3 L1684.6 1460.4 L1686.6 1460.5 L1688.6 1460.5 L1690.6 1460.6 L1692.6 1460.6 L1694.6 1460.7 L1696.6 1460.7 L1698.6 1460.8 L1700.6 1460.8 L1702.6 1460.9 L1704.6 1460.9 L1706.6 1461 L1708.6 1461 L1710.6 1461.1 L1712.6 1461.1 L1714.6 1461.2 L1716.6 1461.2 L1718.6 1461.3 L1720.6 1461.3 L1722.6 1461.4 L1724.6 1461.4 L1726.6 1461.5 L1728.6 1461.5 L1730.6 1461.5 L1732.6 1461.6 L1734.6 1461.6 L1736.6 1461.7 L1738.6 1461.7 L1740.6 1461.7 L1742.6 1461.8 L1744.6 1461.8 L1746.6 1461.9 L1748.6 1461.9 L1750.6 1461.9 L1752.6 1462 L1754.6 1462 L1756.6 1462 L1758.6 1462.1 L1760.6 1462.1 L1762.6 1462.1 L1764.6 1462.1 L1766.6 1462.2 L1768.6 1462.2 L1768.6 1620.6 L1766.6 1620.5 L1764.6 1620.4 L1762.6 1620.3 L1760.6 1620.2 L1758.6 1620.2 L1756.6 1620.1 L1754.6 1620 L1752.6 1619.9 L1750.6 1619.8 L1748.6 1619.7 L1746.6 1619.7 L1744.6 1619.6 L1742.6 1619.5 L1740.6 1619.4 L1738.6 1619.3 L1736.6 1619.3 L1734.6 1619.2 L1732.6 1619.1 L1730.6 1619 L1728.6 1619 L1726.6 1618.9 L1724.6 1618.8 L1722.6 1618.8 L1720.6 1618.7 L1718.6 1618.6 L1716.6 1618.6 L1714.6 1618.5 L1712.6 1618.4 L1710.6 1618.4 L1708.6 1618.3 L1706.6 1618.2 L1704.6 1618.2 L1702.6 1618.1 L1700.6 1618 L1698.6 1618 L1696.6 1617.9 L1694.6 1617.9 L1692.6 1617.8 L1690.6 1617.8 L1688.6 1617.7 L1686.6 1617.6 L1684.6 1617.6 L1682.6 1617.5 L1680.6 1617.5 L1678.6 1617.4 L1676.7 1617.4 L1674.7 1617.4 L1672.7 1617.3 L1670.7 1617.3 L1668.7 1617.2 L1666.7 1617.2 L1664.7 1617.1 L1662.7 1617.1 L1660.7 1617.1 L1658.7 1617 L1656.7 1617 L1654.7 1617 L1652.7 1616.9 L1650.7 1616.9 L1648.7 1616.9 L1646.7 1616.8 L1644.7 1616.8 L1642.7 1616.8 L1640.7 1616.8 L1638.7 1616.7 L1636.7 1616.7 L1634.7 1616.7 L1632.7 1616.7 L1630.7 1616.6 L1628.7 1616.6 L1626.7 1616.6 L1624.7 1616.6 L1622.7 1616.6 L1620.7 1616.6 L1618.7 1616.6 L1616.7 1616.6 L1614.7 1616.5 L1612.7 1616.5 L1610.7 1616.5 L1608.7 1616.5 L1606.7 1616.5 L1604.7 1616.5 L1602.7 1616.5 L1600.7 1616.5 L1598.7 1616.5 L1596.7 1616.5 L1594.7 1616.5 L1592.7 1616.6 L1590.7 1616.6 L1588.7 1616.6 L1586.7 1616.6 L1584.7 1616.6 L1582.7 1616.6 L1580.7 1616.6 L1578.7 1616.6 L1576.7 1616.7 L1574.7 1616.7 L1572.7 1616.7 L1570.7 1616.7 L1568.7 1616.7 L1566.7 1616.7 L1564.7 1616.8 L1562.7 1616.8 L1560.7 1616.8 L1558.7 1616.8 L1556.7 1616.9 L1554.7 1616.9 L1552.7 1616.9 L1550.7 1616.9 L1548.7 1617 L1546.7 1617 L1544.7 1617 L1542.7 1617 L1540.7 1617.1 L1538.7 1617.1 L1536.7 1617.1 L1534.7 1617.2 L1532.7 1617.2 L1530.7 1617.2 L1528.7 1617.2 L1526.7 1617.3 L1524.7 1617.3 L1522.7 1617.3 L1520.7 1617.3 L1518.7 1617.4 L1516.7 1617.4 L1514.7 1617.4 L1512.7 1617.5 L1510.7 1617.5 L1508.7 1617.5 L1506.7 1617.5 L1504.7 1617.6 L1502.7 1617.6 L1500.7 1617.6 L1498.7 1617.6 L1496.7 1617.7 L1494.7 1617.7 L1492.8 1617.7 L1490.8 1617.7 L1488.8 1617.7 L1486.8 1617.8 L1484.8 1617.8 L1482.8 1617.8 L1480.8 1617.8 L1478.8 1617.8 L1476.8 1617.8 L1474.8 1617.9 L1472.8 1617.9 L1470.8 1617.9 L1468.8 1617.9 L1466.8 1617.9 L1464.8 1617.9 L1462.8 1617.9 L1460.8 1617.9 L1458.8 1617.9 L1456.8 1617.9 L1454.8 1617.9 L1452.8 1617.9 L1450.8 1617.9 L1448.8 1617.9 L1446.8 1617.9 L1444.8 1617.9 L1442.8 1617.9 L1440.8 1617.9 L1438.8 1617.9 L1436.8 1617.9 L1434.8 1617.9 L1432.8 1617.9 L1430.8 1617.8 L1428.8 1617.8 L1426.8 1617.8 L1424.8 1617.8 L1422.8 1617.8 L1420.8 1617.7 L1418.8 1617.7 L1416.8 1617.7 L1414.8 1617.7 L1412.8 1617.6 L1410.8 1617.6 L1408.8 1617.6 L1406.8 1617.5 L1404.8 1617.5 L1402.8 1617.5 L1400.8 1617.4 L1398.8 1617.4 L1396.8 1617.3 L1394.8 1617.3 L1392.8 1617.3 L1390.8 1617.2 L1388.8 1617.2 L1386.8 1617.1 L1384.8 1617.1 L1382.8 1617 L1380.8 1617 L1378.8 1616.9 L1376.8 1616.9 L1374.8 1616.8 L1372.8 1616.8 L1370.8 1616.7 L1368.8 1616.6 L1366.8 1616.6 L1364.8 1616.5 L1362.8 1616.4 L1360.8 1616.4 L1358.8 1616.3 L1356.8 1616.2 L1354.8 1616.2 L1352.8 1616.1 L1350.8 1616 L1348.8 1616 L1346.8 1615.9 L1344.8 1615.8 L1342.8 1615.7 L1340.8 1615.6 L1338.8 1615.6 L1336.8 1615.5 L1334.8 1615.4 L1332.8 1615.3 L1330.8 1615.2 L1328.8 1615.1 L1326.8 1615.1 L1324.8 1615 L1322.8 1614.9 L1320.8 1614.8 L1318.8 1614.7 L1316.8 1614.6 L1314.8 1614.5 L1312.8 1614.4 L1310.9 1614.3 L1308.9 1614.2 L1306.9 1614.1 L1304.9 1614 L1302.9 1613.9 L1300.9 1613.8 L1298.9 1613.7 L1296.9 1613.6 L1294.9 1613.5 L1292.9 1613.3 L1290.9 1613.2 L1288.9 1613.1 L1286.9 1613 L1284.9 1612.9 L1282.9 1612.8 L1280.9 1612.6 L1278.9 1612.5 L1276.9 1612.4 L1274.9 1612.3 L1272.9 1612.1 L1270.9 1612 L1268.9 1611.9 L1266.9 1611.8 L1264.9 1611.6 L1262.9 1611.5 L1260.9 1611.3 L1258.9 1611.2 L1256.9 1611.1 L1254.9 1610.9 L1252.9 1610.8 L1250.9 1610.6 L1248.9 1610.5 L1246.9 1610.3 L1244.9 1610.2 L1242.9 1610 L1240.9 1609.9 L1238.9 1609.7 L1236.9 1609.6 L1234.9 1609.4 L1232.9 1609.2 L1230.9 1609.1 L1228.9 1608.9 L1226.9 1608.7 L1224.9 1608.6 L1222.9 1608.4 L1220.9 1608.2 L1218.9 1608 L1216.9 1607.8 L1214.9 1607.7 L1212.9 1607.5 L1210.9 1607.3 L1208.9 1607.1 L1206.9 1606.9 L1204.9 1606.7 L1202.9 1606.5 L1200.9 1606.3 L1198.9 1606.1 L1196.9 1605.9 L1194.9 1605.7 L1192.9 1605.5 L1190.9 1605.3 L1188.9 1605.1 L1186.9 1604.9 L1184.9 1604.7 L1182.9 1604.4 L1180.9 1604.2 L1178.9 1604 L1176.9 1603.8 L1174.9 1603.5 L1172.9 1603.3 L1170.9 1603.1 L1168.9 1602.9 L1166.9 1602.6 L1164.9 1602.4 L1162.9 1602.2 L1160.9 1601.9 L1158.9 1601.7 L1156.9 1601.4 L1154.9 1601.2 L1152.9 1601 L1150.9 1600.7 L1148.9 1600.5 L1146.9 1600.2 L1144.9 1600 L1142.9 1599.7 L1140.9 1599.5 L1138.9 1599.2 L1136.9 1599 L1134.9 1598.7 L1132.9 1598.5 L1130.9 1598.2 L1128.9 1598 L1127 1597.7 L1125 1597.5 L1123 1597.2 L1121 1597 L1119 1596.7 L1117 1596.5 L1115 1596.2 L1113 1596 L1111 1595.7 L1109 1595.5 L1107 1595.2 L1105 1595 L1103 1594.7 L1101 1594.5 L1099 1594.2 L1097 1594 L1095 1593.7 L1093 1593.5 L1091 1593.2 L1089 1593 L1087 1592.7 L1085 1592.5 L1083 1592.3 L1081 1592 L1079 1591.8 L1077 1591.6 L1075 1591.4 L1073 1591.2 L1071 1591.1 L1069 1590.9 L1067 1590.7 L1065 1590.6 L1063 1590.4 L1061 1590.3 L1059 1590.2 L1057 1590.1 L1055 1590.1 L1053 1590 L1051 1590 L1049 1590 L1047 1590 L1045 1590 L1043 1590 L1041 1590.1 L1039 1590.2 L1037 1590.3Z" fill="rgba(125,135,130,0.2)" stroke="rgba(112,116,114,0.40)" stroke-width="2.2" stroke-linejoin="round"/>
<g fill="#0a0a0a"><rect x="1077.1" y="941" width="3.9" height="18.4" fill-opacity="0.32"/><rect x="1077.1" y="941" width="1.4" height="18.4" fill-opacity="0.73"/><rect x="1078.5" y="941" width="1.4" height="18.4" fill-opacity="0.73"/><rect x="1079.6" y="941" width="1.4" height="18.4" fill-opacity="0.73"/><rect x="1106.8" y="941" width="3.8" height="18.4" fill-opacity="0.53"/><rect x="1106.8" y="941" width="1.4" height="18.4" fill-opacity="0.83"/><rect x="1107.8" y="941" width="1.4" height="18.4" fill-opacity="0.83"/><rect x="1109.2" y="941" width="1.4" height="18.4" fill-opacity="0.83"/><rect x="1118" y="941" width="1.6" height="18.4" fill-opacity="0.76"/><rect x="1127.4" y="941" width="1.6" height="18.4" fill-opacity="0.71"/><rect x="1143.7" y="941" width="4.8" height="18.4" fill-opacity="0.63"/><rect x="1143.7" y="941" width="1.4" height="18.4" fill-opacity="0.88"/><rect x="1145.3" y="941" width="1.4" height="18.4" fill-opacity="0.88"/><rect x="1147.1" y="941" width="1.4" height="18.4" fill-opacity="0.88"/><rect x="1160.2" y="941" width="3.3" height="18.4" fill-opacity="0.92"/><rect x="1160.2" y="941" width="1.4" height="18.4" fill-opacity="0.95"/><rect x="1162.1" y="941" width="1.4" height="18.4" fill-opacity="0.95"/><rect x="1167.5" y="941" width="4.3" height="18.4" fill-opacity="0.32"/><rect x="1167.5" y="941" width="1.4" height="18.4" fill-opacity="0.73"/><rect x="1168.7" y="941" width="1.4" height="18.4" fill-opacity="0.73"/><rect x="1170.4" y="941" width="1.4" height="18.4" fill-opacity="0.73"/><rect x="1174.4" y="941" width="1.7" height="18.4" fill-opacity="0.76"/><rect x="1185.1" y="941" width="1.6" height="18.4" fill-opacity="0.76"/><rect x="1189.2" y="941" width="2.2" height="18.4" fill-opacity="0.96"/><rect x="1194.2" y="941" width="3.4" height="18.4" fill-opacity="0.63"/><rect x="1194.2" y="941" width="1.4" height="18.4" fill-opacity="0.88"/><rect x="1196.2" y="941" width="1.4" height="18.4" fill-opacity="0.88"/><rect x="1209.4" y="941" width="1.5" height="18.4" fill-opacity="0.76"/><rect x="1213.8" y="941" width="2.2" height="18.4" fill-opacity="0.91"/><rect x="1217.9" y="941" width="4.3" height="18.4" fill-opacity="0.92"/><rect x="1217.9" y="941" width="1.4" height="18.4" fill-opacity="0.95"/><rect x="1219.6" y="941" width="1.4" height="18.4" fill-opacity="0.95"/><rect x="1220.8" y="941" width="1.4" height="18.4" fill-opacity="0.95"/><rect x="1223.9" y="941" width="1.6" height="18.4" fill-opacity="0.76"/><rect x="1228.5" y="941" width="2.4" height="18.4" fill-opacity="0.91"/><rect x="1234" y="941" width="2.4" height="18.4" fill-opacity="0.97"/><rect x="1245" y="941" width="5.6" height="18.4" fill-opacity="0.63"/><rect x="1245" y="941" width="1.4" height="18.4" fill-opacity="0.88"/><rect x="1247.1" y="941" width="1.4" height="18.4" fill-opacity="0.88"/><rect x="1249.2" y="941" width="1.4" height="18.4" fill-opacity="0.88"/><rect x="1256.3" y="941" width="1.8" height="18.4" fill-opacity="0.71"/><rect x="1262.4" y="941" width="1.7" height="18.4" fill-opacity="0.76"/><rect x="1266.1" y="941" width="6.4" height="18.4" fill-opacity="0.42"/><rect x="1266.1" y="941" width="1.4" height="18.4" fill-opacity="0.78"/><rect x="1267.9" y="941" width="1.4" height="18.4" fill-opacity="0.78"/><rect x="1269.3" y="941" width="1.4" height="18.4" fill-opacity="0.78"/><rect x="1271.1" y="941" width="1.4" height="18.4" fill-opacity="0.78"/><rect x="1278.2" y="941" width="8.6" height="18.4" fill-opacity="0.73"/><rect x="1278.2" y="941" width="1.4" height="18.4" fill-opacity="0.93"/><rect x="1279.8" y="941" width="1.4" height="18.4" fill-opacity="0.93"/><rect x="1281.9" y="941" width="1.4" height="18.4" fill-opacity="0.93"/><rect x="1283.5" y="941" width="1.4" height="18.4" fill-opacity="0.93"/><rect x="1285.4" y="941" width="1.4" height="18.4" fill-opacity="0.93"/><rect x="1290.4" y="941" width="2.1" height="18.4" fill-opacity="0.96"/><rect x="1302.5" y="941" width="1.8" height="18.4" fill-opacity="0.76"/><rect x="1305.7" y="941" width="7.3" height="18.4" fill-opacity="0.63"/><rect x="1305.7" y="941" width="1.4" height="18.4" fill-opacity="0.88"/><rect x="1307.5" y="941" width="1.4" height="18.4" fill-opacity="0.88"/><rect x="1309.9" y="941" width="1.4" height="18.4" fill-opacity="0.88"/><rect x="1311.6" y="941" width="1.4" height="18.4" fill-opacity="0.88"/><rect x="1315" y="941" width="8.8" height="18.4" fill-opacity="0.53"/><rect x="1315" y="941" width="1.4" height="18.4" fill-opacity="0.83"/><rect x="1317" y="941" width="1.4" height="18.4" fill-opacity="0.83"/><rect x="1318.6" y="941" width="1.4" height="18.4" fill-opacity="0.83"/><rect x="1320.8" y="941" width="1.4" height="18.4" fill-opacity="0.83"/><rect x="1322.4" y="941" width="1.4" height="18.4" fill-opacity="0.83"/><rect x="1326.6" y="941" width="1.8" height="18.4" fill-opacity="0.86"/><rect x="1333.5" y="941" width="2.4" height="18.4" fill-opacity="0.91"/><rect x="1340.4" y="941" width="1.7" height="18.4" fill-opacity="0.76"/><rect x="1346.2" y="941" width="18.4" height="18.4" fill-opacity="0.53"/><rect x="1346.2" y="941" width="1.4" height="18.4" fill-opacity="0.83"/><rect x="1348.2" y="941" width="1.4" height="18.4" fill-opacity="0.83"/><rect x="1350.7" y="941" width="1.4" height="18.4" fill-opacity="0.83"/><rect x="1352.6" y="941" width="1.4" height="18.4" fill-opacity="0.83"/><rect x="1354.5" y="941" width="1.4" height="18.4" fill-opacity="0.83"/><rect x="1356.9" y="941" width="1.4" height="18.4" fill-opacity="0.83"/><rect x="1358.8" y="941" width="1.4" height="18.4" fill-opacity="0.83"/><rect x="1361.3" y="941" width="1.4" height="18.4" fill-opacity="0.83"/><rect x="1363.2" y="941" width="1.4" height="18.4" fill-opacity="0.83"/><rect x="1366.8" y="941" width="4.7" height="18.4" fill-opacity="0.63"/><rect x="1366.8" y="941" width="1.4" height="18.4" fill-opacity="0.88"/><rect x="1368.6" y="941" width="1.4" height="18.4" fill-opacity="0.88"/><rect x="1370.1" y="941" width="1.4" height="18.4" fill-opacity="0.88"/><rect x="1374.8" y="941" width="1.8" height="18.4" fill-opacity="0.76"/><rect x="1384.1" y="941" width="5.5" height="18.4" fill-opacity="0.21"/><rect x="1384.1" y="941" width="1.4" height="18.4" fill-opacity="0.68"/><rect x="1386.1" y="941" width="1.4" height="18.4" fill-opacity="0.68"/><rect x="1388.2" y="941" width="1.4" height="18.4" fill-opacity="0.68"/><rect x="1389.6" y="941" width="21.5" height="18.4" fill-opacity="0.88"/><rect x="1389.6" y="941" width="1.4" height="18.4" fill-opacity="0.95"/><rect x="1392.1" y="941" width="1.4" height="18.4" fill-opacity="0.95"/><rect x="1394.1" y="941" width="1.4" height="18.4" fill-opacity="0.95"/><rect x="1396.1" y="941" width="1.4" height="18.4" fill-opacity="0.95"/><rect x="1398.7" y="941" width="1.4" height="18.4" fill-opacity="0.95"/><rect x="1400.6" y="941" width="1.4" height="18.4" fill-opacity="0.95"/><rect x="1403.2" y="941" width="1.4" height="18.4" fill-opacity="0.95"/><rect x="1405.2" y="941" width="1.4" height="18.4" fill-opacity="0.95"/><rect x="1407.2" y="941" width="1.4" height="18.4" fill-opacity="0.95"/><rect x="1409.7" y="941" width="1.4" height="18.4" fill-opacity="0.95"/><rect x="1415.8" y="941" width="1.7" height="18.4" fill-opacity="0.81"/><rect x="1420.2" y="941" width="6.4" height="18.4" fill-opacity="0.63"/><rect x="1420.2" y="941" width="1.4" height="18.4" fill-opacity="0.88"/><rect x="1422" y="941" width="1.4" height="18.4" fill-opacity="0.88"/><rect x="1423.4" y="941" width="1.4" height="18.4" fill-opacity="0.88"/><rect x="1425.2" y="941" width="1.4" height="18.4" fill-opacity="0.88"/><rect x="1427.5" y="941" width="12" height="18.4" fill-opacity="0.73"/><rect x="1427.5" y="941" width="1.4" height="18.4" fill-opacity="0.93"/><rect x="1429.4" y="941" width="1.4" height="18.4" fill-opacity="0.93"/><rect x="1431.9" y="941" width="1.4" height="18.4" fill-opacity="0.93"/><rect x="1433.7" y="941" width="1.4" height="18.4" fill-opacity="0.93"/><rect x="1436.2" y="941" width="1.4" height="18.4" fill-opacity="0.93"/><rect x="1438.1" y="941" width="1.4" height="18.4" fill-opacity="0.93"/><rect x="1446.1" y="941" width="1.8" height="18.4" fill-opacity="0.96"/><rect x="1450.4" y="941" width="9.8" height="18.4" fill-opacity="0.84"/><rect x="1450.4" y="941" width="1.4" height="18.4" fill-opacity="0.95"/><rect x="1452.7" y="941" width="1.4" height="18.4" fill-opacity="0.95"/><rect x="1454.6" y="941" width="1.4" height="18.4" fill-opacity="0.95"/><rect x="1456.5" y="941" width="1.4" height="18.4" fill-opacity="0.95"/><rect x="1458.8" y="941" width="1.4" height="18.4" fill-opacity="0.95"/><rect x="1461.9" y="941" width="15.5" height="18.4" fill-opacity="0.42"/><rect x="1461.9" y="941" width="1.4" height="18.4" fill-opacity="0.78"/><rect x="1463.8" y="941" width="1.4" height="18.4" fill-opacity="0.78"/><rect x="1466.2" y="941" width="1.4" height="18.4" fill-opacity="0.78"/><rect x="1467.9" y="941" width="1.4" height="18.4" fill-opacity="0.78"/><rect x="1469.7" y="941" width="1.4" height="18.4" fill-opacity="0.78"/><rect x="1472.1" y="941" width="1.4" height="18.4" fill-opacity="0.78"/><rect x="1473.9" y="941" width="1.4" height="18.4" fill-opacity="0.78"/><rect x="1476" y="941" width="1.4" height="18.4" fill-opacity="0.78"/><rect x="1486.3" y="941" width="1.6" height="18.4" fill-opacity="0.76"/><rect x="1492.4" y="941" width="3.4" height="18.4" fill-opacity="0.42"/><rect x="1492.4" y="941" width="1.4" height="18.4" fill-opacity="0.78"/><rect x="1494.4" y="941" width="1.4" height="18.4" fill-opacity="0.78"/><rect x="1503.1" y="941" width="1.8" height="18.4" fill-opacity="0.76"/><rect x="1508.9" y="941" width="5.5" height="18.4" fill-opacity="0.92"/><rect x="1508.9" y="941" width="1.4" height="18.4" fill-opacity="0.95"/><rect x="1511.2" y="941" width="1.4" height="18.4" fill-opacity="0.95"/><rect x="1513" y="941" width="1.4" height="18.4" fill-opacity="0.95"/><rect x="1520.8" y="941" width="4.3" height="18.4" fill-opacity="0.42"/><rect x="1520.8" y="941" width="1.4" height="18.4" fill-opacity="0.78"/><rect x="1522.1" y="941" width="1.4" height="18.4" fill-opacity="0.78"/><rect x="1523.7" y="941" width="1.4" height="18.4" fill-opacity="0.78"/><rect x="1529.9" y="941" width="18.1" height="18.4" fill-opacity="0.32"/><rect x="1529.9" y="941" width="1.4" height="18.4" fill-opacity="0.73"/><rect x="1532.1" y="941" width="1.4" height="18.4" fill-opacity="0.73"/><rect x="1534" y="941" width="1.4" height="18.4" fill-opacity="0.73"/><rect x="1536.4" y="941" width="1.4" height="18.4" fill-opacity="0.73"/><rect x="1538.2" y="941" width="1.4" height="18.4" fill-opacity="0.73"/><rect x="1540.1" y="941" width="1.4" height="18.4" fill-opacity="0.73"/><rect x="1542.5" y="941" width="1.4" height="18.4" fill-opacity="0.73"/><rect x="1544.4" y="941" width="1.4" height="18.4" fill-opacity="0.73"/><rect x="1546.6" y="941" width="1.4" height="18.4" fill-opacity="0.73"/><rect x="1558.5" y="941" width="2" height="18.4" fill-opacity="0.96"/><rect x="1564.7" y="941" width="8.8" height="18.4" fill-opacity="0.63"/><rect x="1564.7" y="941" width="1.4" height="18.4" fill-opacity="0.88"/><rect x="1566.5" y="941" width="1.4" height="18.4" fill-opacity="0.88"/><rect x="1568.2" y="941" width="1.4" height="18.4" fill-opacity="0.88"/><rect x="1570.4" y="941" width="1.4" height="18.4" fill-opacity="0.88"/><rect x="1572.1" y="941" width="1.4" height="18.4" fill-opacity="0.88"/><rect x="1578.7" y="941" width="1.9" height="18.4" fill-opacity="0.96"/><rect x="1581.9" y="941" width="5.2" height="18.4" fill-opacity="0.21"/><rect x="1581.9" y="941" width="1.4" height="18.4" fill-opacity="0.68"/><rect x="1583.7" y="941" width="1.4" height="18.4" fill-opacity="0.68"/><rect x="1585.7" y="941" width="1.4" height="18.4" fill-opacity="0.68"/><rect x="1590.3" y="941" width="1.5" height="18.4" fill-opacity="0.71"/><rect x="1594.1" y="941" width="1.6" height="18.4" fill-opacity="0.76"/><rect x="1600.3" y="941" width="1.6" height="18.4" fill-opacity="0.71"/><rect x="1607.8" y="941" width="2" height="18.4" fill-opacity="0.96"/><rect x="1611.9" y="941" width="3.3" height="18.4" fill-opacity="0.53"/><rect x="1611.9" y="941" width="1.4" height="18.4" fill-opacity="0.83"/><rect x="1613.8" y="941" width="1.4" height="18.4" fill-opacity="0.83"/><rect x="1618.5" y="941" width="2.2" height="18.4" fill-opacity="0.96"/><rect x="1623.1" y="941" width="3.8" height="18.4" fill-opacity="0.32"/><rect x="1623.1" y="941" width="1.4" height="18.4" fill-opacity="0.73"/><rect x="1624.1" y="941" width="1.4" height="18.4" fill-opacity="0.73"/><rect x="1625.5" y="941" width="1.4" height="18.4" fill-opacity="0.73"/><rect x="1629.5" y="941" width="1.8" height="18.4" fill-opacity="0.76"/><rect x="1639.8" y="941" width="4.3" height="18.4" fill-opacity="0.73"/><rect x="1639.8" y="941" width="1.4" height="18.4" fill-opacity="0.93"/><rect x="1641.5" y="941" width="1.4" height="18.4" fill-opacity="0.93"/><rect x="1642.7" y="941" width="1.4" height="18.4" fill-opacity="0.93"/><rect x="1646.5" y="941" width="2.4" height="18.4" fill-opacity="0.86"/><rect x="1653.2" y="941" width="4.7" height="18.4" fill-opacity="0.32"/><rect x="1653.2" y="941" width="1.4" height="18.4" fill-opacity="0.73"/><rect x="1655" y="941" width="1.4" height="18.4" fill-opacity="0.73"/><rect x="1656.5" y="941" width="1.4" height="18.4" fill-opacity="0.73"/><rect x="1661" y="941" width="1.8" height="18.4" fill-opacity="0.81"/><rect x="1667.3" y="941" width="3.7" height="18.4" fill-opacity="0.63"/><rect x="1667.3" y="941" width="1.4" height="18.4" fill-opacity="0.88"/><rect x="1668.5" y="941" width="1.4" height="18.4" fill-opacity="0.88"/><rect x="1669.6" y="941" width="1.4" height="18.4" fill-opacity="0.88"/><rect x="1678.4" y="941" width="1.8" height="18.4" fill-opacity="0.76"/><rect x="1704" y="941" width="1.6" height="18.4" fill-opacity="0.71"/><rect x="1713.5" y="941" width="1.8" height="18.4" fill-opacity="0.76"/><rect x="1732" y="941" width="1.6" height="18.4" fill-opacity="0.71"/><rect x="1737.4" y="941" width="1.6" height="18.4" fill-opacity="0.71"/><rect x="1763.1" y="941" width="1.8" height="18.4" fill-opacity="0.71"/><rect x="1771.5" y="941" width="3.5" height="18.4" fill-opacity="0.63"/><rect x="1771.5" y="941" width="1.4" height="18.4" fill-opacity="0.88"/><rect x="1772.4" y="941" width="1.4" height="18.4" fill-opacity="0.88"/><rect x="1773.6" y="941" width="1.4" height="18.4" fill-opacity="0.88"/><rect x="1783.1" y="941" width="3.6" height="18.4" fill-opacity="0.84"/><rect x="1783.1" y="941" width="1.4" height="18.4" fill-opacity="0.95"/><rect x="1784.3" y="941" width="1.4" height="18.4" fill-opacity="0.95"/><rect x="1785.3" y="941" width="1.4" height="18.4" fill-opacity="0.95"/></g>
<path d="M1036.3 1590.3 L1038.3 1589.9 L1040.3 1589.4 L1042.3 1589 L1044.3 1588.6 L1046.3 1588.1 L1048.3 1587.7 L1050.3 1587.3 L1052.3 1586.9 L1054.3 1586.5 L1056.3 1586.1 L1058.3 1585.7 L1060.3 1585.3 L1062.3 1584.9 L1064.3 1584.5 L1066.3 1584.1 L1068.3 1583.8 L1070.3 1583.4 L1072.3 1583 L1074.3 1582.6 L1076.3 1582.3 L1078.3 1581.9 L1080.3 1581.5 L1082.3 1581.2 L1084.3 1580.8 L1086.3 1580.4 L1088.3 1580.1 L1090.3 1579.7 L1092.3 1579.3 L1094.3 1579 L1096.3 1578.6 L1098.3 1578.3 L1100.3 1577.9 L1102.3 1577.6 L1104.3 1577.2 L1106.3 1576.8 L1108.3 1576.5 L1110.3 1576.1 L1112.3 1575.8 L1114.3 1575.4 L1116.3 1575.1 L1118.3 1574.7 L1120.3 1574.4 L1122.3 1574 L1124.3 1573.7 L1126.3 1573.3 L1128.3 1573 L1130.3 1572.6 L1132.3 1572.3 L1134.3 1571.9 L1136.3 1571.6 L1138.3 1571.2 L1140.3 1570.9 L1142.3 1570.5 L1144.3 1570.2 L1146.3 1569.8 L1148.3 1569.5 L1150.3 1569.1 L1152.3 1568.8 L1154.3 1568.5 L1156.3 1568.1 L1158.3 1567.8 L1160.4 1567.4 L1162.4 1567.1 L1164.4 1566.8 L1166.4 1566.4 L1168.4 1566.1 L1170.4 1565.8 L1172.4 1565.4 L1174.4 1565.1 L1176.4 1564.8 L1178.4 1564.4 L1180.4 1564.1 L1182.4 1563.8 L1184.4 1563.5 L1186.4 1563.1 L1188.4 1562.8 L1190.4 1562.5 L1192.4 1562.2 L1194.4 1561.8 L1196.4 1561.5 L1198.4 1561.2 L1200.4 1560.9 L1202.4 1560.6 L1204.4 1560.3 L1206.4 1560 L1208.4 1559.7 L1210.4 1559.3 L1212.4 1559 L1214.4 1558.7 L1216.4 1558.4 L1218.4 1558.1 L1220.4 1557.8 L1222.4 1557.5 L1224.4 1557.2 L1226.4 1556.9 L1228.4 1556.6 L1230.4 1556.3 L1232.4 1556 L1234.4 1555.8 L1236.4 1555.5 L1238.4 1555.2 L1240.4 1554.9 L1242.4 1554.6 L1244.4 1554.3 L1246.4 1554.1 L1248.4 1553.8 L1250.4 1553.5 L1252.4 1553.2 L1254.4 1553 L1256.4 1552.7 L1258.4 1552.4 L1260.4 1552.1 L1262.4 1551.9 L1264.4 1551.6 L1266.4 1551.4 L1268.4 1551.1 L1270.4 1550.8 L1272.4 1550.6 L1274.4 1550.3 L1276.4 1550.1 L1278.4 1549.8 L1280.4 1549.6 L1282.4 1549.3 L1284.4 1549.1 L1286.4 1548.9 L1288.4 1548.6 L1290.4 1548.4 L1292.4 1548.2 L1294.4 1547.9 L1296.4 1547.7 L1298.4 1547.5 L1300.4 1547.2 L1302.4 1547 L1304.4 1546.8 L1306.4 1546.6 L1308.4 1546.4 L1310.4 1546.2 L1312.4 1545.9 L1314.4 1545.7 L1316.4 1545.5 L1318.4 1545.3 L1320.4 1545.1 L1322.4 1544.9 L1324.4 1544.7 L1326.4 1544.5 L1328.4 1544.3 L1330.4 1544.2 L1332.4 1544 L1334.4 1543.8 L1336.4 1543.6 L1338.4 1543.4 L1340.4 1543.2 L1342.4 1543.1 L1344.4 1542.9 L1346.4 1542.7 L1348.4 1542.6 L1350.4 1542.4 L1352.4 1542.2 L1354.4 1542.1 L1356.4 1541.9 L1358.4 1541.8 L1360.4 1541.6 L1362.4 1541.5 L1364.4 1541.3 L1366.4 1541.2 L1368.4 1541 L1370.4 1540.9 L1372.4 1540.7 L1374.4 1540.6 L1376.4 1540.5 L1378.4 1540.3 L1380.4 1540.2 L1382.4 1540.1 L1384.4 1539.9 L1386.4 1539.8 L1388.4 1539.7 L1390.4 1539.6 L1392.4 1539.5 L1394.4 1539.3 L1396.4 1539.2 L1398.4 1539.1 L1400.4 1539 L1402.4 1538.9 L1404.5 1538.8 L1406.5 1538.7 L1408.5 1538.6 L1410.5 1538.5 L1412.5 1538.4 L1414.5 1538.3 L1416.5 1538.2 L1418.5 1538.1 L1420.5 1538 L1422.5 1537.9 L1424.5 1537.9 L1426.5 1537.8 L1428.5 1537.7 L1430.5 1537.6 L1432.5 1537.5 L1434.5 1537.5 L1436.5 1537.4 L1438.5 1537.3 L1440.5 1537.3 L1442.5 1537.2 L1444.5 1537.1 L1446.5 1537.1 L1448.5 1537 L1450.5 1537 L1452.5 1536.9 L1454.5 1536.8 L1456.5 1536.8 L1458.5 1536.7 L1460.5 1536.7 L1462.5 1536.7 L1464.5 1536.6 L1466.5 1536.6 L1468.5 1536.5 L1470.5 1536.5 L1472.5 1536.5 L1474.5 1536.4 L1476.5 1536.4 L1478.5 1536.4 L1480.5 1536.3 L1482.5 1536.3 L1484.5 1536.3 L1486.5 1536.3 L1488.5 1536.2 L1490.5 1536.2 L1492.5 1536.2 L1494.5 1536.2 L1496.5 1536.2 L1498.5 1536.2 L1500.5 1536.1 L1502.5 1536.1 L1504.5 1536.1 L1506.5 1536.1 L1508.5 1536.1 L1510.5 1536.1 L1512.5 1536.1 L1514.5 1536.1 L1516.5 1536.1 L1518.5 1536.1 L1520.5 1536.1 L1522.5 1536.1 L1524.5 1536.1 L1526.5 1536.1 L1528.5 1536.1 L1530.5 1536.2 L1532.5 1536.2 L1534.5 1536.2 L1536.5 1536.2 L1538.5 1536.2 L1540.5 1536.2 L1542.5 1536.2 L1544.5 1536.3 L1546.5 1536.3 L1548.5 1536.3 L1550.5 1536.3 L1552.5 1536.4 L1554.5 1536.4 L1556.5 1536.4 L1558.5 1536.4 L1560.5 1536.5 L1562.5 1536.5 L1564.5 1536.5 L1566.5 1536.6 L1568.5 1536.6 L1570.5 1536.6 L1572.5 1536.7 L1574.5 1536.7 L1576.5 1536.7 L1578.5 1536.8 L1580.5 1536.8 L1582.5 1536.8 L1584.5 1536.9 L1586.5 1536.9 L1588.5 1537 L1590.5 1537 L1592.5 1537.1 L1594.5 1537.1 L1596.5 1537.1 L1598.5 1537.2 L1600.5 1537.2 L1602.5 1537.3 L1604.5 1537.3 L1606.5 1537.4 L1608.5 1537.4 L1610.5 1537.5 L1612.5 1537.5 L1614.5 1537.6 L1616.5 1537.6 L1618.5 1537.7 L1620.5 1537.8 L1622.5 1537.8 L1624.5 1537.9 L1626.5 1537.9 L1628.5 1538 L1630.5 1538 L1632.5 1538.1 L1634.5 1538.1 L1636.5 1538.2 L1638.5 1538.3 L1640.5 1538.3 L1642.5 1538.4 L1644.5 1538.4 L1646.5 1538.5 L1648.6 1538.5 L1650.6 1538.6 L1652.6 1538.7 L1654.6 1538.7 L1656.6 1538.8 L1658.6 1538.8 L1660.6 1538.9 L1662.6 1539 L1664.6 1539 L1666.6 1539.1 L1668.6 1539.1 L1670.6 1539.2 L1672.6 1539.2 L1674.6 1539.3 L1676.6 1539.4 L1678.6 1539.4 L1680.6 1539.5 L1682.6 1539.5 L1684.6 1539.6 L1686.6 1539.6 L1688.6 1539.7 L1690.6 1539.7 L1692.6 1539.8 L1694.6 1539.8 L1696.6 1539.9 L1698.6 1539.9 L1700.6 1540 L1702.6 1540 L1704.6 1540.1 L1706.6 1540.1 L1708.6 1540.2 L1710.6 1540.2 L1712.6 1540.3 L1714.6 1540.3 L1716.6 1540.4 L1718.6 1540.4 L1720.6 1540.5 L1722.6 1540.5 L1724.6 1540.5 L1726.6 1540.6 L1728.6 1540.6 L1730.6 1540.6 L1732.6 1540.7 L1734.6 1540.7 L1736.6 1540.7 L1738.6 1540.8 L1740.6 1540.8 L1742.6 1540.8 L1744.6 1540.9 L1746.6 1540.9 L1748.6 1540.9 L1750.6 1540.9 L1752.6 1541 L1754.6 1541 L1756.6 1541 L1758.6 1541 L1760.6 1541 L1762.6 1541.1 L1764.6 1541.1 L1766.6 1541.1 L1768.6 1541.1" fill="none" stroke="#0d0d0d" stroke-width="7.6" stroke-linejoin="round"/>
<path d="M1036.3 1590.3 L1038.3 1589.9 L1040.3 1589.4 L1042.3 1589 L1044.3 1588.6 L1046.3 1588.1 L1048.3 1587.7 L1050.3 1587.3 L1052.3 1586.9 L1054.3 1586.5 L1056.3 1586.1 L1058.3 1585.7 L1060.3 1585.3 L1062.3 1584.9 L1064.3 1584.5 L1066.3 1584.1 L1068.3 1583.8 L1070.3 1583.4 L1072.3 1583 L1074.3 1582.6 L1076.3 1582.3 L1078.3 1581.9 L1080.3 1581.5 L1082.3 1581.2 L1084.3 1580.8 L1086.3 1580.4 L1088.3 1580.1 L1090.3 1579.7 L1092.3 1579.3 L1094.3 1579 L1096.3 1578.6 L1098.3 1578.3 L1100.3 1577.9 L1102.3 1577.6 L1104.3 1577.2 L1106.3 1576.8 L1108.3 1576.5 L1110.3 1576.1 L1112.3 1575.8 L1114.3 1575.4 L1116.3 1575.1 L1118.3 1574.7 L1120.3 1574.4 L1122.3 1574 L1124.3 1573.7 L1126.3 1573.3 L1128.3 1573 L1130.3 1572.6 L1132.3 1572.3 L1134.3 1571.9 L1136.3 1571.6 L1138.3 1571.2 L1140.3 1570.9 L1142.3 1570.5 L1144.3 1570.2 L1146.3 1569.8 L1148.3 1569.5 L1150.3 1569.1 L1152.3 1568.8 L1154.3 1568.5 L1156.3 1568.1 L1158.3 1567.8 L1160.4 1567.4 L1162.4 1567.1 L1164.4 1566.8 L1166.4 1566.4 L1168.4 1566.1 L1170.4 1565.8 L1172.4 1565.4 L1174.4 1565.1 L1176.4 1564.8 L1178.4 1564.4 L1180.4 1564.1 L1182.4 1563.8 L1184.4 1563.5 L1186.4 1563.1 L1188.4 1562.8 L1190.4 1562.5 L1192.4 1562.2 L1194.4 1561.8 L1196.4 1561.5 L1198.4 1561.2 L1200.4 1560.9 L1202.4 1560.6 L1204.4 1560.3 L1206.4 1560 L1208.4 1559.7 L1210.4 1559.3 L1212.4 1559 L1214.4 1558.7 L1216.4 1558.4 L1218.4 1558.1 L1220.4 1557.8 L1222.4 1557.5 L1224.4 1557.2 L1226.4 1556.9 L1228.4 1556.6 L1230.4 1556.3 L1232.4 1556 L1234.4 1555.8 L1236.4 1555.5 L1238.4 1555.2 L1240.4 1554.9 L1242.4 1554.6 L1244.4 1554.3 L1246.4 1554.1 L1248.4 1553.8 L1250.4 1553.5 L1252.4 1553.2 L1254.4 1553 L1256.4 1552.7 L1258.4 1552.4 L1260.4 1552.1 L1262.4 1551.9 L1264.4 1551.6 L1266.4 1551.4 L1268.4 1551.1 L1270.4 1550.8 L1272.4 1550.6 L1274.4 1550.3 L1276.4 1550.1 L1278.4 1549.8 L1280.4 1549.6 L1282.4 1549.3 L1284.4 1549.1 L1286.4 1548.9 L1288.4 1548.6 L1290.4 1548.4 L1292.4 1548.2 L1294.4 1547.9 L1296.4 1547.7 L1298.4 1547.5 L1300.4 1547.2 L1302.4 1547 L1304.4 1546.8 L1306.4 1546.6 L1308.4 1546.4 L1310.4 1546.2 L1312.4 1545.9 L1314.4 1545.7 L1316.4 1545.5 L1318.4 1545.3 L1320.4 1545.1 L1322.4 1544.9 L1324.4 1544.7 L1326.4 1544.5 L1328.4 1544.3 L1330.4 1544.2 L1332.4 1544 L1334.4 1543.8 L1336.4 1543.6 L1338.4 1543.4 L1340.4 1543.2 L1342.4 1543.1 L1344.4 1542.9 L1346.4 1542.7 L1348.4 1542.6 L1350.4 1542.4 L1352.4 1542.2 L1354.4 1542.1 L1356.4 1541.9 L1358.4 1541.8 L1360.4 1541.6 L1362.4 1541.5 L1364.4 1541.3 L1366.4 1541.2 L1368.4 1541 L1370.4 1540.9 L1372.4 1540.7 L1374.4 1540.6 L1376.4 1540.5 L1378.4 1540.3 L1380.4 1540.2 L1382.4 1540.1 L1384.4 1539.9 L1386.4 1539.8 L1388.4 1539.7 L1390.4 1539.6 L1392.4 1539.5 L1394.4 1539.3 L1396.4 1539.2 L1398.4 1539.1 L1400.4 1539 L1402.4 1538.9 L1404.5 1538.8 L1406.5 1538.7 L1408.5 1538.6 L1410.5 1538.5 L1412.5 1538.4 L1414.5 1538.3 L1416.5 1538.2 L1418.5 1538.1 L1420.5 1538 L1422.5 1537.9 L1424.5 1537.9 L1426.5 1537.8 L1428.5 1537.7 L1430.5 1537.6 L1432.5 1537.5 L1434.5 1537.5 L1436.5 1537.4 L1438.5 1537.3 L1440.5 1537.3 L1442.5 1537.2 L1444.5 1537.1 L1446.5 1537.1 L1448.5 1537 L1450.5 1537 L1452.5 1536.9 L1454.5 1536.8 L1456.5 1536.8 L1458.5 1536.7 L1460.5 1536.7 L1462.5 1536.7 L1464.5 1536.6 L1466.5 1536.6 L1468.5 1536.5 L1470.5 1536.5 L1472.5 1536.5 L1474.5 1536.4 L1476.5 1536.4 L1478.5 1536.4 L1480.5 1536.3 L1482.5 1536.3 L1484.5 1536.3 L1486.5 1536.3 L1488.5 1536.2 L1490.5 1536.2 L1492.5 1536.2 L1494.5 1536.2 L1496.5 1536.2 L1498.5 1536.2 L1500.5 1536.1 L1502.5 1536.1 L1504.5 1536.1 L1506.5 1536.1 L1508.5 1536.1 L1510.5 1536.1 L1512.5 1536.1 L1514.5 1536.1 L1516.5 1536.1 L1518.5 1536.1 L1520.5 1536.1 L1522.5 1536.1 L1524.5 1536.1 L1526.5 1536.1 L1528.5 1536.1 L1530.5 1536.2 L1532.5 1536.2 L1534.5 1536.2 L1536.5 1536.2 L1538.5 1536.2 L1540.5 1536.2 L1542.5 1536.2 L1544.5 1536.3 L1546.5 1536.3 L1548.5 1536.3 L1550.5 1536.3 L1552.5 1536.4 L1554.5 1536.4 L1556.5 1536.4 L1558.5 1536.4 L1560.5 1536.5 L1562.5 1536.5 L1564.5 1536.5 L1566.5 1536.6 L1568.5 1536.6 L1570.5 1536.6 L1572.5 1536.7 L1574.5 1536.7 L1576.5 1536.7 L1578.5 1536.8 L1580.5 1536.8 L1582.5 1536.8 L1584.5 1536.9 L1586.5 1536.9 L1588.5 1537 L1590.5 1537 L1592.5 1537.1 L1594.5 1537.1 L1596.5 1537.1 L1598.5 1537.2 L1600.5 1537.2 L1602.5 1537.3 L1604.5 1537.3 L1606.5 1537.4 L1608.5 1537.4 L1610.5 1537.5 L1612.5 1537.5 L1614.5 1537.6 L1616.5 1537.6 L1618.5 1537.7 L1620.5 1537.8 L1622.5 1537.8 L1624.5 1537.9 L1626.5 1537.9 L1628.5 1538 L1630.5 1538 L1632.5 1538.1 L1634.5 1538.1 L1636.5 1538.2 L1638.5 1538.3 L1640.5 1538.3 L1642.5 1538.4 L1644.5 1538.4 L1646.5 1538.5 L1648.6 1538.5 L1650.6 1538.6 L1652.6 1538.7 L1654.6 1538.7 L1656.6 1538.8 L1658.6 1538.8 L1660.6 1538.9 L1662.6 1539 L1664.6 1539 L1666.6 1539.1 L1668.6 1539.1 L1670.6 1539.2 L1672.6 1539.2 L1674.6 1539.3 L1676.6 1539.4 L1678.6 1539.4 L1680.6 1539.5 L1682.6 1539.5 L1684.6 1539.6 L1686.6 1539.6 L1688.6 1539.7 L1690.6 1539.7 L1692.6 1539.8 L1694.6 1539.8 L1696.6 1539.9 L1698.6 1539.9 L1700.6 1540 L1702.6 1540 L1704.6 1540.1 L1706.6 1540.1 L1708.6 1540.2 L1710.6 1540.2 L1712.6 1540.3 L1714.6 1540.3 L1716.6 1540.4 L1718.6 1540.4 L1720.6 1540.5 L1722.6 1540.5 L1724.6 1540.5 L1726.6 1540.6 L1728.6 1540.6 L1730.6 1540.6 L1732.6 1540.7 L1734.6 1540.7 L1736.6 1540.7 L1738.6 1540.8 L1740.6 1540.8 L1742.6 1540.8 L1744.6 1540.9 L1746.6 1540.9 L1748.6 1540.9 L1750.6 1540.9 L1752.6 1541 L1754.6 1541 L1756.6 1541 L1758.6 1541 L1760.6 1541 L1762.6 1541.1 L1764.6 1541.1 L1766.6 1541.1 L1768.6 1541.1" fill="none" stroke="#fff" stroke-opacity="0.13" stroke-width="7.6" stroke-dasharray="0.8 1.7 0.5 2.6 1.1 2.1" stroke-linejoin="round"/>
<path d="M1016 928.7V1702.5H1790.5M1002.4 1682H1016M1002.4 1590.3H1016M1002.4 1498.6H1016M1002.4 1406.9H1016M1002.4 1315.2H1016M1002.4 1223.5H1016M1002.4 1131.8H1016M1002.4 1040.1H1016M1035.9 1702.5V1716.1M1154.8 1702.5V1716.1M1273.7 1702.5V1716.1M1392.6 1702.5V1716.1M1511.5 1702.5V1716.1M1630.4 1702.5V1716.1M1749.3 1702.5V1716.1" stroke="#000" stroke-width="2" fill="none" stroke-linecap="butt" stroke-linejoin="miter"/>
<g font-family='"Liberation Sans", Arial, Helvetica, sans-serif' font-size="32.7" text-anchor="middle" fill="#000" stroke="#000" stroke-width="0.75" stroke-linejoin="round"><text x="1035.9" y="1747.9">0</text><text x="1154.8" y="1747.9">.3</text><text x="1273.7" y="1747.9">.6</text><text x="1392.6" y="1747.9">.9</text><text x="1511.5" y="1747.9">1.2</text><text x="1630.4" y="1747.9">1.5</text><text x="1749.3" y="1747.9">1.8</text><text x="1402.5" y="1783.8">T-tau</text><text transform="translate(988.8 1682) rotate(-90)">0.5</text><text transform="translate(988.8 1590.3) rotate(-90)">1.0</text><text transform="translate(988.8 1498.6) rotate(-90)">2.0</text><text transform="translate(988.8 1406.9) rotate(-90)">4.0</text><text transform="translate(988.8 1315.2) rotate(-90)">8.0</text><text transform="translate(988.8 1223.5) rotate(-90)">16.0</text><text transform="translate(988.8 1131.8) rotate(-90)">32.0</text><text transform="translate(988.8 1040.1) rotate(-90)">64.0</text><text transform="translate(952.6 1315.6) rotate(-90)">Adjusted HR</text></g>
</g>
<g id="panel5">
<path d="M91.7 2608.2H863.4M91.7 2429.6H863.4M91.7 2340.2H863.4M91.7 2250.8H863.4M91.7 2161.5H863.4M91.7 2072.2H863.4M91.7 1982.8H863.4" stroke="#e6edef" stroke-width="2.1" fill="none"/>
<path d="M109.1 2608.3 L109.1 2608.3 L110.6 2608 L112.1 2607.8 L113.6 2607.6 L115.1 2607.5 L116.6 2607.3 L118.1 2607.1 L119.6 2606.9 L121.1 2606.6 L122.6 2606.3 L124.1 2605.9 L125.6 2605.3 L127.1 2604.7 L128.6 2603.9 L130.1 2603 L131.6 2601.9 L133.1 2600.6 L134.6 2599.2 L136.1 2597.5 L137.6 2595.6 L139.1 2593.4 L140.6 2591 L142.1 2588.3 L143.6 2585.2 L145.1 2581.9 L146.6 2578.3 L148.1 2574.3 L149.6 2570 L151.1 2565.4 L152.6 2560.6 L154.1 2555.8 L155.6 2550.8 L157.1 2545.9 L158.6 2541 L160.1 2536.2 L161.6 2531.5 L163.1 2526.5 L164.6 2520.5 L166.1 2513.2 L167.6 2504.5 L169.1 2495 L170.6 2485.4 L172.1 2476 L173.6 2467 L175.1 2457.9 L176.6 2448.7 L178.1 2439 L179.6 2428.6 L181.1 2417.3 L182.6 2405.2 L184.1 2392.3 L185.6 2378.9 L187.1 2365.3 L188.6 2351.6 L190.1 2338.1 L191.6 2325.1 L193.1 2312.7 L194.6 2301.1 L196.1 2290.7 L197.6 2281.3 L199.1 2272.2 L200.6 2262.7 L202.1 2252.1 L203.6 2239.7 L205.1 2225.9 L206.6 2211.5 L208.1 2197.1 L209.6 2183.1 L211.1 2169.4 L212.6 2155.9 L214.1 2142.5 L215.6 2129.3 L217.1 2116 L218.6 2102.7 L220.1 2089.5 L221.6 2076.4 L223.1 2063.5 L224.6 2050.9 L226.1 2038.6 L227.6 2026.8 L229.1 2015.4 L230.6 2004.7 L232.1 1994.4 L233.6 1984.6 L235.1 1975.2 L236.6 1965.9 L238.1 1956.9 L239.6 1947.9 L241.1 1939.3 L242.6 1931.1 L244.1 1923.5 L245.6 1916.5 L247.1 1910.3 L248.6 1904.8 L250.1 1899.9 L251.6 1895.6 L253.1 1891.7 L254.6 1888.3 L256.1 1885.3 L257.6 1882.7 L259.1 1880.5 L260.6 1878.7 L262.1 1877.3 L263.6 1876.3 L265.1 1875.6 L266.6 1875.2 L268.1 1875.1 L269.6 1875.4 L271.1 1876 L272.6 1876.9 L274.1 1878.2 L275.6 1879.8 L277.1 1881.8 L278.6 1884.2 L280.1 1887 L281.6 1890.2 L283.1 1893.8 L284.6 1897.9 L286.1 1902.2 L287.6 1906.6 L289.1 1910.9 L290.6 1915 L292.1 1918.8 L293.5 1922.3 L295 1925.7 L296.5 1929.2 L298 1933.1 L299.5 1937.5 L301 1942.4 L302.5 1947.7 L304 1953.5 L305.5 1959.6 L307 1965.9 L308.5 1972.4 L310 1978.9 L311.5 1985.5 L313 1992.1 L314.5 1998.5 L316 2004.8 L317.5 2011 L319 2017.1 L320.5 2023.3 L322 2029.6 L323.5 2036 L325 2042.5 L326.5 2049.1 L328 2055.7 L329.5 2062.5 L331 2069.3 L332.5 2076.1 L334 2083.1 L335.5 2090 L337 2097.1 L338.5 2104.1 L340 2111.1 L341.5 2117.9 L343 2124.5 L344.5 2130.8 L346 2136.6 L347.5 2142 L349 2146.8 L350.5 2150.9 L352 2154.5 L353.5 2158 L355 2161.8 L356.5 2166.4 L358 2171.5 L359.5 2177 L361 2182.5 L362.5 2187.8 L364 2192.9 L365.5 2197.7 L367 2202.3 L368.5 2206.7 L370 2210.9 L371.5 2214.9 L373 2218.8 L374.5 2222.6 L376 2226.3 L377.5 2229.8 L379 2233.3 L380.5 2236.7 L382 2240.1 L383.5 2243.5 L385 2246.9 L386.5 2250.2 L388 2253.6 L389.5 2257 L391 2260.4 L392.5 2263.8 L394 2267.1 L395.5 2270.3 L397 2273.4 L398.5 2276.4 L400 2279.3 L401.5 2282 L403 2284.5 L404.5 2286.9 L406 2289.2 L407.5 2291.4 L409 2293.5 L410.5 2295.5 L412 2297.4 L413.5 2299.3 L415 2301.2 L416.5 2303 L418 2304.8 L419.5 2306.7 L421 2308.5 L422.5 2310.4 L424 2312.4 L425.5 2314.4 L427 2316.4 L428.5 2318.4 L430 2320.5 L431.5 2322.7 L433 2324.9 L434.5 2327.1 L436 2329.4 L437.5 2331.7 L439 2334.1 L440.5 2336.6 L442 2339 L443.5 2341.6 L445 2344.2 L446.5 2346.8 L448 2349.5 L449.5 2352.3 L451 2355.1 L452.5 2358 L454 2360.9 L455.5 2363.9 L457 2366.9 L458.5 2370 L460 2373 L461.5 2376.1 L463 2379.1 L464.5 2382.2 L466 2385.2 L467.5 2388.1 L469 2391 L470.5 2393.9 L472 2396.7 L473.5 2399.4 L475 2402 L476.5 2404.5 L478 2407 L479.5 2409.3 L481 2411.4 L482.5 2413.5 L484 2415.4 L485.5 2417.2 L487 2418.9 L488.5 2420.4 L490 2421.9 L491.5 2423.4 L493 2425 L494.5 2426.6 L496 2428.4 L497.5 2430.4 L499 2432.7 L500.5 2435.1 L502 2437.7 L503.5 2440.5 L505 2443.2 L506.5 2445.9 L508 2448.6 L509.5 2451.2 L511 2453.6 L512.5 2455.8 L514 2457.9 L515.5 2459.9 L517 2461.8 L518.5 2463.5 L520 2465.1 L521.5 2466.6 L523 2467.9 L524.5 2469.2 L526 2470.4 L527.5 2471.4 L529 2472.4 L530.5 2473.3 L532 2474.2 L533.5 2474.9 L535 2475.6 L536.5 2476.3 L538 2476.9 L539.5 2477.4 L541 2477.9 L542.5 2478.4 L544 2478.9 L545.5 2479.3 L547 2479.7 L548.5 2480.1 L550 2480.5 L551.5 2480.9 L553 2481.3 L554.5 2481.7 L556 2482.1 L557.5 2482.5 L559 2483 L560.5 2483.5 L562 2484.1 L563.5 2484.6 L565 2485.2 L566.5 2485.8 L568 2486.4 L569.5 2487 L571 2487.6 L572.5 2488.2 L574 2488.8 L575.5 2489.4 L577 2490 L578.5 2490.5 L580 2491 L581.5 2491.5 L583 2491.9 L584.5 2492.3 L586 2492.8 L587.5 2493.2 L589 2493.6 L590.5 2494.1 L592 2494.6 L593.5 2495.2 L595 2495.8 L596.5 2496.4 L598 2497.1 L599.5 2497.9 L601 2498.8 L602.5 2499.8 L604 2500.8 L605.5 2502 L607 2503.2 L608.5 2504.4 L610 2505.7 L611.5 2507 L613 2508.2 L614.5 2509.5 L616 2510.6 L617.5 2511.8 L619 2512.8 L620.5 2513.8 L622 2514.7 L623.5 2515.6 L625 2516.4 L626.5 2517.2 L628 2518 L629.5 2518.7 L631 2519.5 L632.5 2520.2 L634 2520.9 L635.5 2521.7 L637 2522.4 L638.5 2523.2 L640 2524 L641.5 2524.8 L643 2525.6 L644.5 2526.4 L646 2527.2 L647.5 2528 L649 2528.8 L650.5 2529.6 L652 2530.4 L653.5 2531.2 L655 2532 L656.5 2532.8 L658 2533.6 L659.4 2534.4 L660.9 2535.2 L662.4 2536 L663.9 2536.7 L665.4 2537.5 L666.9 2538.3 L668.4 2539 L669.9 2539.8 L671.4 2540.5 L672.9 2541.3 L674.4 2542 L675.9 2542.7 L677.4 2543.4 L678.9 2544 L680.4 2544.7 L681.9 2545.3 L683.4 2545.9 L684.9 2546.5 L686.4 2547.1 L687.9 2547.7 L689.4 2548.2 L690.9 2548.7 L692.4 2549.2 L693.9 2549.7 L695.4 2550.1 L696.9 2550.5 L698.4 2550.9 L699.9 2551.2 L701.4 2551.6 L702.9 2551.9 L704.4 2552.2 L705.9 2552.4 L707.4 2552.7 L708.9 2552.9 L710.4 2553.1 L711.9 2553.3 L713.4 2553.4 L714.9 2553.6 L716.4 2553.7 L717.9 2553.9 L719.4 2554 L720.9 2554.1 L722.4 2554.2 L723.9 2554.3 L725.4 2554.4 L726.9 2554.4 L728.4 2554.5 L729.9 2554.6 L731.4 2554.7 L732.9 2554.7 L734.4 2554.8 L735.9 2554.9 L737.4 2554.9 L738.9 2555 L740.4 2555.1 L741.9 2555.2 L743.4 2555.3 L744.9 2555.4 L746.4 2555.5 L747.9 2555.6 L749.4 2555.7 L750.9 2555.9 L752.4 2556 L753.9 2556.2 L755.4 2556.4 L756.9 2556.6 L758.4 2556.8 L759.9 2557.1 L761.4 2557.3 L762.9 2557.6 L764.4 2557.9 L765.9 2558.2 L767.4 2558.6 L768.9 2558.9 L770.4 2559.3 L771.9 2559.7 L773.4 2560.2 L774.9 2560.7 L776.4 2561.1 L777.9 2561.7 L779.4 2562.2 L780.9 2562.7 L782.4 2563.3 L783.9 2563.9 L785.4 2564.6 L786.9 2565.2 L788.4 2565.9 L789.9 2566.6 L791.4 2567.3 L792.9 2568 L794.4 2568.8 L795.9 2569.5 L797.4 2570.3 L798.9 2571.1 L800.4 2572 L801.9 2572.8 L803.4 2573.7 L804.9 2574.5 L806.4 2575.4 L807.9 2576.2 L809.4 2577.1 L810.9 2578 L812.4 2578.9 L813.9 2579.7 L815.4 2580.6 L816.9 2581.5 L818.4 2582.3 L819.9 2583.1 L821.4 2584 L822.9 2584.8 L824.4 2585.5 L825.9 2586.3 L827.4 2587.1 L828.9 2587.8 L830.4 2588.5 L831.9 2589.1 L833.4 2589.8 L834.9 2590.4 L836.4 2590.9 L837.9 2591.5 L839.4 2591.9 L840.9 2592.4 L842.4 2592.8 L842.4 2608.3Z" fill="rgba(120,210,135,0.2)" stroke="rgba(95,145,110,0.28)" stroke-width="2" stroke-linejoin="round"/>
<path d="M89.2 2518.9H863.4" stroke="#b00a30" stroke-width="2.7" fill="none"/>
<path d="M110.5 2518.9 L112.5 2515.9 L114.5 2512.7 L116.5 2509.5 L118.5 2506.2 L120.5 2502.8 L122.5 2499.3 L124.5 2495.8 L126.5 2492.1 L128.5 2488.4 L130.5 2484.7 L132.5 2480.8 L134.5 2476.9 L136.5 2473 L138.5 2469 L140.5 2464.9 L142.5 2460.8 L144.5 2456.6 L146.5 2452.4 L148.5 2448.1 L150.5 2443.8 L152.5 2439.5 L154.5 2435.1 L156.5 2430.7 L158.5 2426.3 L160.5 2421.8 L162.5 2417.4 L164.5 2412.9 L166.5 2408.4 L168.5 2403.8 L170.5 2399.3 L172.5 2394.8 L174.5 2390.2 L176.5 2385.7 L178.5 2381.1 L180.5 2376.5 L182.5 2371.9 L184.5 2367.4 L186.5 2362.8 L188.5 2358.2 L190.5 2353.6 L192.5 2349 L194.5 2344.4 L196.5 2339.8 L198.5 2335.2 L200.5 2330.7 L202.5 2326.1 L204.5 2321.5 L206.5 2316.9 L208.5 2312.3 L210.5 2307.8 L212.5 2303.2 L214.5 2298.6 L216.5 2294.1 L218.5 2289.5 L220.5 2285 L222.5 2280.5 L224.5 2275.9 L226.5 2271.4 L228.5 2266.9 L230.5 2262.4 L232.5 2257.9 L234.5 2253.5 L236.5 2249 L238.5 2244.6 L240.5 2240.2 L242.5 2235.7 L244.5 2231.4 L246.5 2227 L248.5 2222.6 L250.5 2218.3 L252.5 2213.9 L254.5 2209.6 L256.5 2205.4 L258.5 2201.1 L260.5 2196.8 L262.5 2192.6 L264.5 2188.4 L266.5 2184.2 L268.5 2180.1 L270.5 2176 L272.5 2171.9 L274.5 2167.8 L276.5 2163.7 L278.5 2159.7 L280.5 2155.7 L282.5 2151.7 L284.5 2147.7 L286.5 2143.8 L288.5 2139.9 L290.5 2136 L292.5 2132.2 L294.5 2128.4 L296.5 2124.6 L298.5 2120.8 L300.5 2117 L302.5 2113.3 L304.5 2109.6 L306.5 2106 L308.5 2102.4 L310.5 2098.8 L312.5 2095.2 L314.5 2091.6 L316.5 2088.1 L318.5 2084.6 L320.5 2081.2 L322.5 2077.7 L324.5 2074.3 L326.5 2071 L328.5 2067.6 L330.5 2064.3 L332.5 2061 L334.5 2057.8 L336.5 2054.6 L338.5 2051.4 L340.5 2048.2 L342.5 2045.1 L344.5 2042 L346.5 2039 L348.5 2035.9 L350.5 2032.9 L352.5 2030 L354.5 2027 L356.5 2024.1 L358.5 2021.3 L360.5 2018.4 L362.5 2015.7 L364.5 2012.9 L366.5 2010.2 L368.5 2007.5 L370.5 2004.8 L372.5 2002.2 L374.5 1999.6 L376.5 1997 L378.5 1994.5 L380.5 1992 L382.5 1989.6 L384.5 1987.2 L386.5 1984.8 L388.5 1982.4 L390.5 1980.1 L392.5 1977.9 L394.5 1975.6 L396.5 1973.4 L398.5 1971.3 L400.5 1969.1 L402.5 1967 L404.5 1965 L406.5 1963 L408.5 1961 L410.5 1959 L412.5 1957.1 L414.5 1955.2 L416.5 1953.3 L418.5 1951.5 L420.5 1949.7 L422.5 1947.9 L424.5 1946.2 L426.5 1944.5 L428.5 1942.8 L430.5 1941.1 L432.5 1939.5 L434.5 1937.9 L436.5 1936.4 L438.5 1934.9 L440.5 1933.4 L442.5 1931.9 L444.5 1930.4 L446.5 1929 L448.5 1927.6 L450.5 1926.3 L452.5 1924.9 L454.5 1923.6 L456.5 1922.3 L458.5 1921.1 L460.5 1919.8 L462.5 1918.6 L464.5 1917.5 L466.5 1916.3 L468.5 1915.2 L470.5 1914.1 L472.5 1913 L474.5 1911.9 L476.4 1910.9 L478.4 1909.8 L480.4 1908.8 L482.4 1907.9 L484.4 1906.9 L486.4 1906 L488.4 1905.1 L490.4 1904.2 L492.4 1903.3 L494.4 1902.5 L496.4 1901.6 L498.4 1900.8 L500.4 1900 L502.4 1899.3 L504.4 1898.5 L506.4 1897.8 L508.4 1897.1 L510.4 1896.4 L512.4 1895.7 L514.4 1895 L516.4 1894.4 L518.4 1893.7 L520.4 1893.1 L522.4 1892.5 L524.4 1891.9 L526.4 1891.3 L528.4 1890.8 L530.4 1890.3 L532.4 1889.7 L534.4 1889.2 L536.4 1888.7 L538.4 1888.2 L540.4 1887.8 L542.4 1887.3 L544.4 1886.9 L546.4 1886.4 L548.4 1886 L550.4 1885.6 L552.4 1885.2 L554.4 1884.8 L556.4 1884.5 L558.4 1884.1 L560.4 1883.8 L562.4 1883.4 L564.4 1883.1 L566.4 1882.8 L568.4 1882.5 L570.4 1882.2 L572.4 1881.9 L574.4 1881.7 L576.4 1881.4 L578.4 1881.1 L580.4 1880.9 L582.4 1880.7 L584.4 1880.5 L586.4 1880.2 L588.4 1880 L590.4 1879.8 L592.4 1879.7 L594.4 1879.5 L596.4 1879.3 L598.4 1879.2 L600.4 1879 L602.4 1878.9 L604.4 1878.7 L606.4 1878.6 L608.4 1878.5 L610.4 1878.3 L612.4 1878.2 L614.4 1878.1 L616.4 1878 L618.4 1877.9 L620.4 1877.9 L622.4 1877.8 L624.4 1877.7 L626.4 1877.6 L628.4 1877.6 L630.4 1877.5 L632.4 1877.4 L634.4 1877.4 L636.4 1877.3 L638.4 1877.3 L640.4 1877.3 L642.4 1877.2 L644.4 1877.2 L646.4 1877.2 L648.4 1877.1 L650.4 1877.1 L652.4 1877.1 L654.4 1877.1 L656.4 1877.1 L658.4 1877 L660.4 1877 L662.4 1877 L664.4 1877 L666.4 1877 L668.4 1877 L670.4 1877 L672.4 1877 L674.4 1877 L676.4 1877 L678.4 1877 L680.4 1877 L682.4 1876.9 L684.4 1876.9 L686.4 1876.9 L688.4 1876.9 L690.4 1876.9 L692.4 1876.9 L694.4 1876.9 L696.4 1876.9 L698.4 1876.9 L700.4 1876.9 L702.4 1876.9 L704.4 1876.9 L706.4 1876.9 L708.4 1876.9 L710.4 1876.9 L712.4 1876.8 L714.4 1876.8 L716.4 1876.8 L718.4 1876.8 L720.4 1876.8 L722.4 1876.8 L724.4 1876.8 L726.4 1876.8 L728.4 1876.8 L730.4 1876.8 L732.4 1876.7 L734.4 1876.7 L736.4 1876.7 L738.4 1876.7 L740.4 1876.7 L742.4 1876.7 L744.4 1876.7 L746.4 1876.7 L748.4 1876.6 L750.4 1876.6 L752.4 1876.6 L754.4 1876.6 L756.4 1876.6 L758.4 1876.6 L760.4 1876.6 L762.4 1876.5 L764.4 1876.5 L766.4 1876.5 L768.4 1876.5 L770.4 1876.5 L772.4 1876.4 L774.4 1876.4 L776.4 1876.4 L778.4 1876.4 L780.4 1876.4 L782.4 1876.3 L784.4 1876.3 L786.4 1876.3 L788.4 1876.3 L790.4 1876.3 L792.4 1876.2 L794.4 1876.2 L796.4 1876.2 L798.4 1876.2 L800.4 1876.1 L802.4 1876.1 L804.4 1876.1 L806.4 1876 L808.4 1876 L810.4 1876 L812.4 1875.9 L814.4 1875.9 L816.4 1875.9 L818.4 1875.9 L820.4 1875.8 L822.4 1875.8 L824.4 1875.7 L826.4 1875.7 L828.4 1875.7 L830.4 1875.6 L832.4 1875.6 L834.4 1875.6 L836.4 1875.5 L838.4 1875.5 L840.4 1875.4 L842.4 1875.4 L842.4 2153.8 L840.4 2153.8 L838.4 2153.8 L836.4 2153.9 L834.4 2153.9 L832.4 2153.9 L830.4 2153.9 L828.4 2154 L826.4 2154 L824.4 2154 L822.4 2154.1 L820.4 2154.1 L818.4 2154.1 L816.4 2154.2 L814.4 2154.2 L812.4 2154.2 L810.4 2154.3 L808.4 2154.3 L806.4 2154.4 L804.4 2154.4 L802.4 2154.5 L800.4 2154.5 L798.4 2154.5 L796.4 2154.6 L794.4 2154.6 L792.4 2154.7 L790.4 2154.7 L788.4 2154.8 L786.4 2154.8 L784.4 2154.9 L782.4 2155 L780.4 2155 L778.4 2155.1 L776.4 2155.1 L774.4 2155.2 L772.4 2155.2 L770.4 2155.3 L768.4 2155.4 L766.4 2155.4 L764.4 2155.5 L762.4 2155.5 L760.4 2155.6 L758.4 2155.7 L756.4 2155.7 L754.4 2155.8 L752.4 2155.9 L750.4 2155.9 L748.4 2156 L746.4 2156.1 L744.4 2156.1 L742.4 2156.2 L740.4 2156.3 L738.4 2156.3 L736.4 2156.4 L734.4 2156.5 L732.4 2156.5 L730.4 2156.6 L728.4 2156.7 L726.4 2156.7 L724.4 2156.8 L722.4 2156.9 L720.4 2156.9 L718.4 2157 L716.4 2157.1 L714.4 2157.2 L712.4 2157.2 L710.4 2157.3 L708.4 2157.4 L706.4 2157.4 L704.4 2157.5 L702.4 2157.6 L700.4 2157.7 L698.4 2157.7 L696.4 2157.8 L694.4 2157.9 L692.4 2157.9 L690.4 2158 L688.4 2158.1 L686.4 2158.2 L684.4 2158.2 L682.4 2158.3 L680.4 2158.4 L678.4 2158.4 L676.4 2158.5 L674.4 2158.6 L672.4 2158.6 L670.4 2158.7 L668.4 2158.8 L666.4 2158.8 L664.4 2158.9 L662.4 2159 L660.4 2159.1 L658.4 2159.1 L656.4 2159.2 L654.4 2159.3 L652.4 2159.3 L650.4 2159.4 L648.4 2159.5 L646.4 2159.6 L644.4 2159.6 L642.4 2159.7 L640.4 2159.8 L638.4 2159.9 L636.4 2160 L634.4 2160.1 L632.4 2160.2 L630.4 2160.2 L628.4 2160.3 L626.4 2160.4 L624.4 2160.5 L622.4 2160.6 L620.4 2160.7 L618.4 2160.9 L616.4 2161 L614.4 2161.1 L612.4 2161.2 L610.4 2161.3 L608.4 2161.4 L606.4 2161.6 L604.4 2161.7 L602.4 2161.8 L600.4 2162 L598.4 2162.1 L596.4 2162.3 L594.4 2162.4 L592.4 2162.6 L590.4 2162.7 L588.4 2162.9 L586.4 2163.1 L584.4 2163.3 L582.4 2163.4 L580.4 2163.6 L578.4 2163.8 L576.4 2164 L574.4 2164.2 L572.4 2164.4 L570.4 2164.6 L568.4 2164.9 L566.4 2165.1 L564.4 2165.3 L562.4 2165.5 L560.4 2165.8 L558.4 2166 L556.4 2166.3 L554.4 2166.6 L552.4 2166.8 L550.4 2167.1 L548.4 2167.4 L546.4 2167.7 L544.4 2168 L542.4 2168.3 L540.4 2168.6 L538.4 2168.9 L536.4 2169.3 L534.4 2169.6 L532.4 2169.9 L530.4 2170.3 L528.4 2170.6 L526.4 2171 L524.4 2171.4 L522.4 2171.8 L520.4 2172.2 L518.4 2172.6 L516.4 2173 L514.4 2173.4 L512.4 2173.8 L510.4 2174.3 L508.4 2174.7 L506.4 2175.2 L504.4 2175.6 L502.4 2176.1 L500.4 2176.6 L498.4 2177.1 L496.4 2177.6 L494.4 2178.1 L492.4 2178.7 L490.4 2179.2 L488.4 2179.7 L486.4 2180.3 L484.4 2180.9 L482.4 2181.5 L480.4 2182 L478.4 2182.6 L476.4 2183.3 L474.5 2183.9 L472.5 2184.5 L470.5 2185.2 L468.5 2185.8 L466.5 2186.5 L464.5 2187.2 L462.5 2187.9 L460.5 2188.6 L458.5 2189.3 L456.5 2190.1 L454.5 2190.8 L452.5 2191.6 L450.5 2192.4 L448.5 2193.2 L446.5 2194 L444.5 2194.8 L442.5 2195.6 L440.5 2196.5 L438.5 2197.3 L436.5 2198.2 L434.5 2199.1 L432.5 2200 L430.5 2200.9 L428.5 2201.8 L426.5 2202.8 L424.5 2203.7 L422.5 2204.7 L420.5 2205.7 L418.5 2206.7 L416.5 2207.7 L414.5 2208.7 L412.5 2209.8 L410.5 2210.9 L408.5 2211.9 L406.5 2213 L404.5 2214.2 L402.5 2215.3 L400.5 2216.4 L398.5 2217.6 L396.5 2218.8 L394.5 2220 L392.5 2221.2 L390.5 2222.4 L388.5 2223.7 L386.5 2224.9 L384.5 2226.2 L382.5 2227.5 L380.5 2228.8 L378.5 2230.2 L376.5 2231.5 L374.5 2232.9 L372.5 2234.3 L370.5 2235.7 L368.5 2237.1 L366.5 2238.5 L364.5 2240 L362.5 2241.4 L360.5 2242.9 L358.5 2244.4 L356.5 2245.9 L354.5 2247.5 L352.5 2249 L350.5 2250.6 L348.5 2252.2 L346.5 2253.8 L344.5 2255.4 L342.5 2257 L340.5 2258.6 L338.5 2260.3 L336.5 2262 L334.5 2263.6 L332.5 2265.3 L330.5 2267.1 L328.5 2268.8 L326.5 2270.5 L324.5 2272.3 L322.5 2274.1 L320.5 2275.8 L318.5 2277.7 L316.5 2279.5 L314.5 2281.3 L312.5 2283.1 L310.5 2285 L308.5 2286.9 L306.5 2288.8 L304.5 2290.7 L302.5 2292.6 L300.5 2294.5 L298.5 2296.4 L296.5 2298.4 L294.5 2300.3 L292.5 2302.3 L290.5 2304.3 L288.5 2306.3 L286.5 2308.3 L284.5 2310.4 L282.5 2312.4 L280.5 2314.5 L278.5 2316.5 L276.5 2318.6 L274.5 2320.7 L272.5 2322.8 L270.5 2324.9 L268.5 2327 L266.5 2329.2 L264.5 2331.3 L262.5 2333.5 L260.5 2335.7 L258.5 2337.8 L256.5 2340 L254.5 2342.2 L252.5 2344.5 L250.5 2346.7 L248.5 2348.9 L246.5 2351.1 L244.5 2353.4 L242.5 2355.7 L240.5 2357.9 L238.5 2360.2 L236.5 2362.5 L234.5 2364.8 L232.5 2367.1 L230.5 2369.4 L228.5 2371.7 L226.5 2374 L224.5 2376.3 L222.5 2378.7 L220.5 2381 L218.5 2383.3 L216.5 2385.7 L214.5 2388 L212.5 2390.4 L210.5 2392.7 L208.5 2395.1 L206.5 2397.5 L204.5 2399.8 L202.5 2402.2 L200.5 2404.6 L198.5 2407 L196.5 2409.3 L194.5 2411.7 L192.5 2414.1 L190.5 2416.5 L188.5 2418.9 L186.5 2421.3 L184.5 2423.6 L182.5 2426 L180.5 2428.4 L178.5 2430.8 L176.5 2433.2 L174.5 2435.6 L172.5 2438 L170.5 2440.3 L168.5 2442.7 L166.5 2445.1 L164.5 2447.5 L162.5 2449.9 L160.5 2452.3 L158.5 2454.7 L156.5 2457.1 L154.5 2459.5 L152.5 2461.9 L150.5 2464.3 L148.5 2466.8 L146.5 2469.3 L144.5 2471.8 L142.5 2474.3 L140.5 2476.8 L138.5 2479.4 L136.5 2482 L134.5 2484.6 L132.5 2487.3 L130.5 2489.9 L128.5 2492.7 L126.5 2495.4 L124.5 2498.2 L122.5 2501 L120.5 2503.9 L118.5 2506.8 L116.5 2509.8 L114.5 2512.8 L112.5 2515.8 L110.5 2518.9Z" fill="rgba(125,135,130,0.2)" stroke="rgba(112,116,114,0.40)" stroke-width="2.2" stroke-linejoin="round"/>
<g fill="#0a0a0a"><rect x="218.1" y="1885.4" width="1.8" height="18.8" fill-opacity="0.76"/><rect x="237.3" y="1885.4" width="2.4" height="18.8" fill-opacity="0.97"/><rect x="243.2" y="1885.4" width="1.6" height="18.8" fill-opacity="0.81"/><rect x="251.2" y="1885.4" width="2.3" height="18.8" fill-opacity="0.96"/><rect x="259.2" y="1885.4" width="5.2" height="18.8" fill-opacity="0.53"/><rect x="259.2" y="1885.4" width="1.4" height="18.8" fill-opacity="0.83"/><rect x="261" y="1885.4" width="1.4" height="18.8" fill-opacity="0.83"/><rect x="263" y="1885.4" width="1.4" height="18.8" fill-opacity="0.83"/><rect x="272.3" y="1885.4" width="1.7" height="18.8" fill-opacity="0.86"/><rect x="276.5" y="1885.4" width="3.4" height="18.8" fill-opacity="0.92"/><rect x="276.5" y="1885.4" width="1.4" height="18.8" fill-opacity="0.95"/><rect x="278.5" y="1885.4" width="1.4" height="18.8" fill-opacity="0.95"/><rect x="291" y="1885.4" width="2.1" height="18.8" fill-opacity="0.96"/><rect x="296.6" y="1885.4" width="3.6" height="18.8" fill-opacity="0.92"/><rect x="296.6" y="1885.4" width="1.4" height="18.8" fill-opacity="0.95"/><rect x="297.9" y="1885.4" width="1.4" height="18.8" fill-opacity="0.95"/><rect x="298.8" y="1885.4" width="1.4" height="18.8" fill-opacity="0.95"/><rect x="303.9" y="1885.4" width="2.4" height="18.8" fill-opacity="0.96"/><rect x="308.8" y="1885.4" width="9.9" height="18.8" fill-opacity="0.73"/><rect x="308.8" y="1885.4" width="1.4" height="18.8" fill-opacity="0.93"/><rect x="311" y="1885.4" width="1.4" height="18.8" fill-opacity="0.93"/><rect x="312.9" y="1885.4" width="1.4" height="18.8" fill-opacity="0.93"/><rect x="315.4" y="1885.4" width="1.4" height="18.8" fill-opacity="0.93"/><rect x="317.3" y="1885.4" width="1.4" height="18.8" fill-opacity="0.93"/><rect x="320.4" y="1885.4" width="3.4" height="18.8" fill-opacity="0.84"/><rect x="320.4" y="1885.4" width="1.4" height="18.8" fill-opacity="0.95"/><rect x="322.4" y="1885.4" width="1.4" height="18.8" fill-opacity="0.95"/><rect x="327" y="1885.4" width="1.5" height="18.8" fill-opacity="0.71"/><rect x="331.1" y="1885.4" width="1.8" height="18.8" fill-opacity="0.91"/><rect x="339" y="1885.4" width="6.4" height="18.8" fill-opacity="0.63"/><rect x="339" y="1885.4" width="1.4" height="18.8" fill-opacity="0.88"/><rect x="340.5" y="1885.4" width="1.4" height="18.8" fill-opacity="0.88"/><rect x="342.6" y="1885.4" width="1.4" height="18.8" fill-opacity="0.88"/><rect x="344" y="1885.4" width="1.4" height="18.8" fill-opacity="0.88"/><rect x="348.5" y="1885.4" width="2.3" height="18.8" fill-opacity="0.91"/><rect x="351.9" y="1885.4" width="6.4" height="18.8" fill-opacity="0.73"/><rect x="351.9" y="1885.4" width="1.4" height="18.8" fill-opacity="0.93"/><rect x="353.3" y="1885.4" width="1.4" height="18.8" fill-opacity="0.93"/><rect x="355.4" y="1885.4" width="1.4" height="18.8" fill-opacity="0.93"/><rect x="356.9" y="1885.4" width="1.4" height="18.8" fill-opacity="0.93"/><rect x="362.6" y="1885.4" width="11.5" height="18.8" fill-opacity="0.73"/><rect x="362.6" y="1885.4" width="1.4" height="18.8" fill-opacity="0.93"/><rect x="364.6" y="1885.4" width="1.4" height="18.8" fill-opacity="0.93"/><rect x="366.4" y="1885.4" width="1.4" height="18.8" fill-opacity="0.93"/><rect x="368.8" y="1885.4" width="1.4" height="18.8" fill-opacity="0.93"/><rect x="370.6" y="1885.4" width="1.4" height="18.8" fill-opacity="0.93"/><rect x="372.7" y="1885.4" width="1.4" height="18.8" fill-opacity="0.93"/><rect x="378.3" y="1885.4" width="1.9" height="18.8" fill-opacity="0.96"/><rect x="384.4" y="1885.4" width="22.9" height="18.8" fill-opacity="0.46"/><rect x="384.4" y="1885.4" width="1.4" height="18.8" fill-opacity="0.80"/><rect x="386.4" y="1885.4" width="1.4" height="18.8" fill-opacity="0.80"/><rect x="388.9" y="1885.4" width="1.4" height="18.8" fill-opacity="0.80"/><rect x="390.8" y="1885.4" width="1.4" height="18.8" fill-opacity="0.80"/><rect x="392.8" y="1885.4" width="1.4" height="18.8" fill-opacity="0.80"/><rect x="395.3" y="1885.4" width="1.4" height="18.8" fill-opacity="0.80"/><rect x="397.2" y="1885.4" width="1.4" height="18.8" fill-opacity="0.80"/><rect x="399.7" y="1885.4" width="1.4" height="18.8" fill-opacity="0.80"/><rect x="401.6" y="1885.4" width="1.4" height="18.8" fill-opacity="0.80"/><rect x="403.5" y="1885.4" width="1.4" height="18.8" fill-opacity="0.80"/><rect x="405.9" y="1885.4" width="1.4" height="18.8" fill-opacity="0.80"/><rect x="407.9" y="1885.4" width="5.5" height="18.8" fill-opacity="0.92"/><rect x="407.9" y="1885.4" width="1.4" height="18.8" fill-opacity="0.95"/><rect x="410.1" y="1885.4" width="1.4" height="18.8" fill-opacity="0.95"/><rect x="412" y="1885.4" width="1.4" height="18.8" fill-opacity="0.95"/><rect x="417.3" y="1885.4" width="4.7" height="18.8" fill-opacity="0.63"/><rect x="417.3" y="1885.4" width="1.4" height="18.8" fill-opacity="0.88"/><rect x="418.7" y="1885.4" width="1.4" height="18.8" fill-opacity="0.88"/><rect x="420.6" y="1885.4" width="1.4" height="18.8" fill-opacity="0.88"/><rect x="423.4" y="1885.4" width="5" height="18.8" fill-opacity="0.63"/><rect x="423.4" y="1885.4" width="1.4" height="18.8" fill-opacity="0.88"/><rect x="425.2" y="1885.4" width="1.4" height="18.8" fill-opacity="0.88"/><rect x="427" y="1885.4" width="1.4" height="18.8" fill-opacity="0.88"/><rect x="433.3" y="1885.4" width="1.7" height="18.8" fill-opacity="0.91"/><rect x="437.1" y="1885.4" width="6.4" height="18.8" fill-opacity="0.53"/><rect x="437.1" y="1885.4" width="1.4" height="18.8" fill-opacity="0.83"/><rect x="438.6" y="1885.4" width="1.4" height="18.8" fill-opacity="0.83"/><rect x="440.7" y="1885.4" width="1.4" height="18.8" fill-opacity="0.83"/><rect x="442.1" y="1885.4" width="1.4" height="18.8" fill-opacity="0.83"/><rect x="447.2" y="1885.4" width="2.1" height="18.8" fill-opacity="0.86"/><rect x="452.1" y="1885.4" width="7.8" height="18.8" fill-opacity="0.32"/><rect x="452.1" y="1885.4" width="1.4" height="18.8" fill-opacity="0.73"/><rect x="454" y="1885.4" width="1.4" height="18.8" fill-opacity="0.73"/><rect x="456.5" y="1885.4" width="1.4" height="18.8" fill-opacity="0.73"/><rect x="458.5" y="1885.4" width="1.4" height="18.8" fill-opacity="0.73"/><rect x="463" y="1885.4" width="1.8" height="18.8" fill-opacity="0.76"/><rect x="467.1" y="1885.4" width="10.8" height="18.8" fill-opacity="0.73"/><rect x="467.1" y="1885.4" width="1.4" height="18.8" fill-opacity="0.93"/><rect x="469.2" y="1885.4" width="1.4" height="18.8" fill-opacity="0.93"/><rect x="470.9" y="1885.4" width="1.4" height="18.8" fill-opacity="0.93"/><rect x="472.5" y="1885.4" width="1.4" height="18.8" fill-opacity="0.93"/><rect x="474.7" y="1885.4" width="1.4" height="18.8" fill-opacity="0.93"/><rect x="476.5" y="1885.4" width="1.4" height="18.8" fill-opacity="0.93"/><rect x="480.4" y="1885.4" width="2.4" height="18.8" fill-opacity="0.97"/><rect x="486.5" y="1885.4" width="12.9" height="18.8" fill-opacity="0.63"/><rect x="486.5" y="1885.4" width="1.4" height="18.8" fill-opacity="0.88"/><rect x="488.5" y="1885.4" width="1.4" height="18.8" fill-opacity="0.88"/><rect x="490.2" y="1885.4" width="1.4" height="18.8" fill-opacity="0.88"/><rect x="492.5" y="1885.4" width="1.4" height="18.8" fill-opacity="0.88"/><rect x="494.2" y="1885.4" width="1.4" height="18.8" fill-opacity="0.88"/><rect x="495.8" y="1885.4" width="1.4" height="18.8" fill-opacity="0.88"/><rect x="498" y="1885.4" width="1.4" height="18.8" fill-opacity="0.88"/><rect x="500.8" y="1885.4" width="11.2" height="18.8" fill-opacity="0.63"/><rect x="500.8" y="1885.4" width="1.4" height="18.8" fill-opacity="0.88"/><rect x="502.5" y="1885.4" width="1.4" height="18.8" fill-opacity="0.88"/><rect x="504.8" y="1885.4" width="1.4" height="18.8" fill-opacity="0.88"/><rect x="506.6" y="1885.4" width="1.4" height="18.8" fill-opacity="0.88"/><rect x="508.9" y="1885.4" width="1.4" height="18.8" fill-opacity="0.88"/><rect x="510.6" y="1885.4" width="1.4" height="18.8" fill-opacity="0.88"/><rect x="517.4" y="1885.4" width="1.7" height="18.8" fill-opacity="0.76"/><rect x="521.8" y="1885.4" width="6.9" height="18.8" fill-opacity="0.32"/><rect x="521.8" y="1885.4" width="1.4" height="18.8" fill-opacity="0.73"/><rect x="523.9" y="1885.4" width="1.4" height="18.8" fill-opacity="0.73"/><rect x="525.5" y="1885.4" width="1.4" height="18.8" fill-opacity="0.73"/><rect x="527.3" y="1885.4" width="1.4" height="18.8" fill-opacity="0.73"/><rect x="532.5" y="1885.4" width="2.4" height="18.8" fill-opacity="0.96"/><rect x="536.6" y="1885.4" width="1.7" height="18.8" fill-opacity="0.76"/><rect x="541.8" y="1885.4" width="2.2" height="18.8" fill-opacity="0.96"/><rect x="546.8" y="1885.4" width="4.3" height="18.8" fill-opacity="0.32"/><rect x="546.8" y="1885.4" width="1.4" height="18.8" fill-opacity="0.73"/><rect x="548.2" y="1885.4" width="1.4" height="18.8" fill-opacity="0.73"/><rect x="549.7" y="1885.4" width="1.4" height="18.8" fill-opacity="0.73"/><rect x="557.8" y="1885.4" width="2.2" height="18.8" fill-opacity="0.96"/><rect x="562" y="1885.4" width="7.2" height="18.8" fill-opacity="0.63"/><rect x="562" y="1885.4" width="1.4" height="18.8" fill-opacity="0.88"/><rect x="563.8" y="1885.4" width="1.4" height="18.8" fill-opacity="0.88"/><rect x="566.1" y="1885.4" width="1.4" height="18.8" fill-opacity="0.88"/><rect x="567.8" y="1885.4" width="1.4" height="18.8" fill-opacity="0.88"/><rect x="572.1" y="1885.4" width="4.5" height="18.8" fill-opacity="0.32"/><rect x="572.1" y="1885.4" width="1.4" height="18.8" fill-opacity="0.73"/><rect x="573.8" y="1885.4" width="1.4" height="18.8" fill-opacity="0.73"/><rect x="575.2" y="1885.4" width="1.4" height="18.8" fill-opacity="0.73"/><rect x="580" y="1885.4" width="7.3" height="18.8" fill-opacity="0.32"/><rect x="580" y="1885.4" width="1.4" height="18.8" fill-opacity="0.73"/><rect x="581.7" y="1885.4" width="1.4" height="18.8" fill-opacity="0.73"/><rect x="584.1" y="1885.4" width="1.4" height="18.8" fill-opacity="0.73"/><rect x="585.9" y="1885.4" width="1.4" height="18.8" fill-opacity="0.73"/><rect x="592.4" y="1885.4" width="7.8" height="18.8" fill-opacity="0.63"/><rect x="592.4" y="1885.4" width="1.4" height="18.8" fill-opacity="0.88"/><rect x="594.5" y="1885.4" width="1.4" height="18.8" fill-opacity="0.88"/><rect x="596.4" y="1885.4" width="1.4" height="18.8" fill-opacity="0.88"/><rect x="598.8" y="1885.4" width="1.4" height="18.8" fill-opacity="0.88"/><rect x="601.9" y="1885.4" width="8.3" height="18.8" fill-opacity="0.73"/><rect x="601.9" y="1885.4" width="1.4" height="18.8" fill-opacity="0.93"/><rect x="603.9" y="1885.4" width="1.4" height="18.8" fill-opacity="0.93"/><rect x="605.4" y="1885.4" width="1.4" height="18.8" fill-opacity="0.93"/><rect x="606.8" y="1885.4" width="1.4" height="18.8" fill-opacity="0.93"/><rect x="608.8" y="1885.4" width="1.4" height="18.8" fill-opacity="0.93"/><rect x="616.2" y="1885.4" width="3.3" height="18.8" fill-opacity="0.73"/><rect x="616.2" y="1885.4" width="1.4" height="18.8" fill-opacity="0.93"/><rect x="618.1" y="1885.4" width="1.4" height="18.8" fill-opacity="0.93"/><rect x="623.6" y="1885.4" width="3.6" height="18.8" fill-opacity="0.92"/><rect x="623.6" y="1885.4" width="1.4" height="18.8" fill-opacity="0.95"/><rect x="624.8" y="1885.4" width="1.4" height="18.8" fill-opacity="0.95"/><rect x="625.8" y="1885.4" width="1.4" height="18.8" fill-opacity="0.95"/><rect x="632.2" y="1885.4" width="2" height="18.8" fill-opacity="0.71"/><rect x="637.7" y="1885.4" width="3.8" height="18.8" fill-opacity="0.63"/><rect x="637.7" y="1885.4" width="1.4" height="18.8" fill-opacity="0.88"/><rect x="638.9" y="1885.4" width="1.4" height="18.8" fill-opacity="0.88"/><rect x="640.1" y="1885.4" width="1.4" height="18.8" fill-opacity="0.88"/><rect x="642.9" y="1885.4" width="5" height="18.8" fill-opacity="0.21"/><rect x="642.9" y="1885.4" width="1.4" height="18.8" fill-opacity="0.68"/><rect x="644.9" y="1885.4" width="1.4" height="18.8" fill-opacity="0.68"/><rect x="646.5" y="1885.4" width="1.4" height="18.8" fill-opacity="0.68"/><rect x="650.8" y="1885.4" width="2" height="18.8" fill-opacity="0.76"/><rect x="659.3" y="1885.4" width="2" height="18.8" fill-opacity="0.97"/><rect x="667" y="1885.4" width="2" height="18.8" fill-opacity="0.66"/><rect x="683.2" y="1885.4" width="5.7" height="18.8" fill-opacity="0.63"/><rect x="683.2" y="1885.4" width="1.4" height="18.8" fill-opacity="0.88"/><rect x="685.4" y="1885.4" width="1.4" height="18.8" fill-opacity="0.88"/><rect x="687.5" y="1885.4" width="1.4" height="18.8" fill-opacity="0.88"/><rect x="692" y="1885.4" width="2.2" height="18.8" fill-opacity="0.97"/><rect x="707.5" y="1885.4" width="4.6" height="18.8" fill-opacity="0.32"/><rect x="707.5" y="1885.4" width="1.4" height="18.8" fill-opacity="0.73"/><rect x="709" y="1885.4" width="1.4" height="18.8" fill-opacity="0.73"/><rect x="710.7" y="1885.4" width="1.4" height="18.8" fill-opacity="0.73"/><rect x="735.2" y="1885.4" width="2" height="18.8" fill-opacity="0.71"/><rect x="741.9" y="1885.4" width="5.2" height="18.8" fill-opacity="0.42"/><rect x="741.9" y="1885.4" width="1.4" height="18.8" fill-opacity="0.78"/><rect x="743.6" y="1885.4" width="1.4" height="18.8" fill-opacity="0.78"/><rect x="745.7" y="1885.4" width="1.4" height="18.8" fill-opacity="0.78"/><rect x="759.9" y="1885.4" width="1.9" height="18.8" fill-opacity="0.71"/><rect x="767.1" y="1885.4" width="1.8" height="18.8" fill-opacity="0.76"/><rect x="773.1" y="1885.4" width="2.4" height="18.8" fill-opacity="0.96"/><rect x="778.4" y="1885.4" width="5.7" height="18.8" fill-opacity="0.92"/><rect x="778.4" y="1885.4" width="1.4" height="18.8" fill-opacity="0.95"/><rect x="780.7" y="1885.4" width="1.4" height="18.8" fill-opacity="0.95"/><rect x="782.7" y="1885.4" width="1.4" height="18.8" fill-opacity="0.95"/><rect x="786" y="1885.4" width="1.8" height="18.8" fill-opacity="0.76"/><rect x="790" y="1885.4" width="1.9" height="18.8" fill-opacity="0.76"/><rect x="796.2" y="1885.4" width="1.9" height="18.8" fill-opacity="0.76"/><rect x="812" y="1885.4" width="5.4" height="18.8" fill-opacity="0.42"/><rect x="812" y="1885.4" width="1.4" height="18.8" fill-opacity="0.78"/><rect x="813.9" y="1885.4" width="1.4" height="18.8" fill-opacity="0.78"/><rect x="816" y="1885.4" width="1.4" height="18.8" fill-opacity="0.78"/><rect x="820.8" y="1885.4" width="2" height="18.8" fill-opacity="0.76"/><rect x="858.4" y="1885.4" width="1.9" height="18.8" fill-opacity="0.71"/></g>
<path d="M109.8 2518.9 L111.8 2515.9 L113.8 2512.8 L115.8 2509.7 L117.8 2506.6 L119.8 2503.5 L121.8 2500.4 L123.8 2497.2 L125.8 2494 L127.8 2490.8 L129.8 2487.6 L131.8 2484.4 L133.8 2481.1 L135.8 2477.9 L137.8 2474.6 L139.8 2471.3 L141.8 2468 L143.8 2464.6 L145.8 2461.3 L147.8 2457.9 L149.8 2454.6 L151.8 2451.2 L153.8 2447.8 L155.8 2444.4 L157.8 2441 L159.8 2437.6 L161.8 2434.2 L163.8 2430.8 L165.8 2427.3 L167.8 2423.9 L169.8 2420.5 L171.9 2417 L173.9 2413.6 L175.9 2410.1 L177.9 2406.7 L179.9 2403.2 L181.9 2399.8 L183.9 2396.3 L185.9 2392.9 L187.9 2389.4 L189.9 2386 L191.9 2382.5 L193.9 2379.1 L195.9 2375.6 L197.9 2372.2 L199.9 2368.7 L201.9 2365.3 L203.9 2361.9 L205.9 2358.4 L207.9 2355 L209.9 2351.6 L211.9 2348.1 L213.9 2344.7 L215.9 2341.3 L217.9 2337.9 L219.9 2334.5 L221.9 2331.1 L223.9 2327.7 L225.9 2324.3 L227.9 2321 L229.9 2317.6 L231.9 2314.2 L233.9 2310.9 L235.9 2307.5 L237.9 2304.2 L239.9 2300.9 L241.9 2297.6 L243.9 2294.3 L245.9 2291 L247.9 2287.7 L249.9 2284.4 L251.9 2281.2 L253.9 2277.9 L255.9 2274.7 L257.9 2271.5 L259.9 2268.3 L261.9 2265.1 L263.9 2261.9 L265.9 2258.7 L267.9 2255.6 L269.9 2252.4 L271.9 2249.3 L273.9 2246.2 L275.9 2243.1 L277.9 2240.1 L279.9 2237 L281.9 2234 L283.9 2230.9 L285.9 2227.9 L287.9 2225 L289.9 2222 L291.9 2219 L294 2216.1 L296 2213.2 L298 2210.3 L300 2207.4 L302 2204.5 L304 2201.7 L306 2198.9 L308 2196.1 L310 2193.3 L312 2190.5 L314 2187.8 L316 2185.1 L318 2182.4 L320 2179.7 L322 2177 L324 2174.4 L326 2171.8 L328 2169.2 L330 2166.6 L332 2164 L334 2161.5 L336 2159 L338 2156.5 L340 2154.1 L342 2151.6 L344 2149.2 L346 2146.8 L348 2144.4 L350 2142.1 L352 2139.8 L354 2137.5 L356 2135.2 L358 2133 L360 2130.7 L362 2128.5 L364 2126.4 L366 2124.2 L368 2122.1 L370 2120 L372 2118 L374 2115.9 L376 2113.9 L378 2111.9 L380 2110 L382 2108 L384 2106.1 L386 2104.3 L388 2102.4 L390 2100.6 L392 2098.8 L394 2097 L396 2095.3 L398 2093.6 L400 2091.9 L402 2090.3 L404 2088.6 L406 2087 L408 2085.5 L410 2083.9 L412 2082.4 L414 2080.9 L416.1 2079.4 L418.1 2078 L420.1 2076.6 L422.1 2075.2 L424.1 2073.8 L426.1 2072.5 L428.1 2071.1 L430.1 2069.8 L432.1 2068.6 L434.1 2067.3 L436.1 2066.1 L438.1 2064.9 L440.1 2063.7 L442.1 2062.5 L444.1 2061.4 L446.1 2060.2 L448.1 2059.1 L450.1 2058.1 L452.1 2057 L454.1 2056 L456.1 2055 L458.1 2054 L460.1 2053 L462.1 2052 L464.1 2051.1 L466.1 2050.2 L468.1 2049.3 L470.1 2048.4 L472.1 2047.5 L474.1 2046.7 L476.1 2045.9 L478.1 2045 L480.1 2044.3 L482.1 2043.5 L484.1 2042.7 L486.1 2042 L488.1 2041.3 L490.1 2040.6 L492.1 2039.9 L494.1 2039.2 L496.1 2038.5 L498.1 2037.9 L500.1 2037.3 L502.1 2036.6 L504.1 2036 L506.1 2035.5 L508.1 2034.9 L510.1 2034.3 L512.1 2033.8 L514.1 2033.3 L516.1 2032.7 L518.1 2032.2 L520.1 2031.7 L522.1 2031.3 L524.1 2030.8 L526.1 2030.4 L528.1 2029.9 L530.1 2029.5 L532.1 2029.1 L534.1 2028.7 L536.1 2028.3 L538.2 2027.9 L540.2 2027.5 L542.2 2027.1 L544.2 2026.8 L546.2 2026.4 L548.2 2026.1 L550.2 2025.8 L552.2 2025.5 L554.2 2025.2 L556.2 2024.9 L558.2 2024.6 L560.2 2024.3 L562.2 2024 L564.2 2023.8 L566.2 2023.5 L568.2 2023.3 L570.2 2023.1 L572.2 2022.8 L574.2 2022.6 L576.2 2022.4 L578.2 2022.2 L580.2 2022 L582.2 2021.8 L584.2 2021.7 L586.2 2021.5 L588.2 2021.3 L590.2 2021.2 L592.2 2021 L594.2 2020.9 L596.2 2020.7 L598.2 2020.6 L600.2 2020.5 L602.2 2020.3 L604.2 2020.2 L606.2 2020.1 L608.2 2020 L610.2 2019.9 L612.2 2019.8 L614.2 2019.7 L616.2 2019.6 L618.2 2019.5 L620.2 2019.4 L622.2 2019.4 L624.2 2019.3 L626.2 2019.2 L628.2 2019.2 L630.2 2019.1 L632.2 2019 L634.2 2019 L636.2 2018.9 L638.2 2018.9 L640.2 2018.8 L642.2 2018.8 L644.2 2018.7 L646.2 2018.7 L648.2 2018.7 L650.2 2018.6 L652.2 2018.6 L654.2 2018.6 L656.2 2018.5 L658.2 2018.5 L660.3 2018.5 L662.3 2018.4 L664.3 2018.4 L666.3 2018.4 L668.3 2018.3 L670.3 2018.3 L672.3 2018.3 L674.3 2018.2 L676.3 2018.2 L678.3 2018.2 L680.3 2018.1 L682.3 2018.1 L684.3 2018 L686.3 2018 L688.3 2018 L690.3 2017.9 L692.3 2017.9 L694.3 2017.9 L696.3 2017.8 L698.3 2017.8 L700.3 2017.7 L702.3 2017.7 L704.3 2017.6 L706.3 2017.6 L708.3 2017.6 L710.3 2017.5 L712.3 2017.5 L714.3 2017.4 L716.3 2017.4 L718.3 2017.3 L720.3 2017.3 L722.3 2017.2 L724.3 2017.2 L726.3 2017.1 L728.3 2017.1 L730.3 2017.1 L732.3 2017 L734.3 2017 L736.3 2016.9 L738.3 2016.9 L740.3 2016.8 L742.3 2016.8 L744.3 2016.7 L746.3 2016.7 L748.3 2016.6 L750.3 2016.6 L752.3 2016.5 L754.3 2016.5 L756.3 2016.5 L758.3 2016.4 L760.3 2016.4 L762.3 2016.3 L764.3 2016.3 L766.3 2016.2 L768.3 2016.2 L770.3 2016.1 L772.3 2016.1 L774.3 2016.1 L776.3 2016 L778.3 2016 L780.3 2015.9 L782.4 2015.9 L784.4 2015.9 L786.4 2015.8 L788.4 2015.8 L790.4 2015.8 L792.4 2015.7 L794.4 2015.7 L796.4 2015.7 L798.4 2015.6 L800.4 2015.6 L802.4 2015.6 L804.4 2015.5 L806.4 2015.5 L808.4 2015.5 L810.4 2015.4 L812.4 2015.4 L814.4 2015.4 L816.4 2015.4 L818.4 2015.4 L820.4 2015.3 L822.4 2015.3 L824.4 2015.3 L826.4 2015.3 L828.4 2015.3 L830.4 2015.3 L832.4 2015.2 L834.4 2015.2 L836.4 2015.2 L838.4 2015.2 L840.4 2015.2 L842.4 2015.2" fill="none" stroke="#0d0d0d" stroke-width="7.6" stroke-linejoin="round"/>
<path d="M109.8 2518.9 L111.8 2515.9 L113.8 2512.8 L115.8 2509.7 L117.8 2506.6 L119.8 2503.5 L121.8 2500.4 L123.8 2497.2 L125.8 2494 L127.8 2490.8 L129.8 2487.6 L131.8 2484.4 L133.8 2481.1 L135.8 2477.9 L137.8 2474.6 L139.8 2471.3 L141.8 2468 L143.8 2464.6 L145.8 2461.3 L147.8 2457.9 L149.8 2454.6 L151.8 2451.2 L153.8 2447.8 L155.8 2444.4 L157.8 2441 L159.8 2437.6 L161.8 2434.2 L163.8 2430.8 L165.8 2427.3 L167.8 2423.9 L169.8 2420.5 L171.9 2417 L173.9 2413.6 L175.9 2410.1 L177.9 2406.7 L179.9 2403.2 L181.9 2399.8 L183.9 2396.3 L185.9 2392.9 L187.9 2389.4 L189.9 2386 L191.9 2382.5 L193.9 2379.1 L195.9 2375.6 L197.9 2372.2 L199.9 2368.7 L201.9 2365.3 L203.9 2361.9 L205.9 2358.4 L207.9 2355 L209.9 2351.6 L211.9 2348.1 L213.9 2344.7 L215.9 2341.3 L217.9 2337.9 L219.9 2334.5 L221.9 2331.1 L223.9 2327.7 L225.9 2324.3 L227.9 2321 L229.9 2317.6 L231.9 2314.2 L233.9 2310.9 L235.9 2307.5 L237.9 2304.2 L239.9 2300.9 L241.9 2297.6 L243.9 2294.3 L245.9 2291 L247.9 2287.7 L249.9 2284.4 L251.9 2281.2 L253.9 2277.9 L255.9 2274.7 L257.9 2271.5 L259.9 2268.3 L261.9 2265.1 L263.9 2261.9 L265.9 2258.7 L267.9 2255.6 L269.9 2252.4 L271.9 2249.3 L273.9 2246.2 L275.9 2243.1 L277.9 2240.1 L279.9 2237 L281.9 2234 L283.9 2230.9 L285.9 2227.9 L287.9 2225 L289.9 2222 L291.9 2219 L294 2216.1 L296 2213.2 L298 2210.3 L300 2207.4 L302 2204.5 L304 2201.7 L306 2198.9 L308 2196.1 L310 2193.3 L312 2190.5 L314 2187.8 L316 2185.1 L318 2182.4 L320 2179.7 L322 2177 L324 2174.4 L326 2171.8 L328 2169.2 L330 2166.6 L332 2164 L334 2161.5 L336 2159 L338 2156.5 L340 2154.1 L342 2151.6 L344 2149.2 L346 2146.8 L348 2144.4 L350 2142.1 L352 2139.8 L354 2137.5 L356 2135.2 L358 2133 L360 2130.7 L362 2128.5 L364 2126.4 L366 2124.2 L368 2122.1 L370 2120 L372 2118 L374 2115.9 L376 2113.9 L378 2111.9 L380 2110 L382 2108 L384 2106.1 L386 2104.3 L388 2102.4 L390 2100.6 L392 2098.8 L394 2097 L396 2095.3 L398 2093.6 L400 2091.9 L402 2090.3 L404 2088.6 L406 2087 L408 2085.5 L410 2083.9 L412 2082.4 L414 2080.9 L416.1 2079.4 L418.1 2078 L420.1 2076.6 L422.1 2075.2 L424.1 2073.8 L426.1 2072.5 L428.1 2071.1 L430.1 2069.8 L432.1 2068.6 L434.1 2067.3 L436.1 2066.1 L438.1 2064.9 L440.1 2063.7 L442.1 2062.5 L444.1 2061.4 L446.1 2060.2 L448.1 2059.1 L450.1 2058.1 L452.1 2057 L454.1 2056 L456.1 2055 L458.1 2054 L460.1 2053 L462.1 2052 L464.1 2051.1 L466.1 2050.2 L468.1 2049.3 L470.1 2048.4 L472.1 2047.5 L474.1 2046.7 L476.1 2045.9 L478.1 2045 L480.1 2044.3 L482.1 2043.5 L484.1 2042.7 L486.1 2042 L488.1 2041.3 L490.1 2040.6 L492.1 2039.9 L494.1 2039.2 L496.1 2038.5 L498.1 2037.9 L500.1 2037.3 L502.1 2036.6 L504.1 2036 L506.1 2035.5 L508.1 2034.9 L510.1 2034.3 L512.1 2033.8 L514.1 2033.3 L516.1 2032.7 L518.1 2032.2 L520.1 2031.7 L522.1 2031.3 L524.1 2030.8 L526.1 2030.4 L528.1 2029.9 L530.1 2029.5 L532.1 2029.1 L534.1 2028.7 L536.1 2028.3 L538.2 2027.9 L540.2 2027.5 L542.2 2027.1 L544.2 2026.8 L546.2 2026.4 L548.2 2026.1 L550.2 2025.8 L552.2 2025.5 L554.2 2025.2 L556.2 2024.9 L558.2 2024.6 L560.2 2024.3 L562.2 2024 L564.2 2023.8 L566.2 2023.5 L568.2 2023.3 L570.2 2023.1 L572.2 2022.8 L574.2 2022.6 L576.2 2022.4 L578.2 2022.2 L580.2 2022 L582.2 2021.8 L584.2 2021.7 L586.2 2021.5 L588.2 2021.3 L590.2 2021.2 L592.2 2021 L594.2 2020.9 L596.2 2020.7 L598.2 2020.6 L600.2 2020.5 L602.2 2020.3 L604.2 2020.2 L606.2 2020.1 L608.2 2020 L610.2 2019.9 L612.2 2019.8 L614.2 2019.7 L616.2 2019.6 L618.2 2019.5 L620.2 2019.4 L622.2 2019.4 L624.2 2019.3 L626.2 2019.2 L628.2 2019.2 L630.2 2019.1 L632.2 2019 L634.2 2019 L636.2 2018.9 L638.2 2018.9 L640.2 2018.8 L642.2 2018.8 L644.2 2018.7 L646.2 2018.7 L648.2 2018.7 L650.2 2018.6 L652.2 2018.6 L654.2 2018.6 L656.2 2018.5 L658.2 2018.5 L660.3 2018.5 L662.3 2018.4 L664.3 2018.4 L666.3 2018.4 L668.3 2018.3 L670.3 2018.3 L672.3 2018.3 L674.3 2018.2 L676.3 2018.2 L678.3 2018.2 L680.3 2018.1 L682.3 2018.1 L684.3 2018 L686.3 2018 L688.3 2018 L690.3 2017.9 L692.3 2017.9 L694.3 2017.9 L696.3 2017.8 L698.3 2017.8 L700.3 2017.7 L702.3 2017.7 L704.3 2017.6 L706.3 2017.6 L708.3 2017.6 L710.3 2017.5 L712.3 2017.5 L714.3 2017.4 L716.3 2017.4 L718.3 2017.3 L720.3 2017.3 L722.3 2017.2 L724.3 2017.2 L726.3 2017.1 L728.3 2017.1 L730.3 2017.1 L732.3 2017 L734.3 2017 L736.3 2016.9 L738.3 2016.9 L740.3 2016.8 L742.3 2016.8 L744.3 2016.7 L746.3 2016.7 L748.3 2016.6 L750.3 2016.6 L752.3 2016.5 L754.3 2016.5 L756.3 2016.5 L758.3 2016.4 L760.3 2016.4 L762.3 2016.3 L764.3 2016.3 L766.3 2016.2 L768.3 2016.2 L770.3 2016.1 L772.3 2016.1 L774.3 2016.1 L776.3 2016 L778.3 2016 L780.3 2015.9 L782.4 2015.9 L784.4 2015.9 L786.4 2015.8 L788.4 2015.8 L790.4 2015.8 L792.4 2015.7 L794.4 2015.7 L796.4 2015.7 L798.4 2015.6 L800.4 2015.6 L802.4 2015.6 L804.4 2015.5 L806.4 2015.5 L808.4 2015.5 L810.4 2015.4 L812.4 2015.4 L814.4 2015.4 L816.4 2015.4 L818.4 2015.4 L820.4 2015.3 L822.4 2015.3 L824.4 2015.3 L826.4 2015.3 L828.4 2015.3 L830.4 2015.3 L832.4 2015.2 L834.4 2015.2 L836.4 2015.2 L838.4 2015.2 L840.4 2015.2 L842.4 2015.2" fill="none" stroke="#fff" stroke-opacity="0.13" stroke-width="7.6" stroke-dasharray="0.8 1.7 0.5 2.6 1.1 2.1" stroke-linejoin="round"/>
<path d="M89.2 1854.4V2628.7H863.4M75.6 2608.2H89.2M75.6 2518.9H89.2M75.6 2429.6H89.2M75.6 2340.2H89.2M75.6 2250.8H89.2M75.6 2161.5H89.2M75.6 2072.2H89.2M75.6 1982.8H89.2M109.2 2628.7V2642.3M231.3 2628.7V2642.3M353.4 2628.7V2642.3M475.5 2628.7V2642.3M597.6 2628.7V2642.3M719.7 2628.7V2642.3M841.8 2628.7V2642.3" stroke="#000" stroke-width="2" fill="none" stroke-linecap="butt" stroke-linejoin="miter"/>
<g font-family='"Liberation Sans", Arial, Helvetica, sans-serif' font-size="32.7" text-anchor="middle" fill="#000" stroke="#000" stroke-width="0.75" stroke-linejoin="round"><text x="109.2" y="2674.1">0</text><text x="231.3" y="2674.1">10</text><text x="353.4" y="2674.1">20</text><text x="475.5" y="2674.1">30</text><text x="597.6" y="2674.1">40</text><text x="719.7" y="2674.1">50</text><text x="841.8" y="2674.1">60</text><text x="475.5" y="2710">NfL</text><text transform="translate(62 2608.2) rotate(-90)">0.5</text><text transform="translate(62 2518.9) rotate(-90)">1.0</text><text transform="translate(62 2429.6) rotate(-90)">2.0</text><text transform="translate(62 2340.2) rotate(-90)">4.0</text><text transform="translate(62 2250.8) rotate(-90)">8.0</text><text transform="translate(62 2161.5) rotate(-90)">16.0</text><text transform="translate(62 2072.2) rotate(-90)">32.0</text><text transform="translate(62 1982.8) rotate(-90)">64.0</text><text transform="translate(25.8 2241.6) rotate(-90)">Adjusted HR</text></g>
</g>
<g id="panel6">
<path d="M1018.5 2608.6H1790.5M1018.5 2425.1H1790.5M1018.5 2333.3H1790.5M1018.5 2241.6H1790.5M1018.5 2149.8H1790.5M1018.5 2058.1H1790.5M1018.5 1966.3H1790.5" stroke="#e6edef" stroke-width="2.1" fill="none"/>
<path d="M1056.9 2608.5 L1056.9 2553.3 L1058.4 2547.2 L1059.9 2540.8 L1061.4 2534 L1062.9 2527 L1064.4 2519.6 L1065.9 2512 L1067.4 2504.2 L1068.9 2496.2 L1070.4 2488.1 L1071.9 2479.8 L1073.4 2471.3 L1074.9 2462.8 L1076.4 2454.3 L1077.9 2445.7 L1079.4 2437 L1080.9 2428.4 L1082.4 2419.9 L1083.9 2411.3 L1085.4 2402.7 L1086.9 2394 L1088.4 2385.1 L1089.9 2376.1 L1091.4 2367.1 L1092.9 2358.2 L1094.4 2349.4 L1095.9 2341 L1097.4 2332.7 L1098.9 2324.2 L1100.4 2315.3 L1101.9 2305.5 L1103.4 2294.7 L1104.9 2283.3 L1106.4 2271.7 L1107.9 2260.3 L1109.4 2249.1 L1110.9 2237.9 L1112.4 2226.7 L1113.9 2215.3 L1115.4 2203.6 L1116.9 2191.4 L1118.4 2178.9 L1119.9 2166.3 L1121.4 2153.8 L1122.9 2141.9 L1124.4 2130.4 L1125.9 2119.6 L1127.4 2109.5 L1128.9 2099.9 L1130.4 2091 L1131.9 2082.4 L1133.4 2074.2 L1134.9 2066.2 L1136.4 2058.4 L1137.9 2050.5 L1139.4 2042.5 L1140.9 2034.6 L1142.4 2026.6 L1143.8 2018.8 L1145.3 2011.2 L1146.8 2003.7 L1148.3 1996.5 L1149.8 1989.5 L1151.3 1982.7 L1152.8 1976.2 L1154.3 1969.9 L1155.8 1963.7 L1157.3 1957.8 L1158.8 1952 L1160.3 1946.4 L1161.8 1941 L1163.3 1935.7 L1164.8 1930.5 L1166.3 1925.5 L1167.8 1920.6 L1169.3 1915.8 L1170.8 1911.2 L1172.3 1906.9 L1173.8 1902.7 L1175.3 1898.8 L1176.8 1895.2 L1178.3 1892 L1179.8 1889 L1181.3 1886.5 L1182.8 1884.3 L1184.3 1882.5 L1185.8 1881.1 L1187.3 1879.9 L1188.8 1879 L1190.3 1878.3 L1191.8 1877.9 L1193.3 1877.6 L1194.8 1877.4 L1196.3 1877.3 L1197.8 1877.3 L1199.3 1877.4 L1200.8 1877.6 L1202.3 1877.9 L1203.8 1878.3 L1205.3 1878.8 L1206.8 1879.5 L1208.3 1880.3 L1209.8 1881.4 L1211.3 1882.6 L1212.8 1884.1 L1214.3 1885.8 L1215.8 1887.7 L1217.3 1889.8 L1218.8 1892 L1220.3 1894.2 L1221.8 1896.5 L1223.3 1898.6 L1224.8 1900.6 L1226.3 1902.5 L1227.8 1904.3 L1229.3 1906.2 L1230.8 1908.2 L1232.3 1910.3 L1233.8 1912.7 L1235.3 1915.3 L1236.8 1918.1 L1238.3 1921.1 L1239.8 1924.3 L1241.3 1927.7 L1242.8 1931.2 L1244.3 1935 L1245.8 1938.8 L1247.3 1942.8 L1248.8 1946.9 L1250.3 1951.1 L1251.8 1955.4 L1253.3 1959.8 L1254.8 1964.3 L1256.3 1968.8 L1257.8 1973.3 L1259.3 1977.9 L1260.8 1982.5 L1262.3 1987.2 L1263.8 1991.8 L1265.3 1996.5 L1266.8 2001.1 L1268.3 2005.8 L1269.8 2010.4 L1271.3 2015 L1272.8 2019.6 L1274.3 2024.1 L1275.8 2028.6 L1277.3 2033 L1278.8 2037.4 L1280.3 2041.7 L1281.8 2045.9 L1283.3 2050.1 L1284.8 2054.3 L1286.3 2058.4 L1287.8 2062.5 L1289.3 2066.7 L1290.8 2070.8 L1292.3 2075 L1293.8 2079.2 L1295.3 2083.5 L1296.8 2087.9 L1298.3 2092.3 L1299.8 2096.8 L1301.3 2101.5 L1302.8 2106.2 L1304.3 2111.1 L1305.8 2116.1 L1307.3 2121.2 L1308.8 2126.3 L1310.3 2131.6 L1311.8 2136.9 L1313.3 2142.3 L1314.8 2147.8 L1316.2 2153.3 L1317.7 2158.8 L1319.2 2164.4 L1320.7 2170 L1322.2 2175.6 L1323.7 2181.2 L1325.2 2186.7 L1326.7 2192.3 L1328.2 2197.8 L1329.7 2203.4 L1331.2 2208.9 L1332.7 2214.4 L1334.2 2219.9 L1335.7 2225.3 L1337.2 2230.8 L1338.7 2236.2 L1340.2 2241.6 L1341.7 2247 L1343.2 2252.3 L1344.7 2257.7 L1346.2 2263 L1347.7 2268.3 L1349.2 2273.6 L1350.7 2278.8 L1352.2 2284 L1353.7 2289.1 L1355.2 2294.1 L1356.7 2299.1 L1358.2 2303.9 L1359.7 2308.5 L1361.2 2313 L1362.7 2317.4 L1364.2 2321.5 L1365.7 2325.4 L1367.2 2329.2 L1368.7 2332.6 L1370.2 2335.8 L1371.7 2338.8 L1373.2 2341.5 L1374.7 2344.1 L1376.2 2346.5 L1377.7 2348.8 L1379.2 2351.1 L1380.7 2353.3 L1382.2 2355.6 L1383.7 2357.9 L1385.2 2360.1 L1386.7 2362.4 L1388.2 2364.6 L1389.7 2366.7 L1391.2 2368.6 L1392.7 2370.4 L1394.2 2372 L1395.7 2373.4 L1397.2 2374.7 L1398.7 2375.7 L1400.2 2376.7 L1401.7 2377.5 L1403.2 2378.2 L1404.7 2378.8 L1406.2 2379.4 L1407.7 2379.9 L1409.2 2380.5 L1410.7 2381 L1412.2 2381.5 L1413.7 2382.1 L1415.2 2382.8 L1416.7 2383.5 L1418.2 2384.4 L1419.7 2385.3 L1421.2 2386.4 L1422.7 2387.5 L1424.2 2388.6 L1425.7 2389.9 L1427.2 2391.2 L1428.7 2392.5 L1430.2 2393.8 L1431.7 2395.2 L1433.2 2396.6 L1434.7 2398 L1436.2 2399.4 L1437.7 2400.8 L1439.2 2402.2 L1440.7 2403.5 L1442.2 2404.8 L1443.7 2406.1 L1445.2 2407.3 L1446.7 2408.6 L1448.2 2409.9 L1449.7 2411.1 L1451.2 2412.4 L1452.7 2413.7 L1454.2 2415 L1455.7 2416.4 L1457.2 2417.8 L1458.7 2419.2 L1460.2 2420.8 L1461.7 2422.3 L1463.2 2424 L1464.7 2425.7 L1466.2 2427.5 L1467.7 2429.3 L1469.2 2431.2 L1470.7 2433.1 L1472.2 2435.1 L1473.7 2437.1 L1475.2 2439.1 L1476.7 2441.2 L1478.2 2443.3 L1479.7 2445.4 L1481.2 2447.5 L1482.7 2449.6 L1484.2 2451.7 L1485.7 2453.8 L1487.2 2455.9 L1488.7 2458 L1490.1 2460.1 L1491.6 2462.1 L1493.1 2464.1 L1494.6 2466.1 L1496.1 2468.1 L1497.6 2469.9 L1499.1 2471.8 L1500.6 2473.6 L1502.1 2475.3 L1503.6 2477 L1505.1 2478.6 L1506.6 2480.1 L1508.1 2481.5 L1509.6 2482.9 L1511.1 2484.1 L1512.6 2485.3 L1514.1 2486.4 L1515.6 2487.3 L1517.1 2488.2 L1518.6 2488.9 L1520.1 2489.6 L1521.6 2490.2 L1523.1 2490.8 L1524.6 2491.3 L1526.1 2491.9 L1527.6 2492.4 L1529.1 2493.1 L1530.6 2493.8 L1532.1 2494.6 L1533.6 2495.4 L1535.1 2496.4 L1536.6 2497.3 L1538.1 2498.4 L1539.6 2499.4 L1541.1 2500.5 L1542.6 2501.6 L1544.1 2502.6 L1545.6 2503.7 L1547.1 2504.7 L1548.6 2505.6 L1550.1 2506.5 L1551.6 2507.4 L1553.1 2508.1 L1554.6 2508.9 L1556.1 2509.5 L1557.6 2510.1 L1559.1 2510.7 L1560.6 2511.1 L1562.1 2511.5 L1563.6 2511.9 L1565.1 2512.1 L1566.6 2512.3 L1568.1 2512.5 L1569.6 2512.5 L1571.1 2512.5 L1572.6 2512.5 L1574.1 2512.4 L1575.6 2512.3 L1577.1 2512.2 L1578.6 2512.1 L1580.1 2512 L1581.6 2511.9 L1583.1 2511.9 L1584.6 2512 L1586.1 2512.1 L1587.6 2512.3 L1589.1 2512.6 L1590.6 2513 L1592.1 2513.5 L1593.6 2514.2 L1595.1 2515 L1596.6 2515.8 L1598.1 2516.7 L1599.6 2517.7 L1601.1 2518.7 L1602.6 2519.8 L1604.1 2520.8 L1605.6 2521.9 L1607.1 2522.9 L1608.6 2523.9 L1610.1 2524.9 L1611.6 2525.8 L1613.1 2526.7 L1614.6 2527.4 L1616.1 2528.1 L1617.6 2528.7 L1619.1 2529.2 L1620.6 2529.6 L1622.1 2530 L1623.6 2530.3 L1625.1 2530.6 L1626.6 2530.8 L1628.1 2530.9 L1629.6 2531.1 L1631.1 2531.2 L1632.6 2531.3 L1634.1 2531.4 L1635.6 2531.5 L1637.1 2531.5 L1638.6 2531.6 L1640.1 2531.7 L1641.6 2531.8 L1643.1 2532 L1644.6 2532.1 L1646.1 2532.4 L1647.6 2532.6 L1649.1 2532.9 L1650.6 2533.3 L1652.1 2533.6 L1653.6 2534 L1655.1 2534.5 L1656.6 2534.9 L1658.1 2535.4 L1659.6 2535.9 L1661.1 2536.4 L1662.5 2536.9 L1664 2537.5 L1665.5 2538 L1667 2538.5 L1668.5 2539.1 L1670 2539.6 L1671.5 2540.1 L1673 2540.7 L1674.5 2541.2 L1676 2541.7 L1677.5 2542.1 L1679 2542.6 L1680.5 2543 L1682 2543.4 L1683.5 2543.8 L1685 2544.2 L1686.5 2544.6 L1688 2544.9 L1689.5 2545.3 L1691 2545.7 L1692.5 2546.1 L1694 2546.6 L1695.5 2547.1 L1697 2547.6 L1698.5 2548.2 L1700 2548.8 L1701.5 2549.5 L1703 2550.3 L1704.5 2551.1 L1706 2552.1 L1707.5 2553.1 L1709 2554.2 L1710.5 2555.4 L1712 2556.7 L1713.5 2558.1 L1715 2559.6 L1716.5 2561.1 L1718 2562.6 L1719.5 2564.2 L1721 2565.8 L1722.5 2567.4 L1724 2569 L1725.5 2570.7 L1727 2572.3 L1728.5 2573.8 L1730 2575.3 L1731.5 2576.8 L1733 2578.2 L1734.5 2579.6 L1736 2580.8 L1737.5 2582 L1739 2583 L1740.5 2584 L1742 2584.8 L1743.5 2585.4 L1745 2585.9 L1746.5 2586.3 L1748 2586.5 L1748 2608.5Z" fill="rgba(120,210,135,0.2)" stroke="rgba(95,145,110,0.28)" stroke-width="2" stroke-linejoin="round"/>
<path d="M1016 2516.8H1790.5" stroke="#b00a30" stroke-width="2.7" fill="none"/>
<path d="M1057.5 2516.8 L1059.5 2512.9 L1061.5 2508.9 L1063.5 2505.1 L1065.5 2501.2 L1067.5 2497.4 L1069.5 2493.6 L1071.5 2489.9 L1073.5 2486.1 L1075.5 2482.4 L1077.5 2478.7 L1079.5 2475 L1081.5 2471.3 L1083.5 2467.7 L1085.5 2464 L1087.5 2460.4 L1089.5 2456.8 L1091.5 2453.1 L1093.5 2449.5 L1095.5 2445.9 L1097.5 2442.2 L1099.5 2438.6 L1101.5 2434.9 L1103.5 2431.2 L1105.5 2427.6 L1107.5 2423.9 L1109.5 2420.1 L1111.5 2416.4 L1113.5 2412.6 L1115.5 2408.8 L1117.5 2405 L1119.5 2401.2 L1121.5 2397.3 L1123.5 2393.5 L1125.5 2389.6 L1127.6 2385.7 L1129.6 2381.7 L1131.6 2377.8 L1133.6 2373.8 L1135.6 2369.8 L1137.6 2365.9 L1139.6 2361.9 L1141.6 2357.9 L1143.6 2353.8 L1145.6 2349.8 L1147.6 2345.8 L1149.6 2341.8 L1151.6 2337.7 L1153.6 2333.7 L1155.6 2329.7 L1157.6 2325.6 L1159.6 2321.6 L1161.6 2317.6 L1163.6 2313.5 L1165.6 2309.5 L1167.6 2305.5 L1169.6 2301.5 L1171.6 2297.5 L1173.6 2293.5 L1175.6 2289.6 L1177.6 2285.6 L1179.6 2281.7 L1181.6 2277.8 L1183.6 2273.8 L1185.6 2270 L1187.6 2266.1 L1189.6 2262.2 L1191.6 2258.4 L1193.6 2254.6 L1195.6 2250.8 L1197.6 2247.1 L1199.6 2243.4 L1201.6 2239.7 L1203.6 2236 L1205.6 2232.4 L1207.6 2228.8 L1209.6 2225.2 L1211.6 2221.7 L1213.6 2218.2 L1215.6 2214.7 L1217.6 2211.3 L1219.6 2207.8 L1221.6 2204.5 L1223.6 2201.1 L1225.6 2197.8 L1227.6 2194.5 L1229.6 2191.3 L1231.6 2188.1 L1233.6 2184.9 L1235.6 2181.7 L1237.6 2178.6 L1239.6 2175.5 L1241.6 2172.5 L1243.6 2169.5 L1245.6 2166.5 L1247.6 2163.5 L1249.6 2160.6 L1251.6 2157.7 L1253.6 2154.8 L1255.6 2152 L1257.6 2149.2 L1259.6 2146.4 L1261.6 2143.6 L1263.6 2140.9 L1265.7 2138.2 L1267.7 2135.6 L1269.7 2133 L1271.7 2130.4 L1273.7 2127.8 L1275.7 2125.3 L1277.7 2122.8 L1279.7 2120.3 L1281.7 2117.9 L1283.7 2115.5 L1285.7 2113.1 L1287.7 2110.8 L1289.7 2108.5 L1291.7 2106.2 L1293.7 2103.9 L1295.7 2101.7 L1297.7 2099.5 L1299.7 2097.3 L1301.7 2095.2 L1303.7 2093.1 L1305.7 2091 L1307.7 2088.9 L1309.7 2086.9 L1311.7 2084.9 L1313.7 2083 L1315.7 2081 L1317.7 2079.1 L1319.7 2077.3 L1321.7 2075.4 L1323.7 2073.6 L1325.7 2071.8 L1327.7 2070.1 L1329.7 2068.3 L1331.7 2066.6 L1333.7 2065 L1335.7 2063.3 L1337.7 2061.7 L1339.7 2060.1 L1341.7 2058.6 L1343.7 2057 L1345.7 2055.5 L1347.7 2054 L1349.7 2052.6 L1351.7 2051.1 L1353.7 2049.7 L1355.7 2048.4 L1357.7 2047 L1359.7 2045.7 L1361.7 2044.4 L1363.7 2043.1 L1365.7 2041.8 L1367.7 2040.6 L1369.7 2039.4 L1371.7 2038.2 L1373.7 2037.1 L1375.7 2035.9 L1377.7 2034.8 L1379.7 2033.7 L1381.7 2032.7 L1383.7 2031.6 L1385.7 2030.6 L1387.7 2029.6 L1389.7 2028.7 L1391.7 2027.7 L1393.7 2026.8 L1395.7 2025.9 L1397.7 2025 L1399.7 2024.1 L1401.7 2023.3 L1403.8 2022.5 L1405.8 2021.7 L1407.8 2020.9 L1409.8 2020.1 L1411.8 2019.4 L1413.8 2018.7 L1415.8 2018 L1417.8 2017.3 L1419.8 2016.6 L1421.8 2016 L1423.8 2015.4 L1425.8 2014.8 L1427.8 2014.2 L1429.8 2013.6 L1431.8 2013 L1433.8 2012.5 L1435.8 2012 L1437.8 2011.5 L1439.8 2011 L1441.8 2010.6 L1443.8 2010.1 L1445.8 2009.7 L1447.8 2009.3 L1449.8 2008.9 L1451.8 2008.5 L1453.8 2008.1 L1455.8 2007.8 L1457.8 2007.5 L1459.8 2007.1 L1461.8 2006.8 L1463.8 2006.6 L1465.8 2006.3 L1467.8 2006 L1469.8 2005.8 L1471.8 2005.5 L1473.8 2005.3 L1475.8 2005.1 L1477.8 2004.9 L1479.8 2004.7 L1481.8 2004.6 L1483.8 2004.4 L1485.8 2004.3 L1487.8 2004.1 L1489.8 2004 L1491.8 2003.9 L1493.8 2003.8 L1495.8 2003.7 L1497.8 2003.7 L1499.8 2003.6 L1501.8 2003.5 L1503.8 2003.5 L1505.8 2003.4 L1507.8 2003.4 L1509.8 2003.4 L1511.8 2003.4 L1513.8 2003.4 L1515.8 2003.4 L1517.8 2003.4 L1519.8 2003.4 L1521.8 2003.4 L1523.8 2003.5 L1525.8 2003.5 L1527.8 2003.5 L1529.8 2003.6 L1531.8 2003.7 L1533.8 2003.7 L1535.8 2003.8 L1537.8 2003.9 L1539.8 2003.9 L1541.9 2004 L1543.9 2004.1 L1545.9 2004.2 L1547.9 2004.3 L1549.9 2004.4 L1551.9 2004.5 L1553.9 2004.6 L1555.9 2004.7 L1557.9 2004.8 L1559.9 2005 L1561.9 2005.1 L1563.9 2005.2 L1565.9 2005.3 L1567.9 2005.4 L1569.9 2005.6 L1571.9 2005.7 L1573.9 2005.8 L1575.9 2005.9 L1577.9 2006.1 L1579.9 2006.2 L1581.9 2006.3 L1583.9 2006.5 L1585.9 2006.6 L1587.9 2006.7 L1589.9 2006.8 L1591.9 2006.9 L1593.9 2007.1 L1595.9 2007.2 L1597.9 2007.3 L1599.9 2007.4 L1601.9 2007.5 L1603.9 2007.6 L1605.9 2007.7 L1607.9 2007.8 L1609.9 2008 L1611.9 2008.1 L1613.9 2008.2 L1615.9 2008.3 L1617.9 2008.4 L1619.9 2008.5 L1621.9 2008.6 L1623.9 2008.7 L1625.9 2008.8 L1627.9 2008.8 L1629.9 2008.9 L1631.9 2009 L1633.9 2009.1 L1635.9 2009.2 L1637.9 2009.3 L1639.9 2009.4 L1641.9 2009.5 L1643.9 2009.6 L1645.9 2009.7 L1647.9 2009.7 L1649.9 2009.8 L1651.9 2009.9 L1653.9 2010 L1655.9 2010.1 L1657.9 2010.2 L1659.9 2010.2 L1661.9 2010.3 L1663.9 2010.4 L1665.9 2010.5 L1667.9 2010.6 L1669.9 2010.7 L1671.9 2010.7 L1673.9 2010.8 L1675.9 2010.9 L1677.9 2011 L1680 2011.1 L1682 2011.1 L1684 2011.2 L1686 2011.3 L1688 2011.4 L1690 2011.5 L1692 2011.6 L1694 2011.6 L1696 2011.7 L1698 2011.8 L1700 2011.9 L1702 2012 L1704 2012.1 L1706 2012.2 L1708 2012.3 L1710 2012.4 L1712 2012.4 L1714 2012.5 L1716 2012.6 L1718 2012.7 L1720 2012.8 L1722 2012.9 L1724 2013 L1726 2013.1 L1728 2013.2 L1730 2013.3 L1732 2013.4 L1734 2013.5 L1736 2013.6 L1738 2013.7 L1740 2013.8 L1742 2014 L1744 2014.1 L1746 2014.2 L1748 2014.3 L1748 2242.8 L1746 2242.7 L1744 2242.7 L1742 2242.6 L1740 2242.6 L1738 2242.5 L1736 2242.4 L1734 2242.4 L1732 2242.3 L1730 2242.3 L1728 2242.2 L1726 2242.2 L1724 2242.1 L1722 2242 L1720 2242 L1718 2241.9 L1716 2241.9 L1714 2241.8 L1712 2241.8 L1710 2241.7 L1708 2241.7 L1706 2241.6 L1704 2241.6 L1702 2241.5 L1700 2241.5 L1698 2241.4 L1696 2241.4 L1694 2241.3 L1692 2241.3 L1690 2241.3 L1688 2241.2 L1686 2241.2 L1684 2241.1 L1682 2241.1 L1680 2241 L1677.9 2241 L1675.9 2240.9 L1673.9 2240.9 L1671.9 2240.9 L1669.9 2240.8 L1667.9 2240.8 L1665.9 2240.7 L1663.9 2240.7 L1661.9 2240.6 L1659.9 2240.6 L1657.9 2240.6 L1655.9 2240.5 L1653.9 2240.5 L1651.9 2240.4 L1649.9 2240.4 L1647.9 2240.4 L1645.9 2240.3 L1643.9 2240.3 L1641.9 2240.2 L1639.9 2240.2 L1637.9 2240.2 L1635.9 2240.1 L1633.9 2240.1 L1631.9 2240 L1629.9 2240 L1627.9 2240 L1625.9 2239.9 L1623.9 2239.9 L1621.9 2239.9 L1619.9 2239.8 L1617.9 2239.8 L1615.9 2239.7 L1613.9 2239.7 L1611.9 2239.7 L1609.9 2239.6 L1607.9 2239.6 L1605.9 2239.5 L1603.9 2239.5 L1601.9 2239.5 L1599.9 2239.4 L1597.9 2239.4 L1595.9 2239.3 L1593.9 2239.3 L1591.9 2239.3 L1589.9 2239.2 L1587.9 2239.2 L1585.9 2239.1 L1583.9 2239.1 L1581.9 2239.1 L1579.9 2239 L1577.9 2239 L1575.9 2238.9 L1573.9 2238.9 L1571.9 2238.9 L1569.9 2238.8 L1567.9 2238.8 L1565.9 2238.8 L1563.9 2238.7 L1561.9 2238.7 L1559.9 2238.7 L1557.9 2238.7 L1555.9 2238.6 L1553.9 2238.6 L1551.9 2238.6 L1549.9 2238.6 L1547.9 2238.5 L1545.9 2238.5 L1543.9 2238.5 L1541.9 2238.5 L1539.8 2238.5 L1537.8 2238.5 L1535.8 2238.5 L1533.8 2238.5 L1531.8 2238.5 L1529.8 2238.5 L1527.8 2238.5 L1525.8 2238.5 L1523.8 2238.6 L1521.8 2238.6 L1519.8 2238.6 L1517.8 2238.6 L1515.8 2238.7 L1513.8 2238.7 L1511.8 2238.8 L1509.8 2238.8 L1507.8 2238.8 L1505.8 2238.9 L1503.8 2239 L1501.8 2239 L1499.8 2239.1 L1497.8 2239.2 L1495.8 2239.3 L1493.8 2239.3 L1491.8 2239.4 L1489.8 2239.5 L1487.8 2239.6 L1485.8 2239.7 L1483.8 2239.9 L1481.8 2240 L1479.8 2240.1 L1477.8 2240.2 L1475.8 2240.4 L1473.8 2240.5 L1471.8 2240.7 L1469.8 2240.8 L1467.8 2241 L1465.8 2241.2 L1463.8 2241.3 L1461.8 2241.5 L1459.8 2241.7 L1457.8 2241.9 L1455.8 2242.1 L1453.8 2242.4 L1451.8 2242.6 L1449.8 2242.8 L1447.8 2243 L1445.8 2243.3 L1443.8 2243.5 L1441.8 2243.8 L1439.8 2244.1 L1437.8 2244.4 L1435.8 2244.7 L1433.8 2244.9 L1431.8 2245.3 L1429.8 2245.6 L1427.8 2245.9 L1425.8 2246.2 L1423.8 2246.6 L1421.8 2246.9 L1419.8 2247.3 L1417.8 2247.6 L1415.8 2248 L1413.8 2248.4 L1411.8 2248.8 L1409.8 2249.2 L1407.8 2249.6 L1405.8 2250.1 L1403.8 2250.5 L1401.7 2250.9 L1399.7 2251.4 L1397.7 2251.9 L1395.7 2252.3 L1393.7 2252.8 L1391.7 2253.3 L1389.7 2253.8 L1387.7 2254.4 L1385.7 2254.9 L1383.7 2255.4 L1381.7 2256 L1379.7 2256.6 L1377.7 2257.1 L1375.7 2257.7 L1373.7 2258.3 L1371.7 2258.9 L1369.7 2259.5 L1367.7 2260.2 L1365.7 2260.8 L1363.7 2261.5 L1361.7 2262.2 L1359.7 2262.8 L1357.7 2263.5 L1355.7 2264.2 L1353.7 2264.9 L1351.7 2265.7 L1349.7 2266.4 L1347.7 2267.2 L1345.7 2267.9 L1343.7 2268.7 L1341.7 2269.5 L1339.7 2270.3 L1337.7 2271.2 L1335.7 2272 L1333.7 2272.8 L1331.7 2273.7 L1329.7 2274.6 L1327.7 2275.5 L1325.7 2276.4 L1323.7 2277.3 L1321.7 2278.2 L1319.7 2279.2 L1317.7 2280.1 L1315.7 2281.1 L1313.7 2282.1 L1311.7 2283.1 L1309.7 2284.1 L1307.7 2285.1 L1305.7 2286.2 L1303.7 2287.2 L1301.7 2288.3 L1299.7 2289.4 L1297.7 2290.5 L1295.7 2291.6 L1293.7 2292.7 L1291.7 2293.9 L1289.7 2295 L1287.7 2296.2 L1285.7 2297.4 L1283.7 2298.6 L1281.7 2299.8 L1279.7 2301 L1277.7 2302.3 L1275.7 2303.5 L1273.7 2304.8 L1271.7 2306.1 L1269.7 2307.4 L1267.7 2308.7 L1265.7 2310 L1263.6 2311.3 L1261.6 2312.7 L1259.6 2314.1 L1257.6 2315.5 L1255.6 2316.8 L1253.6 2318.3 L1251.6 2319.7 L1249.6 2321.1 L1247.6 2322.6 L1245.6 2324 L1243.6 2325.5 L1241.6 2327 L1239.6 2328.5 L1237.6 2330.1 L1235.6 2331.6 L1233.6 2333.2 L1231.6 2334.7 L1229.6 2336.3 L1227.6 2337.9 L1225.6 2339.5 L1223.6 2341.1 L1221.6 2342.8 L1219.6 2344.4 L1217.6 2346.1 L1215.6 2347.8 L1213.6 2349.5 L1211.6 2351.2 L1209.6 2352.9 L1207.6 2354.6 L1205.6 2356.4 L1203.6 2358.1 L1201.6 2359.9 L1199.6 2361.7 L1197.6 2363.5 L1195.6 2365.3 L1193.6 2367.2 L1191.6 2369 L1189.6 2370.9 L1187.6 2372.7 L1185.6 2374.6 L1183.6 2376.5 L1181.6 2378.4 L1179.6 2380.3 L1177.6 2382.2 L1175.6 2384.1 L1173.6 2386.1 L1171.6 2388 L1169.6 2390 L1167.6 2392 L1165.6 2393.9 L1163.6 2395.9 L1161.6 2397.9 L1159.6 2399.9 L1157.6 2401.9 L1155.6 2403.9 L1153.6 2405.9 L1151.6 2407.9 L1149.6 2410 L1147.6 2412 L1145.6 2414.1 L1143.6 2416.1 L1141.6 2418.1 L1139.6 2420.2 L1137.6 2422.3 L1135.6 2424.3 L1133.6 2426.4 L1131.6 2428.5 L1129.6 2430.5 L1127.6 2432.6 L1125.5 2434.7 L1123.5 2436.7 L1121.5 2438.8 L1119.5 2440.9 L1117.5 2443 L1115.5 2445.1 L1113.5 2447.1 L1111.5 2449.2 L1109.5 2451.3 L1107.5 2453.4 L1105.5 2455.5 L1103.5 2457.6 L1101.5 2459.8 L1099.5 2461.9 L1097.5 2464.1 L1095.5 2466.3 L1093.5 2468.5 L1091.5 2470.7 L1089.5 2473 L1087.5 2475.4 L1085.5 2477.7 L1083.5 2480.1 L1081.5 2482.6 L1079.5 2485.1 L1077.5 2487.7 L1075.5 2490.3 L1073.5 2492.9 L1071.5 2495.7 L1069.5 2498.5 L1067.5 2501.3 L1065.5 2504.3 L1063.5 2507.3 L1061.5 2510.4 L1059.5 2513.5 L1057.5 2516.8Z" fill="rgba(125,135,130,0.2)" stroke="rgba(112,116,114,0.40)" stroke-width="2.2" stroke-linejoin="round"/>
<g fill="#0a0a0a"><rect x="1112.2" y="1866.8" width="1.7" height="18.8" fill-opacity="0.76"/><rect x="1148.8" y="1866.8" width="1.5" height="18.8" fill-opacity="0.76"/><rect x="1151.9" y="1866.8" width="1.7" height="18.8" fill-opacity="0.71"/><rect x="1165.4" y="1866.8" width="3.5" height="18.8" fill-opacity="0.63"/><rect x="1165.4" y="1866.8" width="1.4" height="18.8" fill-opacity="0.88"/><rect x="1166.7" y="1866.8" width="1.4" height="18.8" fill-opacity="0.88"/><rect x="1167.5" y="1866.8" width="1.4" height="18.8" fill-opacity="0.88"/><rect x="1170.7" y="1866.8" width="1.5" height="18.8" fill-opacity="0.71"/><rect x="1174.2" y="1866.8" width="1.8" height="18.8" fill-opacity="0.81"/><rect x="1182.7" y="1866.8" width="4.3" height="18.8" fill-opacity="0.84"/><rect x="1182.7" y="1866.8" width="1.4" height="18.8" fill-opacity="0.95"/><rect x="1183.9" y="1866.8" width="1.4" height="18.8" fill-opacity="0.95"/><rect x="1185.6" y="1866.8" width="1.4" height="18.8" fill-opacity="0.95"/><rect x="1198.2" y="1866.8" width="8.2" height="18.8" fill-opacity="0.73"/><rect x="1198.2" y="1866.8" width="1.4" height="18.8" fill-opacity="0.93"/><rect x="1199.9" y="1866.8" width="1.4" height="18.8" fill-opacity="0.93"/><rect x="1201.4" y="1866.8" width="1.4" height="18.8" fill-opacity="0.93"/><rect x="1203.4" y="1866.8" width="1.4" height="18.8" fill-opacity="0.93"/><rect x="1205" y="1866.8" width="1.4" height="18.8" fill-opacity="0.93"/><rect x="1210.7" y="1866.8" width="4.3" height="18.8" fill-opacity="0.92"/><rect x="1210.7" y="1866.8" width="1.4" height="18.8" fill-opacity="0.95"/><rect x="1212.4" y="1866.8" width="1.4" height="18.8" fill-opacity="0.95"/><rect x="1213.6" y="1866.8" width="1.4" height="18.8" fill-opacity="0.95"/><rect x="1217.8" y="1866.8" width="1.8" height="18.8" fill-opacity="0.76"/><rect x="1224.9" y="1866.8" width="6" height="18.8" fill-opacity="0.73"/><rect x="1224.9" y="1866.8" width="1.4" height="18.8" fill-opacity="0.93"/><rect x="1226.6" y="1866.8" width="1.4" height="18.8" fill-opacity="0.93"/><rect x="1227.8" y="1866.8" width="1.4" height="18.8" fill-opacity="0.93"/><rect x="1229.5" y="1866.8" width="1.4" height="18.8" fill-opacity="0.93"/><rect x="1238.2" y="1866.8" width="2.4" height="18.8" fill-opacity="0.97"/><rect x="1244" y="1866.8" width="1.8" height="18.8" fill-opacity="0.76"/><rect x="1248.5" y="1866.8" width="1.6" height="18.8" fill-opacity="0.76"/><rect x="1259.7" y="1866.8" width="1.7" height="18.8" fill-opacity="0.96"/><rect x="1264.7" y="1866.8" width="1.9" height="18.8" fill-opacity="0.61"/><rect x="1267.9" y="1866.8" width="10.3" height="18.8" fill-opacity="0.73"/><rect x="1267.9" y="1866.8" width="1.4" height="18.8" fill-opacity="0.93"/><rect x="1269.9" y="1866.8" width="1.4" height="18.8" fill-opacity="0.93"/><rect x="1272.5" y="1866.8" width="1.4" height="18.8" fill-opacity="0.93"/><rect x="1274.5" y="1866.8" width="1.4" height="18.8" fill-opacity="0.93"/><rect x="1276.8" y="1866.8" width="1.4" height="18.8" fill-opacity="0.93"/><rect x="1280.8" y="1866.8" width="7.8" height="18.8" fill-opacity="0.53"/><rect x="1280.8" y="1866.8" width="1.4" height="18.8" fill-opacity="0.83"/><rect x="1282.9" y="1866.8" width="1.4" height="18.8" fill-opacity="0.83"/><rect x="1284.8" y="1866.8" width="1.4" height="18.8" fill-opacity="0.83"/><rect x="1287.2" y="1866.8" width="1.4" height="18.8" fill-opacity="0.83"/><rect x="1289.4" y="1866.8" width="7.8" height="18.8" fill-opacity="0.84"/><rect x="1289.4" y="1866.8" width="1.4" height="18.8" fill-opacity="0.95"/><rect x="1291.8" y="1866.8" width="1.4" height="18.8" fill-opacity="0.95"/><rect x="1293.7" y="1866.8" width="1.4" height="18.8" fill-opacity="0.95"/><rect x="1295.8" y="1866.8" width="1.4" height="18.8" fill-opacity="0.95"/><rect x="1301" y="1866.8" width="10" height="18.8" fill-opacity="0.84"/><rect x="1301" y="1866.8" width="1.4" height="18.8" fill-opacity="0.95"/><rect x="1303" y="1866.8" width="1.4" height="18.8" fill-opacity="0.95"/><rect x="1305.5" y="1866.8" width="1.4" height="18.8" fill-opacity="0.95"/><rect x="1307.5" y="1866.8" width="1.4" height="18.8" fill-opacity="0.95"/><rect x="1309.6" y="1866.8" width="1.4" height="18.8" fill-opacity="0.95"/><rect x="1317.3" y="1866.8" width="6.1" height="18.8" fill-opacity="0.73"/><rect x="1317.3" y="1866.8" width="1.4" height="18.8" fill-opacity="0.93"/><rect x="1319" y="1866.8" width="1.4" height="18.8" fill-opacity="0.93"/><rect x="1320.3" y="1866.8" width="1.4" height="18.8" fill-opacity="0.93"/><rect x="1322" y="1866.8" width="1.4" height="18.8" fill-opacity="0.93"/><rect x="1326.5" y="1866.8" width="5.1" height="18.8" fill-opacity="0.73"/><rect x="1326.5" y="1866.8" width="1.4" height="18.8" fill-opacity="0.93"/><rect x="1328.1" y="1866.8" width="1.4" height="18.8" fill-opacity="0.93"/><rect x="1330.2" y="1866.8" width="1.4" height="18.8" fill-opacity="0.93"/><rect x="1334.2" y="1866.8" width="13.3" height="18.8" fill-opacity="0.88"/><rect x="1334.2" y="1866.8" width="1.4" height="18.8" fill-opacity="0.95"/><rect x="1336.2" y="1866.8" width="1.4" height="18.8" fill-opacity="0.95"/><rect x="1337.9" y="1866.8" width="1.4" height="18.8" fill-opacity="0.95"/><rect x="1340.3" y="1866.8" width="1.4" height="18.8" fill-opacity="0.95"/><rect x="1342" y="1866.8" width="1.4" height="18.8" fill-opacity="0.95"/><rect x="1344.4" y="1866.8" width="1.4" height="18.8" fill-opacity="0.95"/><rect x="1346.1" y="1866.8" width="1.4" height="18.8" fill-opacity="0.95"/><rect x="1350" y="1866.8" width="13.4" height="18.8" fill-opacity="0.63"/><rect x="1350" y="1866.8" width="1.4" height="18.8" fill-opacity="0.88"/><rect x="1352.2" y="1866.8" width="1.4" height="18.8" fill-opacity="0.88"/><rect x="1354" y="1866.8" width="1.4" height="18.8" fill-opacity="0.88"/><rect x="1355.8" y="1866.8" width="1.4" height="18.8" fill-opacity="0.88"/><rect x="1358.1" y="1866.8" width="1.4" height="18.8" fill-opacity="0.88"/><rect x="1359.9" y="1866.8" width="1.4" height="18.8" fill-opacity="0.88"/><rect x="1362" y="1866.8" width="1.4" height="18.8" fill-opacity="0.88"/><rect x="1365.2" y="1866.8" width="4.8" height="18.8" fill-opacity="0.92"/><rect x="1365.2" y="1866.8" width="1.4" height="18.8" fill-opacity="0.95"/><rect x="1366.8" y="1866.8" width="1.4" height="18.8" fill-opacity="0.95"/><rect x="1368.6" y="1866.8" width="1.4" height="18.8" fill-opacity="0.95"/><rect x="1371.4" y="1866.8" width="1.8" height="18.8" fill-opacity="0.66"/><rect x="1377.2" y="1866.8" width="5.2" height="18.8" fill-opacity="0.53"/><rect x="1377.2" y="1866.8" width="1.4" height="18.8" fill-opacity="0.83"/><rect x="1378.9" y="1866.8" width="1.4" height="18.8" fill-opacity="0.83"/><rect x="1381" y="1866.8" width="1.4" height="18.8" fill-opacity="0.83"/><rect x="1391.9" y="1866.8" width="5.1" height="18.8" fill-opacity="0.32"/><rect x="1391.9" y="1866.8" width="1.4" height="18.8" fill-opacity="0.73"/><rect x="1393.8" y="1866.8" width="1.4" height="18.8" fill-opacity="0.73"/><rect x="1395.6" y="1866.8" width="1.4" height="18.8" fill-opacity="0.73"/><rect x="1399.3" y="1866.8" width="5" height="18.8" fill-opacity="0.32"/><rect x="1399.3" y="1866.8" width="1.4" height="18.8" fill-opacity="0.73"/><rect x="1401.3" y="1866.8" width="1.4" height="18.8" fill-opacity="0.73"/><rect x="1402.9" y="1866.8" width="1.4" height="18.8" fill-opacity="0.73"/><rect x="1411.3" y="1866.8" width="2" height="18.8" fill-opacity="0.71"/><rect x="1419.2" y="1866.8" width="1.7" height="18.8" fill-opacity="0.81"/><rect x="1425.1" y="1866.8" width="3.8" height="18.8" fill-opacity="0.84"/><rect x="1425.1" y="1866.8" width="1.4" height="18.8" fill-opacity="0.95"/><rect x="1426.1" y="1866.8" width="1.4" height="18.8" fill-opacity="0.95"/><rect x="1427.5" y="1866.8" width="1.4" height="18.8" fill-opacity="0.95"/><rect x="1430.3" y="1866.8" width="7.2" height="18.8" fill-opacity="0.90"/><rect x="1430.3" y="1866.8" width="1.4" height="18.8" fill-opacity="0.95"/><rect x="1432.2" y="1866.8" width="1.4" height="18.8" fill-opacity="0.95"/><rect x="1433.9" y="1866.8" width="1.4" height="18.8" fill-opacity="0.95"/><rect x="1436.1" y="1866.8" width="1.4" height="18.8" fill-opacity="0.95"/><rect x="1439.2" y="1866.8" width="5.5" height="18.8" fill-opacity="0.73"/><rect x="1439.2" y="1866.8" width="1.4" height="18.8" fill-opacity="0.93"/><rect x="1441.5" y="1866.8" width="1.4" height="18.8" fill-opacity="0.93"/><rect x="1443.3" y="1866.8" width="1.4" height="18.8" fill-opacity="0.93"/><rect x="1446.6" y="1866.8" width="12.4" height="18.8" fill-opacity="0.63"/><rect x="1446.6" y="1866.8" width="1.4" height="18.8" fill-opacity="0.88"/><rect x="1448.7" y="1866.8" width="1.4" height="18.8" fill-opacity="0.88"/><rect x="1451.2" y="1866.8" width="1.4" height="18.8" fill-opacity="0.88"/><rect x="1453.2" y="1866.8" width="1.4" height="18.8" fill-opacity="0.88"/><rect x="1455.2" y="1866.8" width="1.4" height="18.8" fill-opacity="0.88"/><rect x="1457.6" y="1866.8" width="1.4" height="18.8" fill-opacity="0.88"/><rect x="1463.8" y="1866.8" width="1.5" height="18.8" fill-opacity="0.66"/><rect x="1467.1" y="1866.8" width="7.9" height="18.8" fill-opacity="0.73"/><rect x="1467.1" y="1866.8" width="1.4" height="18.8" fill-opacity="0.93"/><rect x="1469" y="1866.8" width="1.4" height="18.8" fill-opacity="0.93"/><rect x="1471.6" y="1866.8" width="1.4" height="18.8" fill-opacity="0.93"/><rect x="1473.6" y="1866.8" width="1.4" height="18.8" fill-opacity="0.93"/><rect x="1477.6" y="1866.8" width="4.3" height="18.8" fill-opacity="0.92"/><rect x="1477.6" y="1866.8" width="1.4" height="18.8" fill-opacity="0.95"/><rect x="1479" y="1866.8" width="1.4" height="18.8" fill-opacity="0.95"/><rect x="1480.5" y="1866.8" width="1.4" height="18.8" fill-opacity="0.95"/><rect x="1489.4" y="1866.8" width="2.1" height="18.8" fill-opacity="0.96"/><rect x="1494.3" y="1866.8" width="3.5" height="18.8" fill-opacity="0.32"/><rect x="1494.3" y="1866.8" width="1.4" height="18.8" fill-opacity="0.73"/><rect x="1495.2" y="1866.8" width="1.4" height="18.8" fill-opacity="0.73"/><rect x="1496.4" y="1866.8" width="1.4" height="18.8" fill-opacity="0.73"/><rect x="1499.2" y="1866.8" width="2.2" height="18.8" fill-opacity="0.91"/><rect x="1503.4" y="1866.8" width="3.8" height="18.8" fill-opacity="0.92"/><rect x="1503.4" y="1866.8" width="1.4" height="18.8" fill-opacity="0.95"/><rect x="1504.4" y="1866.8" width="1.4" height="18.8" fill-opacity="0.95"/><rect x="1505.8" y="1866.8" width="1.4" height="18.8" fill-opacity="0.95"/><rect x="1510.5" y="1866.8" width="1.8" height="18.8" fill-opacity="0.76"/><rect x="1515.3" y="1866.8" width="4.9" height="18.8" fill-opacity="0.21"/><rect x="1515.3" y="1866.8" width="1.4" height="18.8" fill-opacity="0.68"/><rect x="1517.3" y="1866.8" width="1.4" height="18.8" fill-opacity="0.68"/><rect x="1518.8" y="1866.8" width="1.4" height="18.8" fill-opacity="0.68"/><rect x="1522.2" y="1866.8" width="14.7" height="18.8" fill-opacity="0.63"/><rect x="1522.2" y="1866.8" width="1.4" height="18.8" fill-opacity="0.88"/><rect x="1524.3" y="1866.8" width="1.4" height="18.8" fill-opacity="0.88"/><rect x="1526.9" y="1866.8" width="1.4" height="18.8" fill-opacity="0.88"/><rect x="1528.9" y="1866.8" width="1.4" height="18.8" fill-opacity="0.88"/><rect x="1530.8" y="1866.8" width="1.4" height="18.8" fill-opacity="0.88"/><rect x="1533.4" y="1866.8" width="1.4" height="18.8" fill-opacity="0.88"/><rect x="1535.5" y="1866.8" width="1.4" height="18.8" fill-opacity="0.88"/><rect x="1539.1" y="1866.8" width="3.8" height="18.8" fill-opacity="0.42"/><rect x="1539.1" y="1866.8" width="1.4" height="18.8" fill-opacity="0.78"/><rect x="1540.4" y="1866.8" width="1.4" height="18.8" fill-opacity="0.78"/><rect x="1541.5" y="1866.8" width="1.4" height="18.8" fill-opacity="0.78"/><rect x="1545.1" y="1866.8" width="4.7" height="18.8" fill-opacity="0.21"/><rect x="1545.1" y="1866.8" width="1.4" height="18.8" fill-opacity="0.68"/><rect x="1546.5" y="1866.8" width="1.4" height="18.8" fill-opacity="0.68"/><rect x="1548.4" y="1866.8" width="1.4" height="18.8" fill-opacity="0.68"/><rect x="1559.9" y="1866.8" width="1.5" height="18.8" fill-opacity="0.71"/><rect x="1563.8" y="1866.8" width="1.5" height="18.8" fill-opacity="0.71"/><rect x="1568" y="1866.8" width="1.5" height="18.8" fill-opacity="0.71"/><rect x="1586.1" y="1866.8" width="5.2" height="18.8" fill-opacity="0.63"/><rect x="1586.1" y="1866.8" width="1.4" height="18.8" fill-opacity="0.88"/><rect x="1588.1" y="1866.8" width="1.4" height="18.8" fill-opacity="0.88"/><rect x="1589.9" y="1866.8" width="1.4" height="18.8" fill-opacity="0.88"/><rect x="1593.8" y="1866.8" width="1.6" height="18.8" fill-opacity="0.76"/><rect x="1603.6" y="1866.8" width="1.8" height="18.8" fill-opacity="0.71"/><rect x="1612" y="1866.8" width="1.8" height="18.8" fill-opacity="0.71"/><rect x="1619.4" y="1866.8" width="1.8" height="18.8" fill-opacity="0.71"/><rect x="1625.1" y="1866.8" width="1.7" height="18.8" fill-opacity="0.71"/><rect x="1629.5" y="1866.8" width="1.8" height="18.8" fill-opacity="0.71"/><rect x="1638.9" y="1866.8" width="4.9" height="18.8" fill-opacity="0.21"/><rect x="1638.9" y="1866.8" width="1.4" height="18.8" fill-opacity="0.68"/><rect x="1640.7" y="1866.8" width="1.4" height="18.8" fill-opacity="0.68"/><rect x="1642.4" y="1866.8" width="1.4" height="18.8" fill-opacity="0.68"/><rect x="1653.8" y="1866.8" width="1.7" height="18.8" fill-opacity="0.76"/><rect x="1673" y="1866.8" width="1.6" height="18.8" fill-opacity="0.76"/><rect x="1681.3" y="1866.8" width="1.8" height="18.8" fill-opacity="0.71"/><rect x="1688.6" y="1866.8" width="1.9" height="18.8" fill-opacity="0.97"/><rect x="1693.2" y="1866.8" width="1.8" height="18.8" fill-opacity="0.71"/><rect x="1701.4" y="1866.8" width="5.9" height="18.8" fill-opacity="0.63"/><rect x="1701.4" y="1866.8" width="1.4" height="18.8" fill-opacity="0.88"/><rect x="1703.1" y="1866.8" width="1.4" height="18.8" fill-opacity="0.88"/><rect x="1704.4" y="1866.8" width="1.4" height="18.8" fill-opacity="0.88"/><rect x="1705.9" y="1866.8" width="1.4" height="18.8" fill-opacity="0.88"/><rect x="1720.6" y="1866.8" width="1.8" height="18.8" fill-opacity="0.76"/><rect x="1730.9" y="1866.8" width="1.8" height="18.8" fill-opacity="0.76"/><rect x="1739.3" y="1866.8" width="5" height="18.8" fill-opacity="0.63"/><rect x="1739.3" y="1866.8" width="1.4" height="18.8" fill-opacity="0.88"/><rect x="1740.9" y="1866.8" width="1.4" height="18.8" fill-opacity="0.88"/><rect x="1742.9" y="1866.8" width="1.4" height="18.8" fill-opacity="0.88"/><rect x="1749.9" y="1866.8" width="1.7" height="18.8" fill-opacity="0.71"/><rect x="1763.1" y="1866.8" width="1.8" height="18.8" fill-opacity="0.76"/></g>
<path d="M1056.9 2516.8 L1058.9 2513.2 L1060.9 2509.7 L1062.9 2506.3 L1064.9 2502.9 L1066.9 2499.6 L1068.9 2496.3 L1070.9 2493.1 L1072.9 2489.9 L1074.9 2486.8 L1076.9 2483.7 L1078.9 2480.7 L1080.9 2477.7 L1082.9 2474.8 L1084.9 2471.8 L1086.9 2469 L1088.9 2466.1 L1090.9 2463.2 L1092.9 2460.4 L1094.9 2457.6 L1096.8 2454.8 L1098.8 2452.1 L1100.8 2449.3 L1102.8 2446.5 L1104.8 2443.8 L1106.8 2441 L1108.8 2438.3 L1110.8 2435.5 L1112.8 2432.7 L1114.8 2429.9 L1116.8 2427.1 L1118.8 2424.3 L1120.8 2421.5 L1122.8 2418.7 L1124.8 2415.9 L1126.8 2413 L1128.8 2410.2 L1130.8 2407.3 L1132.8 2404.4 L1134.8 2401.6 L1136.8 2398.7 L1138.8 2395.8 L1140.8 2392.9 L1142.8 2390 L1144.8 2387.1 L1146.8 2384.2 L1148.8 2381.3 L1150.8 2378.4 L1152.8 2375.5 L1154.8 2372.6 L1156.8 2369.7 L1158.8 2366.8 L1160.8 2363.9 L1162.8 2361 L1164.8 2358.1 L1166.8 2355.2 L1168.8 2352.3 L1170.8 2349.4 L1172.7 2346.5 L1174.7 2343.6 L1176.7 2340.7 L1178.7 2337.8 L1180.7 2335 L1182.7 2332.1 L1184.7 2329.3 L1186.7 2326.4 L1188.7 2323.6 L1190.7 2320.8 L1192.7 2318 L1194.7 2315.2 L1196.7 2312.4 L1198.7 2309.6 L1200.7 2306.8 L1202.7 2304.1 L1204.7 2301.3 L1206.7 2298.6 L1208.7 2295.9 L1210.7 2293.2 L1212.7 2290.5 L1214.7 2287.8 L1216.7 2285.2 L1218.7 2282.6 L1220.7 2279.9 L1222.7 2277.3 L1224.7 2274.8 L1226.7 2272.2 L1228.7 2269.6 L1230.7 2267.1 L1232.7 2264.6 L1234.7 2262.1 L1236.7 2259.6 L1238.7 2257.1 L1240.7 2254.7 L1242.7 2252.3 L1244.7 2249.9 L1246.7 2247.5 L1248.7 2245.1 L1250.6 2242.8 L1252.6 2240.4 L1254.6 2238.1 L1256.6 2235.8 L1258.6 2233.6 L1260.6 2231.3 L1262.6 2229.1 L1264.6 2226.9 L1266.6 2224.7 L1268.6 2222.6 L1270.6 2220.4 L1272.6 2218.3 L1274.6 2216.2 L1276.6 2214.2 L1278.6 2212.1 L1280.6 2210.1 L1282.6 2208.1 L1284.6 2206.2 L1286.6 2204.2 L1288.6 2202.3 L1290.6 2200.4 L1292.6 2198.5 L1294.6 2196.7 L1296.6 2194.9 L1298.6 2193.1 L1300.6 2191.3 L1302.6 2189.6 L1304.6 2187.9 L1306.6 2186.2 L1308.6 2184.5 L1310.6 2182.9 L1312.6 2181.3 L1314.6 2179.7 L1316.6 2178.2 L1318.6 2176.7 L1320.6 2175.2 L1322.6 2173.7 L1324.6 2172.3 L1326.5 2170.9 L1328.5 2169.5 L1330.5 2168.2 L1332.5 2166.9 L1334.5 2165.6 L1336.5 2164.3 L1338.5 2163.1 L1340.5 2161.9 L1342.5 2160.7 L1344.5 2159.5 L1346.5 2158.4 L1348.5 2157.3 L1350.5 2156.2 L1352.5 2155.1 L1354.5 2154.1 L1356.5 2153.1 L1358.5 2152.1 L1360.5 2151.1 L1362.5 2150.2 L1364.5 2149.2 L1366.5 2148.3 L1368.5 2147.5 L1370.5 2146.6 L1372.5 2145.8 L1374.5 2144.9 L1376.5 2144.1 L1378.5 2143.4 L1380.5 2142.6 L1382.5 2141.9 L1384.5 2141.1 L1386.5 2140.4 L1388.5 2139.8 L1390.5 2139.1 L1392.5 2138.4 L1394.5 2137.8 L1396.5 2137.2 L1398.5 2136.6 L1400.5 2136 L1402.5 2135.5 L1404.4 2134.9 L1406.4 2134.4 L1408.4 2133.9 L1410.4 2133.4 L1412.4 2132.9 L1414.4 2132.4 L1416.4 2132 L1418.4 2131.5 L1420.4 2131.1 L1422.4 2130.7 L1424.4 2130.3 L1426.4 2129.9 L1428.4 2129.5 L1430.4 2129.1 L1432.4 2128.8 L1434.4 2128.4 L1436.4 2128.1 L1438.4 2127.8 L1440.4 2127.4 L1442.4 2127.1 L1444.4 2126.9 L1446.4 2126.6 L1448.4 2126.3 L1450.4 2126 L1452.4 2125.8 L1454.4 2125.5 L1456.4 2125.3 L1458.4 2125 L1460.4 2124.8 L1462.4 2124.6 L1464.4 2124.4 L1466.4 2124.2 L1468.4 2124 L1470.4 2123.8 L1472.4 2123.6 L1474.4 2123.5 L1476.4 2123.3 L1478.4 2123.1 L1480.3 2123 L1482.3 2122.9 L1484.3 2122.7 L1486.3 2122.6 L1488.3 2122.5 L1490.3 2122.4 L1492.3 2122.2 L1494.3 2122.1 L1496.3 2122 L1498.3 2122 L1500.3 2121.9 L1502.3 2121.8 L1504.3 2121.7 L1506.3 2121.7 L1508.3 2121.6 L1510.3 2121.5 L1512.3 2121.5 L1514.3 2121.4 L1516.3 2121.4 L1518.3 2121.4 L1520.3 2121.3 L1522.3 2121.3 L1524.3 2121.3 L1526.3 2121.3 L1528.3 2121.3 L1530.3 2121.2 L1532.3 2121.2 L1534.3 2121.2 L1536.3 2121.2 L1538.3 2121.3 L1540.3 2121.3 L1542.3 2121.3 L1544.3 2121.3 L1546.3 2121.3 L1548.3 2121.3 L1550.3 2121.4 L1552.3 2121.4 L1554.3 2121.4 L1556.2 2121.5 L1558.2 2121.5 L1560.2 2121.6 L1562.2 2121.6 L1564.2 2121.7 L1566.2 2121.7 L1568.2 2121.8 L1570.2 2121.8 L1572.2 2121.9 L1574.2 2121.9 L1576.2 2122 L1578.2 2122.1 L1580.2 2122.1 L1582.2 2122.2 L1584.2 2122.3 L1586.2 2122.3 L1588.2 2122.4 L1590.2 2122.5 L1592.2 2122.5 L1594.2 2122.6 L1596.2 2122.7 L1598.2 2122.8 L1600.2 2122.8 L1602.2 2122.9 L1604.2 2123 L1606.2 2123.1 L1608.2 2123.1 L1610.2 2123.2 L1612.2 2123.3 L1614.2 2123.4 L1616.2 2123.4 L1618.2 2123.5 L1620.2 2123.6 L1622.2 2123.7 L1624.2 2123.8 L1626.2 2123.9 L1628.2 2123.9 L1630.2 2124 L1632.2 2124.1 L1634.1 2124.2 L1636.1 2124.3 L1638.1 2124.3 L1640.1 2124.4 L1642.1 2124.5 L1644.1 2124.6 L1646.1 2124.7 L1648.1 2124.8 L1650.1 2124.9 L1652.1 2124.9 L1654.1 2125 L1656.1 2125.1 L1658.1 2125.2 L1660.1 2125.3 L1662.1 2125.4 L1664.1 2125.4 L1666.1 2125.5 L1668.1 2125.6 L1670.1 2125.7 L1672.1 2125.8 L1674.1 2125.9 L1676.1 2126 L1678.1 2126 L1680.1 2126.1 L1682.1 2126.2 L1684.1 2126.3 L1686.1 2126.4 L1688.1 2126.4 L1690.1 2126.5 L1692.1 2126.6 L1694.1 2126.7 L1696.1 2126.8 L1698.1 2126.9 L1700.1 2126.9 L1702.1 2127 L1704.1 2127.1 L1706.1 2127.2 L1708.1 2127.2 L1710 2127.3 L1712 2127.4 L1714 2127.5 L1716 2127.5 L1718 2127.6 L1720 2127.7 L1722 2127.8 L1724 2127.8 L1726 2127.9 L1728 2128 L1730 2128 L1732 2128.1 L1734 2128.2 L1736 2128.2 L1738 2128.3 L1740 2128.4 L1742 2128.4 L1744 2128.5 L1746 2128.5 L1748 2128.6" fill="none" stroke="#0d0d0d" stroke-width="7.6" stroke-linejoin="round"/>
<path d="M1056.9 2516.8 L1058.9 2513.2 L1060.9 2509.7 L1062.9 2506.3 L1064.9 2502.9 L1066.9 2499.6 L1068.9 2496.3 L1070.9 2493.1 L1072.9 2489.9 L1074.9 2486.8 L1076.9 2483.7 L1078.9 2480.7 L1080.9 2477.7 L1082.9 2474.8 L1084.9 2471.8 L1086.9 2469 L1088.9 2466.1 L1090.9 2463.2 L1092.9 2460.4 L1094.9 2457.6 L1096.8 2454.8 L1098.8 2452.1 L1100.8 2449.3 L1102.8 2446.5 L1104.8 2443.8 L1106.8 2441 L1108.8 2438.3 L1110.8 2435.5 L1112.8 2432.7 L1114.8 2429.9 L1116.8 2427.1 L1118.8 2424.3 L1120.8 2421.5 L1122.8 2418.7 L1124.8 2415.9 L1126.8 2413 L1128.8 2410.2 L1130.8 2407.3 L1132.8 2404.4 L1134.8 2401.6 L1136.8 2398.7 L1138.8 2395.8 L1140.8 2392.9 L1142.8 2390 L1144.8 2387.1 L1146.8 2384.2 L1148.8 2381.3 L1150.8 2378.4 L1152.8 2375.5 L1154.8 2372.6 L1156.8 2369.7 L1158.8 2366.8 L1160.8 2363.9 L1162.8 2361 L1164.8 2358.1 L1166.8 2355.2 L1168.8 2352.3 L1170.8 2349.4 L1172.7 2346.5 L1174.7 2343.6 L1176.7 2340.7 L1178.7 2337.8 L1180.7 2335 L1182.7 2332.1 L1184.7 2329.3 L1186.7 2326.4 L1188.7 2323.6 L1190.7 2320.8 L1192.7 2318 L1194.7 2315.2 L1196.7 2312.4 L1198.7 2309.6 L1200.7 2306.8 L1202.7 2304.1 L1204.7 2301.3 L1206.7 2298.6 L1208.7 2295.9 L1210.7 2293.2 L1212.7 2290.5 L1214.7 2287.8 L1216.7 2285.2 L1218.7 2282.6 L1220.7 2279.9 L1222.7 2277.3 L1224.7 2274.8 L1226.7 2272.2 L1228.7 2269.6 L1230.7 2267.1 L1232.7 2264.6 L1234.7 2262.1 L1236.7 2259.6 L1238.7 2257.1 L1240.7 2254.7 L1242.7 2252.3 L1244.7 2249.9 L1246.7 2247.5 L1248.7 2245.1 L1250.6 2242.8 L1252.6 2240.4 L1254.6 2238.1 L1256.6 2235.8 L1258.6 2233.6 L1260.6 2231.3 L1262.6 2229.1 L1264.6 2226.9 L1266.6 2224.7 L1268.6 2222.6 L1270.6 2220.4 L1272.6 2218.3 L1274.6 2216.2 L1276.6 2214.2 L1278.6 2212.1 L1280.6 2210.1 L1282.6 2208.1 L1284.6 2206.2 L1286.6 2204.2 L1288.6 2202.3 L1290.6 2200.4 L1292.6 2198.5 L1294.6 2196.7 L1296.6 2194.9 L1298.6 2193.1 L1300.6 2191.3 L1302.6 2189.6 L1304.6 2187.9 L1306.6 2186.2 L1308.6 2184.5 L1310.6 2182.9 L1312.6 2181.3 L1314.6 2179.7 L1316.6 2178.2 L1318.6 2176.7 L1320.6 2175.2 L1322.6 2173.7 L1324.6 2172.3 L1326.5 2170.9 L1328.5 2169.5 L1330.5 2168.2 L1332.5 2166.9 L1334.5 2165.6 L1336.5 2164.3 L1338.5 2163.1 L1340.5 2161.9 L1342.5 2160.7 L1344.5 2159.5 L1346.5 2158.4 L1348.5 2157.3 L1350.5 2156.2 L1352.5 2155.1 L1354.5 2154.1 L1356.5 2153.1 L1358.5 2152.1 L1360.5 2151.1 L1362.5 2150.2 L1364.5 2149.2 L1366.5 2148.3 L1368.5 2147.5 L1370.5 2146.6 L1372.5 2145.8 L1374.5 2144.9 L1376.5 2144.1 L1378.5 2143.4 L1380.5 2142.6 L1382.5 2141.9 L1384.5 2141.1 L1386.5 2140.4 L1388.5 2139.8 L1390.5 2139.1 L1392.5 2138.4 L1394.5 2137.8 L1396.5 2137.2 L1398.5 2136.6 L1400.5 2136 L1402.5 2135.5 L1404.4 2134.9 L1406.4 2134.4 L1408.4 2133.9 L1410.4 2133.4 L1412.4 2132.9 L1414.4 2132.4 L1416.4 2132 L1418.4 2131.5 L1420.4 2131.1 L1422.4 2130.7 L1424.4 2130.3 L1426.4 2129.9 L1428.4 2129.5 L1430.4 2129.1 L1432.4 2128.8 L1434.4 2128.4 L1436.4 2128.1 L1438.4 2127.8 L1440.4 2127.4 L1442.4 2127.1 L1444.4 2126.9 L1446.4 2126.6 L1448.4 2126.3 L1450.4 2126 L1452.4 2125.8 L1454.4 2125.5 L1456.4 2125.3 L1458.4 2125 L1460.4 2124.8 L1462.4 2124.6 L1464.4 2124.4 L1466.4 2124.2 L1468.4 2124 L1470.4 2123.8 L1472.4 2123.6 L1474.4 2123.5 L1476.4 2123.3 L1478.4 2123.1 L1480.3 2123 L1482.3 2122.9 L1484.3 2122.7 L1486.3 2122.6 L1488.3 2122.5 L1490.3 2122.4 L1492.3 2122.2 L1494.3 2122.1 L1496.3 2122 L1498.3 2122 L1500.3 2121.9 L1502.3 2121.8 L1504.3 2121.7 L1506.3 2121.7 L1508.3 2121.6 L1510.3 2121.5 L1512.3 2121.5 L1514.3 2121.4 L1516.3 2121.4 L1518.3 2121.4 L1520.3 2121.3 L1522.3 2121.3 L1524.3 2121.3 L1526.3 2121.3 L1528.3 2121.3 L1530.3 2121.2 L1532.3 2121.2 L1534.3 2121.2 L1536.3 2121.2 L1538.3 2121.3 L1540.3 2121.3 L1542.3 2121.3 L1544.3 2121.3 L1546.3 2121.3 L1548.3 2121.3 L1550.3 2121.4 L1552.3 2121.4 L1554.3 2121.4 L1556.2 2121.5 L1558.2 2121.5 L1560.2 2121.6 L1562.2 2121.6 L1564.2 2121.7 L1566.2 2121.7 L1568.2 2121.8 L1570.2 2121.8 L1572.2 2121.9 L1574.2 2121.9 L1576.2 2122 L1578.2 2122.1 L1580.2 2122.1 L1582.2 2122.2 L1584.2 2122.3 L1586.2 2122.3 L1588.2 2122.4 L1590.2 2122.5 L1592.2 2122.5 L1594.2 2122.6 L1596.2 2122.7 L1598.2 2122.8 L1600.2 2122.8 L1602.2 2122.9 L1604.2 2123 L1606.2 2123.1 L1608.2 2123.1 L1610.2 2123.2 L1612.2 2123.3 L1614.2 2123.4 L1616.2 2123.4 L1618.2 2123.5 L1620.2 2123.6 L1622.2 2123.7 L1624.2 2123.8 L1626.2 2123.9 L1628.2 2123.9 L1630.2 2124 L1632.2 2124.1 L1634.1 2124.2 L1636.1 2124.3 L1638.1 2124.3 L1640.1 2124.4 L1642.1 2124.5 L1644.1 2124.6 L1646.1 2124.7 L1648.1 2124.8 L1650.1 2124.9 L1652.1 2124.9 L1654.1 2125 L1656.1 2125.1 L1658.1 2125.2 L1660.1 2125.3 L1662.1 2125.4 L1664.1 2125.4 L1666.1 2125.5 L1668.1 2125.6 L1670.1 2125.7 L1672.1 2125.8 L1674.1 2125.9 L1676.1 2126 L1678.1 2126 L1680.1 2126.1 L1682.1 2126.2 L1684.1 2126.3 L1686.1 2126.4 L1688.1 2126.4 L1690.1 2126.5 L1692.1 2126.6 L1694.1 2126.7 L1696.1 2126.8 L1698.1 2126.9 L1700.1 2126.9 L1702.1 2127 L1704.1 2127.1 L1706.1 2127.2 L1708.1 2127.2 L1710 2127.3 L1712 2127.4 L1714 2127.5 L1716 2127.5 L1718 2127.6 L1720 2127.7 L1722 2127.8 L1724 2127.8 L1726 2127.9 L1728 2128 L1730 2128 L1732 2128.1 L1734 2128.2 L1736 2128.2 L1738 2128.3 L1740 2128.4 L1742 2128.4 L1744 2128.5 L1746 2128.5 L1748 2128.6" fill="none" stroke="#fff" stroke-opacity="0.13" stroke-width="7.6" stroke-dasharray="0.8 1.7 0.5 2.6 1.1 2.1" stroke-linejoin="round"/>
<path d="M1016 1854.4V2628.7H1790.5M1002.4 2608.6H1016M1002.4 2516.8H1016M1002.4 2425.1H1016M1002.4 2333.3H1016M1002.4 2241.6H1016M1002.4 2149.8H1016M1002.4 2058.1H1016M1002.4 1966.3H1016M1035.9 2628.7V2642.3M1127.6 2628.7V2642.3M1219.2 2628.7V2642.3M1310.9 2628.7V2642.3M1402.5 2628.7V2642.3M1494.2 2628.7V2642.3M1585.8 2628.7V2642.3M1677.5 2628.7V2642.3M1769.1 2628.7V2642.3" stroke="#000" stroke-width="2" fill="none" stroke-linecap="butt" stroke-linejoin="miter"/>
<g font-family='"Liberation Sans", Arial, Helvetica, sans-serif' font-size="32.7" text-anchor="middle" fill="#000" stroke="#000" stroke-width="0.75" stroke-linejoin="round"><text x="1035.9" y="2674.1">0</text><text x="1127.6" y="2674.1">50</text><text x="1219.2" y="2674.1">100</text><text x="1310.9" y="2674.1">150</text><text x="1402.5" y="2674.1">200</text><text x="1494.2" y="2674.1">250</text><text x="1585.8" y="2674.1">300</text><text x="1677.5" y="2674.1">350</text><text x="1769.1" y="2674.1">400</text><text x="1402.5" y="2710">GFAP</text><text transform="translate(988.8 2608.6) rotate(-90)">0.5</text><text transform="translate(988.8 2516.8) rotate(-90)">1.0</text><text transform="translate(988.8 2425.1) rotate(-90)">2.0</text><text transform="translate(988.8 2333.3) rotate(-90)">4.0</text><text transform="translate(988.8 2241.6) rotate(-90)">8.0</text><text transform="translate(988.8 2149.8) rotate(-90)">16.0</text><text transform="translate(988.8 2058.1) rotate(-90)">32.0</text><text transform="translate(988.8 1966.3) rotate(-90)">64.0</text><text transform="translate(952.6 2241.6) rotate(-90)">Adjusted HR</text></g>
</g>
</svg>
</body>
</html>
